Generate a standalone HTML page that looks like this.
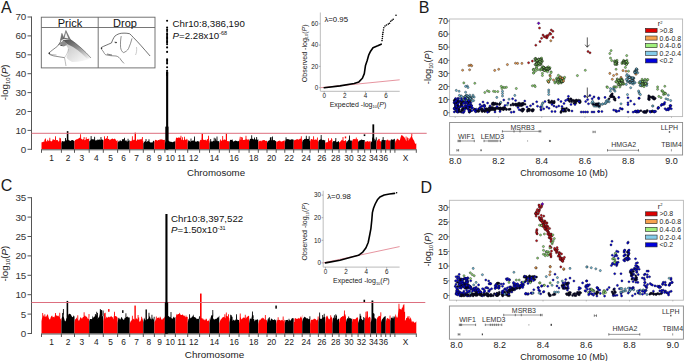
<!DOCTYPE html>
<html><head><meta charset="utf-8"><style>
html,body{margin:0;padding:0;background:#fff;}
svg{display:block;font-family:"Liberation Sans", sans-serif;}
</style></head><body>
<svg width="685" height="361" viewBox="0 0 685 361">
<rect width="685" height="361" fill="#fff"/>
<text x="1.00" y="12.60" font-size="16" text-anchor="start" fill="#1a1a1a" >A</text>
<text transform="translate(8.00,82.30) rotate(-90)" font-size="9.7" text-anchor="middle" fill="#222">-log<tspan font-size="6.01" dy="2.42">10</tspan><tspan dy="-2.42">(</tspan><tspan font-style="italic">P</tspan>)</text>
<line x1="31.50" y1="16.50" x2="31.50" y2="149.80" stroke="#555" stroke-width="1" />
<line x1="27.50" y1="149.30" x2="31.50" y2="149.30" stroke="#555" stroke-width="1" />
<text x="26.30" y="152.70" font-size="9.8" text-anchor="end" fill="#333" >0</text>
<line x1="27.50" y1="130.40" x2="31.50" y2="130.40" stroke="#555" stroke-width="1" />
<text x="26.30" y="133.80" font-size="9.8" text-anchor="end" fill="#333" >10</text>
<line x1="27.50" y1="111.50" x2="31.50" y2="111.50" stroke="#555" stroke-width="1" />
<text x="26.30" y="114.90" font-size="9.8" text-anchor="end" fill="#333" >20</text>
<line x1="27.50" y1="92.60" x2="31.50" y2="92.60" stroke="#555" stroke-width="1" />
<text x="26.30" y="96.00" font-size="9.8" text-anchor="end" fill="#333" >30</text>
<line x1="27.50" y1="73.70" x2="31.50" y2="73.70" stroke="#555" stroke-width="1" />
<text x="26.30" y="77.10" font-size="9.8" text-anchor="end" fill="#333" >40</text>
<line x1="27.50" y1="54.80" x2="31.50" y2="54.80" stroke="#555" stroke-width="1" />
<text x="26.30" y="58.20" font-size="9.8" text-anchor="end" fill="#333" >50</text>
<line x1="27.50" y1="35.90" x2="31.50" y2="35.90" stroke="#555" stroke-width="1" />
<text x="26.30" y="39.30" font-size="9.8" text-anchor="end" fill="#333" >60</text>
<line x1="27.50" y1="17.00" x2="31.50" y2="17.00" stroke="#555" stroke-width="1" />
<text x="26.30" y="20.40" font-size="9.8" text-anchor="end" fill="#333" >70</text>
<polygon points="41.50,149.30 41.50,142.60 42.21,142.07 42.92,142.21 43.63,141.59 44.34,141.84 44.44,139.53 45.24,139.53 45.34,141.84 45.05,142.05 45.15,138.39 45.95,138.39 46.05,142.05 45.76,141.51 46.48,141.25 47.19,141.38 47.29,139.83 48.09,139.83 48.19,141.38 47.90,141.66 48.61,140.85 49.32,140.54 49.42,137.80 50.22,137.80 50.32,140.54 50.03,141.48 50.74,140.68 51.45,141.40 52.16,141.02 52.87,138.91 53.58,139.44 54.29,139.92 55.00,139.69 55.10,136.15 55.90,136.15 56.00,139.69 55.71,140.80 56.42,140.00 57.14,140.11 57.85,140.20 58.56,141.81 59.27,141.00 59.37,137.82 60.17,137.82 60.27,141.00 59.98,140.68 60.08,138.29 60.88,138.29 60.98,140.68 60.69,141.01 61.40,140.76 61.40,149.30" fill="#ff0000"/>
<polygon points="61.40,149.30 61.40,143.07 62.13,141.31 62.86,141.01 63.58,141.51 64.31,141.49 65.04,140.70 65.14,138.07 65.94,138.07 66.04,140.70 65.77,140.14 66.49,140.56 67.22,139.15 67.95,139.43 68.68,140.17 69.41,140.56 70.13,140.85 70.86,140.88 71.59,139.88 72.32,139.98 73.04,140.16 73.77,140.82 74.50,141.14 74.50,149.30" fill="#000000"/>
<polygon points="74.50,149.30 74.50,141.45 75.20,140.07 75.90,139.63 76.60,139.17 77.30,139.18 78.00,138.81 78.70,138.49 79.40,137.42 80.10,138.27 80.20,134.21 81.00,134.21 81.10,138.27 80.80,138.47 81.50,138.84 82.20,139.38 82.90,139.41 83.60,138.99 83.70,136.88 84.50,136.88 84.60,138.99 84.30,140.09 85.00,140.18 85.70,139.50 85.80,137.28 86.60,137.28 86.70,139.50 86.40,139.58 87.10,139.11 87.80,139.01 88.50,138.71 89.20,138.48 89.20,149.30" fill="#ff0000"/>
<polygon points="89.20,149.30 89.20,141.41 89.91,140.65 90.61,140.03 90.71,136.11 91.51,136.11 91.61,140.03 91.31,139.60 92.02,139.32 92.72,139.29 93.43,139.29 94.14,139.73 94.23,136.78 95.04,136.78 95.14,139.73 94.84,139.62 95.55,140.67 96.25,139.79 96.95,140.78 97.66,139.27 98.36,139.89 99.07,139.15 99.78,139.70 100.48,140.18 100.58,136.98 101.38,136.98 101.48,140.18 101.19,140.20 101.89,139.16 102.59,139.78 103.30,140.09 103.30,149.30" fill="#000000"/>
<polygon points="103.30,149.30 103.30,141.73 104.02,139.32 104.11,136.21 104.92,136.21 105.02,139.32 104.73,138.89 105.44,138.98 106.16,138.28 106.88,138.31 106.97,136.00 107.78,136.00 107.88,138.31 107.59,138.92 108.30,139.01 109.02,138.84 109.73,140.17 110.45,139.50 111.16,139.29 111.88,138.78 112.59,138.61 113.31,139.29 114.02,138.91 114.74,138.60 115.45,139.24 116.17,140.66 116.88,140.68 117.60,140.11 117.60,149.30" fill="#ff0000"/>
<polygon points="117.60,149.30 117.60,142.69 118.31,141.67 119.02,140.38 119.74,141.76 119.84,140.16 120.64,140.16 120.74,141.76 120.45,141.18 121.16,141.03 121.87,141.18 121.97,139.31 122.77,139.31 122.87,141.18 122.58,139.98 123.29,139.08 124.01,139.39 124.11,137.75 124.91,137.75 125.01,139.39 124.72,140.17 125.43,140.71 126.14,140.10 126.85,141.55 127.56,141.51 127.66,138.75 128.46,138.75 128.56,141.51 128.28,141.07 128.99,140.65 129.70,140.16 129.70,149.30" fill="#000000"/>
<polygon points="129.70,149.30 129.70,142.05 130.42,140.86 131.13,141.27 131.85,140.13 131.95,136.15 132.75,136.15 132.85,140.13 132.56,140.06 133.28,140.26 133.99,139.62 134.71,139.97 135.43,139.51 136.14,140.91 136.86,140.26 137.57,139.22 138.29,139.50 139.01,139.98 139.72,139.21 140.44,139.51 141.15,138.66 141.87,139.65 141.97,136.97 142.77,136.97 142.87,139.65 142.58,140.62 143.30,140.63 143.30,149.30" fill="#ff0000"/>
<polygon points="143.30,149.30 143.30,143.57 144.04,141.92 144.78,141.46 145.52,140.95 145.62,139.05 146.42,139.05 146.52,140.95 146.26,141.98 147.00,141.83 147.74,141.02 148.48,141.34 148.58,139.24 149.38,139.24 149.48,141.34 149.22,141.79 149.96,141.69 150.70,142.64 151.44,142.32 152.18,142.77 152.92,141.51 153.66,140.55 154.40,142.02 154.40,149.30" fill="#000000"/>
<polygon points="154.40,149.30 154.40,142.33 155.10,139.73 155.80,139.95 156.50,140.08 157.20,140.90 157.90,140.01 158.60,140.10 159.30,140.28 160.00,138.97 160.70,139.70 161.40,139.40 162.10,139.20 162.80,139.99 163.50,139.94 164.20,139.72 164.90,139.97 164.90,149.30" fill="#ff0000"/>
<polygon points="164.90,149.30 164.90,143.58 165.60,141.32 166.30,141.55 167.00,140.99 167.10,137.54 167.90,137.54 168.00,140.99 167.70,140.61 168.40,140.39 169.10,141.31 169.80,141.42 170.50,141.71 171.20,141.63 171.90,141.97 172.60,142.27 173.30,141.68 174.00,141.87 174.70,141.27 175.40,141.57 175.40,149.30" fill="#000000"/>
<polygon points="175.40,149.30 175.40,141.54 176.12,137.50 176.85,137.84 177.57,138.03 178.29,137.58 179.02,137.56 179.74,137.75 180.46,137.87 180.56,135.83 181.36,135.83 181.46,137.87 181.19,138.88 181.91,140.15 182.01,137.30 182.81,137.30 182.91,140.15 182.64,139.81 183.36,140.29 184.08,139.69 184.18,136.72 184.98,136.72 185.08,139.69 184.81,139.43 185.53,139.66 186.25,139.66 186.98,138.59 187.70,140.29 187.70,149.30" fill="#ff0000"/>
<polygon points="187.70,149.30 187.70,143.41 188.40,140.26 189.10,140.52 189.80,141.24 190.50,141.90 190.60,138.54 191.40,138.54 191.50,141.90 191.20,141.31 191.90,140.99 192.60,140.48 193.30,140.60 194.00,140.47 194.10,136.59 194.90,136.59 195.00,140.47 194.70,140.42 195.40,141.52 196.10,142.02 196.80,141.28 197.50,141.09 198.20,141.52 198.90,141.21 199.60,142.21 199.60,149.30" fill="#000000"/>
<polygon points="199.60,149.30 199.60,141.60 200.31,139.99 201.01,139.71 201.72,140.15 201.82,137.73 202.62,137.73 202.72,140.15 202.43,139.94 203.14,139.71 203.84,139.87 204.55,139.97 205.26,140.18 205.96,139.17 206.67,141.09 207.38,138.93 208.09,138.95 208.19,135.81 208.99,135.81 209.09,138.95 208.79,140.67 209.50,140.22 209.50,149.30" fill="#ff0000"/>
<polygon points="209.50,149.30 209.50,143.52 210.20,141.17 210.30,138.99 211.10,138.99 211.20,141.17 210.90,140.68 211.60,141.52 212.30,141.63 213.00,140.69 213.70,140.91 213.80,137.82 214.60,137.82 214.70,140.91 214.40,141.02 215.10,141.27 215.20,138.51 216.00,138.51 216.10,141.27 215.80,140.94 216.50,140.47 216.60,136.45 217.40,136.45 217.50,140.47 217.20,141.35 217.90,140.98 218.60,141.26 219.30,140.45 219.30,149.30" fill="#000000"/>
<polygon points="219.30,149.30 219.30,142.99 220.02,141.73 220.12,139.57 220.92,139.57 221.02,141.73 220.74,141.06 221.46,140.85 222.19,140.05 222.29,135.92 223.09,135.92 223.19,140.05 222.91,140.85 223.63,139.70 224.35,139.51 225.07,139.51 225.79,140.01 226.51,140.36 227.24,141.12 227.96,141.20 228.68,141.20 229.40,140.98 229.40,149.30" fill="#ff0000"/>
<polygon points="229.40,149.30 229.40,142.43 230.14,140.09 230.88,139.69 231.62,139.91 232.35,139.25 233.09,141.51 233.83,141.42 234.57,140.96 235.31,140.40 236.05,140.70 236.78,140.89 237.52,141.33 238.26,141.22 239.00,140.69 239.00,149.30" fill="#000000"/>
<polygon points="239.00,149.30 239.00,141.41 239.72,138.35 239.82,136.68 240.62,136.68 240.72,138.35 240.44,139.22 241.16,139.90 241.26,136.95 242.06,136.95 242.16,139.90 241.89,139.27 241.99,137.53 242.79,137.53 242.89,139.27 242.61,139.55 243.33,140.05 244.05,140.12 244.77,139.72 245.49,139.40 245.59,135.75 246.39,135.75 246.49,139.40 246.21,139.50 246.94,139.33 247.66,139.65 248.38,139.27 249.10,139.73 249.10,149.30" fill="#ff0000"/>
<polygon points="249.10,149.30 249.10,141.39 249.81,139.17 250.52,138.63 251.22,139.09 251.32,135.26 252.12,135.26 252.22,139.09 251.93,138.89 252.64,138.86 253.35,139.14 254.05,139.57 254.15,137.49 254.95,137.49 255.05,139.57 254.76,139.53 255.47,139.59 256.18,139.58 256.28,137.12 257.08,137.12 257.18,139.58 256.88,139.85 257.59,139.79 258.30,139.34 258.30,149.30" fill="#000000"/>
<polygon points="258.30,149.30 258.30,142.34 259.03,140.45 259.75,141.26 260.48,140.46 261.20,141.39 261.93,140.15 262.65,140.47 263.38,139.92 264.10,140.26 264.82,139.95 265.55,141.04 266.27,140.97 267.00,140.59 267.00,149.30" fill="#ff0000"/>
<polygon points="267.00,149.30 267.00,142.99 267.71,141.29 268.42,140.99 269.12,140.09 269.83,140.49 269.93,137.53 270.73,137.53 270.83,140.49 270.54,140.51 270.64,137.05 271.44,137.05 271.54,140.51 271.25,140.82 271.95,140.09 272.05,136.61 272.85,136.61 272.95,140.09 272.66,139.91 273.37,140.18 274.08,139.97 274.78,140.18 275.49,140.94 276.20,141.17 276.20,149.30" fill="#000000"/>
<polygon points="276.20,149.30 276.20,142.41 276.92,141.16 277.63,141.68 278.35,140.76 279.07,141.29 279.78,140.29 280.50,141.27 281.22,141.76 281.93,141.32 282.65,141.19 283.37,140.67 284.08,140.73 284.80,140.28 284.80,149.30" fill="#ff0000"/>
<polygon points="284.80,149.30 284.80,142.67 285.54,139.68 285.64,137.36 286.44,137.36 286.54,139.68 286.28,139.32 287.02,139.16 287.77,139.01 288.51,139.26 289.25,139.39 289.99,139.68 290.73,139.85 291.48,139.14 292.22,139.40 292.96,139.33 293.70,139.97 293.70,149.30" fill="#000000"/>
<polygon points="293.70,149.30 293.70,141.78 294.41,139.99 295.12,139.77 295.82,140.07 296.53,139.27 297.24,139.32 297.95,139.21 298.66,139.84 299.37,139.26 300.07,138.52 300.78,138.92 300.88,136.15 301.68,136.15 301.78,138.92 301.49,139.82 302.20,138.98 302.20,149.30" fill="#ff0000"/>
<polygon points="302.20,149.30 302.20,142.26 302.92,140.07 303.64,140.11 304.35,138.93 305.07,138.85 305.79,139.27 305.89,135.72 306.69,135.72 306.79,139.27 306.51,138.47 307.23,138.99 307.95,138.95 308.66,139.09 308.76,136.31 309.56,136.31 309.66,139.09 309.38,140.79 310.10,140.23 310.10,149.30" fill="#000000"/>
<polygon points="310.10,149.30 310.10,141.69 310.85,139.17 311.61,139.04 312.36,139.30 313.12,140.01 313.22,136.29 314.02,136.29 314.12,140.01 313.87,139.99 314.63,139.87 315.38,139.50 316.14,139.59 316.89,140.05 316.99,137.50 317.79,137.50 317.89,140.05 317.65,141.27 318.40,140.27 318.40,149.30" fill="#ff0000"/>
<polygon points="318.40,149.30 318.40,142.15 319.16,139.96 319.91,139.87 320.67,139.15 320.77,135.01 321.57,135.01 321.67,139.15 321.42,139.28 322.18,139.86 322.93,140.37 323.69,139.70 324.44,140.42 325.20,139.70 325.20,149.30" fill="#000000"/>
<polygon points="325.20,149.30 325.20,143.18 325.92,141.93 326.64,142.41 327.36,142.24 328.08,141.51 328.18,138.20 328.98,138.20 329.08,141.51 328.80,141.13 329.52,140.81 330.24,140.32 330.96,140.18 331.06,138.34 331.86,138.34 331.96,140.18 331.68,140.22 332.40,139.32 332.40,149.30" fill="#ff0000"/>
<polygon points="332.40,149.30 332.40,142.66 333.13,141.32 333.87,141.06 334.60,141.21 335.33,140.59 335.43,138.02 336.23,138.02 336.33,140.59 336.07,141.02 336.80,142.33 337.53,141.74 338.27,141.34 339.00,141.16 339.00,149.30" fill="#000000"/>
<polygon points="339.00,149.30 339.00,142.77 339.70,142.12 340.40,141.62 341.10,140.70 341.80,139.82 342.50,140.46 342.60,137.06 343.40,137.06 343.50,140.46 343.20,139.94 343.90,141.03 344.60,140.94 345.30,140.04 346.00,140.47 346.00,149.30" fill="#ff0000"/>
<polygon points="346.00,149.30 346.00,143.44 346.74,140.89 347.48,141.61 348.21,140.31 348.95,139.53 349.05,135.62 349.85,135.62 349.95,139.53 349.69,139.03 350.42,140.45 351.16,140.98 351.90,140.00 351.90,149.30" fill="#000000"/>
<polygon points="351.90,149.30 351.90,142.27 352.67,139.75 353.45,139.10 354.23,139.37 355.00,138.85 355.77,139.47 355.88,137.48 356.67,137.48 356.77,139.47 356.55,139.72 357.33,139.05 358.10,139.69 358.10,149.30" fill="#ff0000"/>
<polygon points="358.10,149.30 358.10,142.11 358.83,140.90 359.57,140.50 360.30,140.36 361.03,139.83 361.77,139.40 362.50,139.99 363.23,139.99 363.97,140.04 364.70,140.09 364.70,149.30" fill="#000000"/>
<polygon points="364.70,149.30 364.70,143.30 365.44,141.22 366.18,141.83 366.91,141.13 367.65,141.09 368.39,141.72 369.12,141.13 369.86,141.55 370.60,140.80 370.60,149.30" fill="#ff0000"/>
<polygon points="370.60,149.30 370.60,142.44 371.34,142.02 372.08,140.87 372.18,137.43 372.98,137.43 373.08,140.87 372.81,139.88 373.55,140.52 374.29,140.66 374.39,138.81 375.19,138.81 375.29,140.66 375.02,139.77 375.76,140.48 375.86,137.13 376.66,137.13 376.76,140.48 376.50,140.38 376.50,149.30" fill="#000000"/>
<polygon points="376.50,149.30 376.50,142.44 377.27,140.14 378.03,140.13 378.80,139.93 379.57,140.59 380.33,141.42 381.10,140.82 381.10,149.30" fill="#ff0000"/>
<polygon points="381.10,149.30 381.10,142.34 381.87,139.74 382.63,140.01 382.73,137.07 383.53,137.07 383.63,140.01 383.40,140.01 384.17,140.04 384.93,140.15 385.70,139.94 385.70,149.30" fill="#000000"/>
<polygon points="385.70,149.30 385.70,141.78 386.47,139.95 387.23,139.66 388.00,139.57 388.77,140.87 389.53,140.38 390.30,139.95 390.30,149.30" fill="#ff0000"/>
<polygon points="390.30,149.30 390.30,141.54 391.07,139.15 391.83,139.42 392.60,139.71 393.37,139.50 394.13,139.18 394.90,138.44 394.90,149.30" fill="#000000"/>
<polygon points="394.90,149.30 394.90,143.44 395.61,140.52 396.33,140.39 397.04,138.48 397.75,139.12 398.47,139.47 399.18,140.14 399.89,140.22 400.61,137.14 401.32,135.13 402.03,135.11 402.75,135.91 403.46,136.46 404.17,137.06 404.89,138.16 405.60,140.51 405.70,136.39 406.50,136.39 406.60,140.51 406.31,141.33 407.03,140.58 407.13,137.48 407.93,137.48 408.03,140.58 407.74,140.87 408.45,140.37 408.55,138.10 409.35,138.10 409.45,140.37 409.17,139.65 409.88,138.96 410.59,137.16 411.31,135.97 411.41,133.24 412.21,133.24 412.31,135.97 412.02,136.32 412.73,138.52 413.45,139.68 414.16,140.74 414.87,143.08 415.59,143.99 416.30,143.23 416.30,149.30" fill="#ff0000"/>
<rect x="66.80" y="131.16" width="1.6" height="10.58" fill="#000"/>
<rect x="134.60" y="132.67" width="1.4" height="9.07" fill="#f00"/>
<rect x="201.60" y="133.61" width="1.4" height="8.13" fill="#f00"/>
<rect x="225.80" y="133.61" width="1.2" height="8.13" fill="#f00"/>
<rect x="363.70" y="134.37" width="1.6" height="1.70" fill="#000"/>
<rect x="372.40" y="124.35" width="1.8" height="17.39" fill="#000"/>
<rect x="344.80" y="136.45" width="1.4" height="1.89" fill="#f00"/>
<rect x="378.30" y="138.91" width="1.4" height="1.89" fill="#f00"/>
<line x1="41.50" y1="149.80" x2="416.30" y2="149.80" stroke="#555" stroke-width="1" />
<line x1="41.50" y1="149.30" x2="41.50" y2="152.80" stroke="#444" stroke-width="0.9" />
<line x1="61.40" y1="149.30" x2="61.40" y2="152.80" stroke="#444" stroke-width="0.9" />
<line x1="74.50" y1="149.30" x2="74.50" y2="152.80" stroke="#444" stroke-width="0.9" />
<line x1="89.20" y1="149.30" x2="89.20" y2="152.80" stroke="#444" stroke-width="0.9" />
<line x1="103.30" y1="149.30" x2="103.30" y2="152.80" stroke="#444" stroke-width="0.9" />
<line x1="117.60" y1="149.30" x2="117.60" y2="152.80" stroke="#444" stroke-width="0.9" />
<line x1="129.70" y1="149.30" x2="129.70" y2="152.80" stroke="#444" stroke-width="0.9" />
<line x1="143.30" y1="149.30" x2="143.30" y2="152.80" stroke="#444" stroke-width="0.9" />
<line x1="154.40" y1="149.30" x2="154.40" y2="152.80" stroke="#444" stroke-width="0.9" />
<line x1="164.90" y1="149.30" x2="164.90" y2="152.80" stroke="#444" stroke-width="0.9" />
<line x1="175.40" y1="149.30" x2="175.40" y2="152.80" stroke="#444" stroke-width="0.9" />
<line x1="187.70" y1="149.30" x2="187.70" y2="152.80" stroke="#444" stroke-width="0.9" />
<line x1="199.60" y1="149.30" x2="199.60" y2="152.80" stroke="#444" stroke-width="0.9" />
<line x1="209.50" y1="149.30" x2="209.50" y2="152.80" stroke="#444" stroke-width="0.9" />
<line x1="219.30" y1="149.30" x2="219.30" y2="152.80" stroke="#444" stroke-width="0.9" />
<line x1="229.40" y1="149.30" x2="229.40" y2="152.80" stroke="#444" stroke-width="0.9" />
<line x1="239.00" y1="149.30" x2="239.00" y2="152.80" stroke="#444" stroke-width="0.9" />
<line x1="249.10" y1="149.30" x2="249.10" y2="152.80" stroke="#444" stroke-width="0.9" />
<line x1="258.30" y1="149.30" x2="258.30" y2="152.80" stroke="#444" stroke-width="0.9" />
<line x1="267.00" y1="149.30" x2="267.00" y2="152.80" stroke="#444" stroke-width="0.9" />
<line x1="276.20" y1="149.30" x2="276.20" y2="152.80" stroke="#444" stroke-width="0.9" />
<line x1="284.80" y1="149.30" x2="284.80" y2="152.80" stroke="#444" stroke-width="0.9" />
<line x1="293.70" y1="149.30" x2="293.70" y2="152.80" stroke="#444" stroke-width="0.9" />
<line x1="302.20" y1="149.30" x2="302.20" y2="152.80" stroke="#444" stroke-width="0.9" />
<line x1="310.10" y1="149.30" x2="310.10" y2="152.80" stroke="#444" stroke-width="0.9" />
<line x1="318.40" y1="149.30" x2="318.40" y2="152.80" stroke="#444" stroke-width="0.9" />
<line x1="325.20" y1="149.30" x2="325.20" y2="152.80" stroke="#444" stroke-width="0.9" />
<line x1="332.40" y1="149.30" x2="332.40" y2="152.80" stroke="#444" stroke-width="0.9" />
<line x1="339.00" y1="149.30" x2="339.00" y2="152.80" stroke="#444" stroke-width="0.9" />
<line x1="346.00" y1="149.30" x2="346.00" y2="152.80" stroke="#444" stroke-width="0.9" />
<line x1="351.90" y1="149.30" x2="351.90" y2="152.80" stroke="#444" stroke-width="0.9" />
<line x1="358.10" y1="149.30" x2="358.10" y2="152.80" stroke="#444" stroke-width="0.9" />
<line x1="364.70" y1="149.30" x2="364.70" y2="152.80" stroke="#444" stroke-width="0.9" />
<line x1="370.60" y1="149.30" x2="370.60" y2="152.80" stroke="#444" stroke-width="0.9" />
<line x1="376.50" y1="149.30" x2="376.50" y2="152.80" stroke="#444" stroke-width="0.9" />
<line x1="381.10" y1="149.30" x2="381.10" y2="152.80" stroke="#444" stroke-width="0.9" />
<line x1="385.70" y1="149.30" x2="385.70" y2="152.80" stroke="#444" stroke-width="0.9" />
<line x1="390.30" y1="149.30" x2="390.30" y2="152.80" stroke="#444" stroke-width="0.9" />
<line x1="394.90" y1="149.30" x2="394.90" y2="152.80" stroke="#444" stroke-width="0.9" />
<line x1="416.30" y1="149.30" x2="416.30" y2="152.80" stroke="#444" stroke-width="0.9" />
<text transform="translate(51.45,161.00) scale(0.87,1)" font-size="9.6" text-anchor="middle" fill="#222">1</text>
<text transform="translate(67.95,161.00) scale(0.87,1)" font-size="9.6" text-anchor="middle" fill="#222">2</text>
<text transform="translate(81.85,161.00) scale(0.87,1)" font-size="9.6" text-anchor="middle" fill="#222">3</text>
<text transform="translate(96.25,161.00) scale(0.87,1)" font-size="9.6" text-anchor="middle" fill="#222">4</text>
<text transform="translate(110.45,161.00) scale(0.87,1)" font-size="9.6" text-anchor="middle" fill="#222">5</text>
<text transform="translate(123.65,161.00) scale(0.87,1)" font-size="9.6" text-anchor="middle" fill="#222">6</text>
<text transform="translate(136.50,161.00) scale(0.87,1)" font-size="9.6" text-anchor="middle" fill="#222">7</text>
<text transform="translate(148.85,161.00) scale(0.87,1)" font-size="9.6" text-anchor="middle" fill="#222">8</text>
<text transform="translate(159.65,161.00) scale(0.87,1)" font-size="9.6" text-anchor="middle" fill="#222">9</text>
<text transform="translate(170.15,161.00) scale(0.87,1)" font-size="9.6" text-anchor="middle" fill="#222">10</text>
<text transform="translate(181.55,161.00) scale(0.87,1)" font-size="9.6" text-anchor="middle" fill="#222">11</text>
<text transform="translate(193.65,161.00) scale(0.87,1)" font-size="9.6" text-anchor="middle" fill="#222">12</text>
<text transform="translate(214.40,161.00) scale(0.87,1)" font-size="9.6" text-anchor="middle" fill="#222">14</text>
<text transform="translate(234.20,161.00) scale(0.87,1)" font-size="9.6" text-anchor="middle" fill="#222">16</text>
<text transform="translate(253.70,161.00) scale(0.87,1)" font-size="9.6" text-anchor="middle" fill="#222">18</text>
<text transform="translate(271.60,161.00) scale(0.87,1)" font-size="9.6" text-anchor="middle" fill="#222">20</text>
<text transform="translate(289.25,161.00) scale(0.87,1)" font-size="9.6" text-anchor="middle" fill="#222">22</text>
<text transform="translate(306.15,161.00) scale(0.87,1)" font-size="9.6" text-anchor="middle" fill="#222">24</text>
<text transform="translate(321.80,161.00) scale(0.87,1)" font-size="9.6" text-anchor="middle" fill="#222">26</text>
<text transform="translate(335.70,161.00) scale(0.87,1)" font-size="9.6" text-anchor="middle" fill="#222">28</text>
<text transform="translate(348.95,161.00) scale(0.87,1)" font-size="9.6" text-anchor="middle" fill="#222">30</text>
<text transform="translate(361.40,161.00) scale(0.87,1)" font-size="9.6" text-anchor="middle" fill="#222">32</text>
<text transform="translate(373.55,161.00) scale(0.87,1)" font-size="9.6" text-anchor="middle" fill="#222">34</text>
<text transform="translate(383.40,161.00) scale(0.87,1)" font-size="9.6" text-anchor="middle" fill="#222">36</text>
<text transform="translate(405.60,161.00) scale(0.87,1)" font-size="9.6" text-anchor="middle" fill="#222">X</text>
<text x="216.00" y="175.70" font-size="9.7" text-anchor="middle" fill="#222" >Chromosome</text>
<line x1="31.50" y1="133.30" x2="426.70" y2="133.30" stroke="#dd6f7f" stroke-width="1" />
<rect x="166.1" y="71.81" width="2.1" height="77.49" fill="#000"/>
<rect x="165.3" y="126.62" width="3.2" height="22.68" fill="#000"/>
<circle cx="167.1" cy="20.8" r="1.05" fill="#000"/>
<circle cx="167.1" cy="27.6" r="1.05" fill="#000"/>
<circle cx="167.1" cy="29.6" r="1.05" fill="#000"/>
<circle cx="167.1" cy="31.0" r="1.05" fill="#000"/>
<circle cx="167.1" cy="33.2" r="1.05" fill="#000"/>
<circle cx="167.1" cy="34.6" r="1.05" fill="#000"/>
<circle cx="167.1" cy="36.0" r="1.05" fill="#000"/>
<circle cx="167.1" cy="37.4" r="1.05" fill="#000"/>
<circle cx="167.1" cy="38.6" r="1.05" fill="#000"/>
<circle cx="167.1" cy="40.0" r="1.05" fill="#000"/>
<circle cx="167.1" cy="41.4" r="1.05" fill="#000"/>
<circle cx="167.1" cy="42.8" r="1.05" fill="#000"/>
<circle cx="167.1" cy="44.2" r="1.05" fill="#000"/>
<circle cx="167.1" cy="47.4" r="1.05" fill="#000"/>
<circle cx="167.1" cy="51.9" r="1.05" fill="#000"/>
<circle cx="167.1" cy="59.2" r="1.05" fill="#000"/>
<circle cx="167.1" cy="60.6" r="1.05" fill="#000"/>
<circle cx="167.1" cy="62.0" r="1.05" fill="#000"/>
<circle cx="167.1" cy="63.4" r="1.05" fill="#000"/>
<circle cx="167.1" cy="67.2" r="1.05" fill="#000"/>
<circle cx="167.1" cy="70.8" r="1.05" fill="#000"/>
<circle cx="167.1" cy="72.2" r="1.05" fill="#000"/>
<circle cx="167.1" cy="73.6" r="1.05" fill="#000"/>
<circle cx="167.1" cy="75.0" r="1.05" fill="#000"/>
<text x="172.60" y="27.00" font-size="9.7" text-anchor="start" fill="#111" >Chr10:8,386,190</text>
<text x="172.6" y="38.5" font-size="9.7" fill="#111"><tspan font-style="italic">P</tspan>=2.28x10<tspan font-size="5.5" dy="-3.8">-68</tspan></text>
<text x="0.80" y="190.90" font-size="16" text-anchor="start" fill="#1a1a1a" >C</text>
<text transform="translate(8.00,263.70) rotate(-90)" font-size="9.7" text-anchor="middle" fill="#222">-log<tspan font-size="6.01" dy="2.42">10</tspan><tspan dy="-2.42">(</tspan><tspan font-style="italic">P</tspan>)</text>
<line x1="31.50" y1="197.20" x2="31.50" y2="334.00" stroke="#555" stroke-width="1" />
<line x1="27.50" y1="333.50" x2="31.50" y2="333.50" stroke="#555" stroke-width="1" />
<text x="26.30" y="336.90" font-size="9.8" text-anchor="end" fill="#333" >0</text>
<line x1="27.50" y1="314.10" x2="31.50" y2="314.10" stroke="#555" stroke-width="1" />
<text x="26.30" y="317.50" font-size="9.8" text-anchor="end" fill="#333" >5</text>
<line x1="27.50" y1="294.70" x2="31.50" y2="294.70" stroke="#555" stroke-width="1" />
<text x="26.30" y="298.10" font-size="9.8" text-anchor="end" fill="#333" >10</text>
<line x1="27.50" y1="275.30" x2="31.50" y2="275.30" stroke="#555" stroke-width="1" />
<text x="26.30" y="278.70" font-size="9.8" text-anchor="end" fill="#333" >15</text>
<line x1="27.50" y1="255.90" x2="31.50" y2="255.90" stroke="#555" stroke-width="1" />
<text x="26.30" y="259.30" font-size="9.8" text-anchor="end" fill="#333" >20</text>
<line x1="27.50" y1="236.50" x2="31.50" y2="236.50" stroke="#555" stroke-width="1" />
<text x="26.30" y="239.90" font-size="9.8" text-anchor="end" fill="#333" >25</text>
<line x1="27.50" y1="217.10" x2="31.50" y2="217.10" stroke="#555" stroke-width="1" />
<text x="26.30" y="220.50" font-size="9.8" text-anchor="end" fill="#333" >30</text>
<line x1="27.50" y1="197.70" x2="31.50" y2="197.70" stroke="#555" stroke-width="1" />
<text x="26.30" y="201.10" font-size="9.8" text-anchor="end" fill="#333" >35</text>
<polygon points="41.50,333.50 41.50,321.32 42.21,316.91 42.31,312.90 43.11,312.90 43.21,316.91 42.92,318.09 43.02,315.48 43.82,315.48 43.92,318.09 43.63,316.93 44.34,316.61 44.44,314.37 45.24,314.37 45.34,316.61 45.05,315.36 45.76,317.05 46.48,316.25 47.19,314.49 47.90,314.53 48.61,317.52 49.32,319.35 50.03,319.44 50.74,317.35 51.45,315.98 52.16,315.54 52.87,317.51 53.58,316.67 54.29,317.62 55.00,315.37 55.10,313.08 55.90,313.08 56.00,315.37 55.71,314.91 56.42,315.30 57.14,316.32 57.85,315.46 58.56,315.63 59.27,317.44 59.37,312.76 60.17,312.76 60.27,317.44 59.98,317.75 60.69,319.47 61.40,317.13 61.40,333.50" fill="#ff0000"/>
<polygon points="61.40,333.50 61.40,321.25 62.13,316.51 62.23,313.11 63.03,313.11 63.13,316.51 62.86,313.79 62.96,309.03 63.76,309.03 63.86,313.79 63.58,315.98 64.31,319.10 65.04,321.59 65.77,320.68 66.49,318.13 67.22,317.78 67.32,314.21 68.12,314.21 68.22,317.78 67.95,316.47 68.68,313.96 69.41,313.74 70.13,313.88 70.86,314.49 71.59,316.05 72.32,317.24 73.04,316.65 73.77,315.23 74.50,316.79 74.50,333.50" fill="#000000"/>
<polygon points="74.50,333.50 74.50,322.04 75.20,319.30 75.90,318.97 76.60,317.26 77.30,319.38 77.40,315.23 78.20,315.23 78.30,319.38 78.00,319.35 78.70,320.72 79.40,320.36 80.10,318.00 80.80,317.07 81.50,318.40 82.20,318.53 82.90,317.00 83.60,317.10 83.70,312.13 84.50,312.13 84.60,317.10 84.30,316.69 85.00,315.25 85.70,316.42 86.40,316.53 87.10,317.37 87.80,318.72 88.50,318.99 88.60,313.99 89.40,313.99 89.50,318.99 89.20,316.05 89.20,333.50" fill="#ff0000"/>
<polygon points="89.20,333.50 89.20,321.51 89.91,319.12 90.61,319.09 91.31,318.90 92.02,319.13 92.72,315.54 93.43,317.88 94.14,316.48 94.84,316.64 94.94,313.94 95.74,313.94 95.84,316.64 95.55,315.78 96.25,315.33 96.35,311.77 97.15,311.77 97.25,315.33 96.95,316.96 97.05,313.05 97.86,313.05 97.95,316.96 97.66,319.07 98.36,317.48 99.07,317.21 99.78,313.77 99.88,309.01 100.68,309.01 100.78,313.77 100.48,315.03 100.58,310.16 101.38,310.16 101.48,315.03 101.19,314.58 101.28,310.06 102.09,310.06 102.19,314.58 101.89,316.76 102.59,315.73 102.69,310.59 103.50,310.59 103.59,315.73 103.30,316.52 103.30,333.50" fill="#000000"/>
<polygon points="103.30,333.50 103.30,321.16 104.02,317.24 104.11,313.16 104.92,313.16 105.02,317.24 104.73,317.37 104.83,312.87 105.63,312.87 105.73,317.37 105.44,318.86 106.16,317.68 106.88,316.58 107.59,317.98 108.30,317.12 109.02,316.52 109.73,317.42 110.45,316.65 111.16,315.81 111.88,317.02 112.59,316.92 113.31,319.43 114.02,315.12 114.12,311.85 114.92,311.85 115.02,315.12 114.74,315.99 115.45,316.01 116.17,316.47 116.88,316.41 117.60,317.88 117.60,333.50" fill="#ff0000"/>
<polygon points="117.60,333.50 117.60,322.93 118.31,318.27 119.02,317.58 119.74,319.22 120.45,319.58 121.16,317.53 121.87,317.12 122.58,318.90 123.29,319.56 124.01,319.97 124.72,317.67 125.43,318.08 125.53,313.21 126.33,313.21 126.43,318.08 126.14,319.03 126.24,316.98 127.04,316.98 127.14,319.03 126.85,318.05 127.56,316.24 128.28,317.25 128.99,317.71 129.70,317.20 129.70,333.50" fill="#000000"/>
<polygon points="129.70,333.50 129.70,323.99 130.42,321.83 131.13,320.64 131.85,319.88 131.95,315.70 132.75,315.70 132.85,319.88 132.56,320.28 133.28,318.44 133.99,319.51 134.71,319.60 135.43,319.62 136.14,318.57 136.86,318.59 137.57,319.80 137.67,315.10 138.47,315.10 138.57,319.80 138.29,321.90 138.39,317.55 139.19,317.55 139.29,321.90 139.01,322.07 139.72,321.39 140.44,321.17 141.15,318.85 141.25,316.63 142.05,316.63 142.15,318.85 141.87,317.62 142.58,318.77 143.30,321.84 143.30,333.50" fill="#ff0000"/>
<polygon points="143.30,333.50 143.30,322.60 144.04,317.56 144.78,319.13 145.52,320.61 146.26,319.73 147.00,319.55 147.74,318.90 148.48,318.16 148.58,312.81 149.38,312.81 149.48,318.16 149.22,315.97 149.96,316.66 150.70,318.98 151.44,319.53 151.54,314.80 152.34,314.80 152.44,319.53 152.18,319.91 152.92,318.00 153.66,319.94 153.76,316.86 154.56,316.86 154.66,319.94 154.40,318.07 154.40,333.50" fill="#000000"/>
<polygon points="154.40,333.50 154.40,322.11 155.10,320.95 155.80,319.03 155.90,316.60 156.70,316.60 156.80,319.03 156.50,320.43 157.20,317.80 157.90,317.92 158.60,317.24 159.30,318.63 160.00,316.32 160.70,317.58 161.40,319.28 162.10,319.92 162.80,318.53 163.50,318.46 164.20,317.73 164.90,316.31 164.90,333.50" fill="#ff0000"/>
<polygon points="164.90,333.50 164.90,321.80 165.60,317.15 166.30,316.18 166.40,312.32 167.20,312.32 167.30,316.18 167.00,317.37 167.70,315.78 168.40,315.89 169.10,316.39 169.80,317.32 170.50,317.19 170.60,312.01 171.40,312.01 171.50,317.19 171.20,318.44 171.90,318.08 172.60,319.05 173.30,317.36 174.00,316.61 174.70,318.22 175.40,316.86 175.40,333.50" fill="#000000"/>
<polygon points="175.40,333.50 175.40,321.91 176.12,315.40 176.85,313.77 177.57,314.65 178.29,314.08 179.02,314.02 179.74,312.41 180.46,314.74 181.19,315.02 181.91,315.03 182.64,314.23 183.36,315.77 184.08,315.18 184.81,316.30 185.53,317.50 185.63,315.53 186.43,315.53 186.53,317.50 186.25,316.81 186.98,317.11 187.70,316.71 187.70,333.50" fill="#ff0000"/>
<polygon points="187.70,333.50 187.70,323.10 188.40,319.16 189.10,318.37 189.20,314.30 190.00,314.30 190.10,318.37 189.80,319.16 190.50,317.69 191.20,318.07 191.90,316.84 192.60,316.49 193.30,314.37 194.00,317.19 194.70,316.97 195.40,317.56 196.10,317.99 196.80,319.20 197.50,318.71 198.20,318.92 198.90,318.61 199.00,316.26 199.80,316.26 199.90,318.61 199.60,319.11 199.60,333.50" fill="#000000"/>
<polygon points="199.60,333.50 199.60,323.83 200.31,320.62 201.01,318.72 201.72,317.85 202.43,318.33 203.14,319.91 203.84,318.47 204.55,320.30 205.26,320.18 205.96,318.48 206.67,319.00 207.38,321.28 208.09,320.76 208.79,320.48 209.50,318.08 209.50,333.50" fill="#ff0000"/>
<polygon points="209.50,333.50 209.50,322.82 210.20,319.60 210.90,316.70 211.60,314.89 212.30,315.48 212.40,310.08 213.20,310.08 213.30,315.48 213.00,318.09 213.70,319.14 214.40,319.51 215.10,319.14 215.80,318.66 216.50,319.05 217.20,317.55 217.90,317.75 218.60,316.96 219.30,315.40 219.30,333.50" fill="#000000"/>
<polygon points="219.30,333.50 219.30,323.44 220.02,320.92 220.74,319.55 221.46,318.91 222.19,317.47 222.91,317.55 223.63,316.86 224.35,317.52 224.45,314.14 225.25,314.14 225.35,317.52 225.07,318.58 225.79,317.46 225.89,312.50 226.69,312.50 226.79,317.46 226.51,318.18 226.61,315.91 227.41,315.91 227.51,318.18 227.24,316.40 227.96,316.48 228.06,314.24 228.86,314.24 228.96,316.48 228.68,316.85 229.40,318.87 229.40,333.50" fill="#ff0000"/>
<polygon points="229.40,333.50 229.40,322.61 230.14,318.96 230.24,314.70 231.04,314.70 231.14,318.96 230.88,318.94 230.98,315.24 231.78,315.24 231.88,318.94 231.62,320.20 231.72,316.86 232.52,316.86 232.62,320.20 232.35,321.01 233.09,320.21 233.83,319.56 234.57,320.65 235.31,320.22 236.05,318.86 236.15,314.15 236.95,314.15 237.05,318.86 236.78,319.76 237.52,319.44 238.26,319.88 239.00,319.99 239.00,333.50" fill="#000000"/>
<polygon points="239.00,333.50 239.00,323.49 239.72,318.44 239.82,313.47 240.62,313.47 240.72,318.44 240.44,316.06 241.16,318.64 241.89,319.49 242.61,318.09 243.33,317.59 244.05,317.63 244.77,317.73 244.87,314.86 245.67,314.86 245.77,317.73 245.49,318.52 246.21,318.29 246.94,316.41 247.66,316.84 248.38,315.75 249.10,316.11 249.10,333.50" fill="#ff0000"/>
<polygon points="249.10,333.50 249.10,323.38 249.81,318.45 250.52,318.42 251.22,319.19 251.93,316.02 252.03,311.54 252.83,311.54 252.93,316.02 252.64,317.80 252.74,315.19 253.54,315.19 253.64,317.80 253.35,318.95 254.05,319.06 254.76,321.47 255.47,319.85 256.18,319.60 256.88,320.03 257.59,319.08 258.30,320.13 258.30,333.50" fill="#000000"/>
<polygon points="258.30,333.50 258.30,323.96 259.03,320.90 259.75,319.50 260.48,320.07 261.20,318.10 261.93,318.94 262.65,317.57 263.38,318.02 264.10,319.03 264.82,319.66 264.93,315.10 265.72,315.10 265.82,319.66 265.55,319.30 266.27,320.40 267.00,319.54 267.00,333.50" fill="#ff0000"/>
<polygon points="267.00,333.50 267.00,323.12 267.71,319.33 268.42,317.41 269.12,320.33 269.22,317.32 270.02,317.32 270.12,320.33 269.83,320.76 270.54,320.49 271.25,318.55 271.95,318.76 272.66,319.87 273.37,319.96 274.08,319.88 274.78,319.05 275.49,320.38 276.20,319.62 276.20,333.50" fill="#000000"/>
<polygon points="276.20,333.50 276.20,323.81 276.92,320.21 277.63,320.31 277.73,317.33 278.53,317.33 278.63,320.31 278.35,320.08 279.07,319.92 279.78,319.81 280.50,320.72 281.22,319.77 281.93,320.55 282.65,319.94 282.75,316.52 283.55,316.52 283.65,319.94 283.37,321.44 284.08,320.57 284.80,319.50 284.80,333.50" fill="#ff0000"/>
<polygon points="284.80,333.50 284.80,323.75 285.54,319.99 286.28,320.00 287.02,320.02 287.77,319.69 288.51,321.59 288.61,318.70 289.41,318.70 289.51,321.59 289.25,320.70 289.99,319.89 290.73,320.86 291.48,318.77 292.22,318.24 292.96,317.98 293.70,318.56 293.70,333.50" fill="#000000"/>
<polygon points="293.70,333.50 293.70,322.12 294.41,321.92 294.51,318.54 295.31,318.54 295.41,321.92 295.12,318.03 295.82,318.28 296.53,318.99 297.24,318.61 297.95,319.11 298.66,317.78 299.37,318.85 300.07,317.98 300.78,316.32 301.49,318.59 302.20,314.56 302.20,333.50" fill="#ff0000"/>
<polygon points="302.20,333.50 302.20,321.74 302.92,318.65 303.64,317.98 304.35,316.54 305.07,317.42 305.79,317.34 306.51,318.50 307.23,318.20 307.95,318.53 308.66,319.19 309.38,318.99 309.48,316.28 310.28,316.28 310.38,318.99 310.10,319.45 310.10,333.50" fill="#000000"/>
<polygon points="310.10,333.50 310.10,324.02 310.85,319.34 311.61,320.10 312.36,319.63 313.12,319.77 313.87,318.75 314.63,318.79 315.38,318.92 316.14,319.82 316.89,320.48 317.65,319.07 317.75,316.45 318.55,316.45 318.65,319.07 318.40,321.16 318.40,333.50" fill="#ff0000"/>
<polygon points="318.40,333.50 318.40,321.73 319.16,317.74 319.26,312.53 320.06,312.53 320.16,317.74 319.91,318.38 320.67,318.75 321.42,318.88 322.18,318.06 322.28,315.08 323.08,315.08 323.18,318.06 322.93,317.54 323.69,317.27 323.79,313.69 324.59,313.69 324.69,317.27 324.44,317.33 325.20,317.06 325.20,333.50" fill="#000000"/>
<polygon points="325.20,333.50 325.20,323.30 325.92,318.07 326.64,315.74 327.36,315.85 328.08,317.66 328.80,319.30 329.52,319.16 330.24,318.05 330.34,315.31 331.14,315.31 331.24,318.05 330.96,316.27 331.68,317.31 332.40,318.85 332.40,333.50" fill="#ff0000"/>
<polygon points="332.40,333.50 332.40,323.19 333.13,317.21 333.87,318.46 333.97,315.14 334.77,315.14 334.87,318.46 334.60,319.62 335.33,317.56 335.43,314.19 336.23,314.19 336.33,317.56 336.07,317.70 336.17,315.50 336.97,315.50 337.07,317.70 336.80,317.61 337.53,320.22 338.27,318.57 339.00,319.05 339.00,333.50" fill="#000000"/>
<polygon points="339.00,333.50 339.00,322.91 339.70,318.63 340.40,318.26 341.10,316.95 341.80,316.97 342.50,316.07 343.20,316.50 343.90,315.60 344.00,310.43 344.80,310.43 344.90,315.60 344.60,314.62 345.30,314.15 346.00,317.14 346.00,333.50" fill="#ff0000"/>
<polygon points="346.00,333.50 346.00,322.24 346.74,319.27 347.48,318.07 348.21,318.69 348.31,316.55 349.11,316.55 349.21,318.69 348.95,317.49 349.69,318.24 350.42,318.13 351.16,318.61 351.90,318.99 351.90,333.50" fill="#000000"/>
<polygon points="351.90,333.50 351.90,323.33 352.67,318.55 353.45,319.13 354.23,318.96 355.00,319.59 355.77,318.68 356.55,317.85 357.33,317.02 358.10,318.38 358.10,333.50" fill="#ff0000"/>
<polygon points="358.10,333.50 358.10,322.96 358.83,320.81 359.57,318.57 359.67,313.79 360.47,313.79 360.57,318.57 360.30,318.67 360.40,315.76 361.20,315.76 361.30,318.67 361.03,319.31 361.77,318.72 362.50,320.24 363.23,319.88 363.33,317.11 364.13,317.11 364.23,319.88 363.97,318.55 364.70,317.76 364.70,333.50" fill="#000000"/>
<polygon points="364.70,333.50 364.70,321.54 365.44,316.31 365.54,311.78 366.34,311.78 366.44,316.31 366.18,314.54 366.91,318.13 367.01,315.19 367.81,315.19 367.91,318.13 367.65,319.30 368.39,317.77 369.12,316.90 369.86,316.66 370.60,317.94 370.60,333.50" fill="#ff0000"/>
<polygon points="370.60,333.50 370.60,322.50 371.34,320.77 372.08,317.67 372.81,317.22 372.91,313.05 373.71,313.05 373.81,317.22 373.55,316.62 373.65,313.83 374.45,313.83 374.55,316.62 374.29,316.24 375.02,318.92 375.76,317.92 376.50,319.46 376.50,333.50" fill="#000000"/>
<polygon points="376.50,333.50 376.50,321.85 377.27,317.52 378.03,317.24 378.80,315.83 379.57,316.09 380.33,316.34 380.43,312.23 381.23,312.23 381.33,316.34 381.10,316.09 381.10,333.50" fill="#ff0000"/>
<polygon points="381.10,333.50 381.10,322.19 381.87,319.79 382.63,318.78 383.40,317.74 384.17,316.87 384.93,316.51 385.70,315.88 385.70,333.50" fill="#000000"/>
<polygon points="385.70,333.50 385.70,322.49 386.47,319.23 387.23,318.10 388.00,318.35 388.77,319.11 389.53,319.60 389.63,315.42 390.43,315.42 390.53,319.60 390.30,319.09 390.30,333.50" fill="#ff0000"/>
<polygon points="390.30,333.50 390.30,321.30 391.07,317.99 391.83,317.49 392.60,318.56 392.70,316.60 393.50,316.60 393.60,318.56 393.37,319.14 394.13,317.47 394.90,315.83 394.90,333.50" fill="#000000"/>
<polygon points="394.90,333.50 394.90,318.37 395.61,313.73 396.33,316.52 397.04,317.88 397.75,316.64 398.47,308.74 398.57,303.84 399.37,303.84 399.47,308.74 399.18,308.59 399.89,308.69 400.61,309.34 401.32,309.72 402.03,307.59 402.75,307.38 402.85,305.32 403.65,305.32 403.75,307.38 403.46,309.50 403.56,304.24 404.36,304.24 404.46,309.50 404.17,316.40 404.27,311.87 405.07,311.87 405.17,316.40 404.89,320.55 405.60,320.33 406.31,317.79 407.03,318.14 407.74,315.75 408.45,318.58 408.55,316.04 409.35,316.04 409.45,318.58 409.17,317.55 409.88,319.55 410.59,316.92 411.31,319.39 412.02,322.38 412.73,320.93 413.45,321.47 414.16,322.59 414.87,322.66 415.59,322.23 416.30,321.21 416.30,333.50" fill="#ff0000"/>
<rect x="66.60" y="300.91" width="1.6" height="20.95" fill="#000"/>
<rect x="134.40" y="305.56" width="1.4" height="16.30" fill="#f00"/>
<rect x="200.00" y="293.54" width="1.6" height="28.32" fill="#f00"/>
<rect x="108.10" y="309.06" width="1.4" height="2.72" fill="#f00"/>
<rect x="122.10" y="310.22" width="1.4" height="2.72" fill="#000"/>
<rect x="145.50" y="309.44" width="1.4" height="12.42" fill="#000"/>
<rect x="275.35" y="305.56" width="1.5" height="3.10" fill="#000"/>
<rect x="363.50" y="299.74" width="1.6" height="3.10" fill="#000"/>
<rect x="371.50" y="300.52" width="1.8" height="21.34" fill="#000"/>
<rect x="366.50" y="311.38" width="1.4" height="10.48" fill="#f00"/>
<line x1="41.50" y1="334.00" x2="416.30" y2="334.00" stroke="#555" stroke-width="1" />
<line x1="41.50" y1="333.50" x2="41.50" y2="337.00" stroke="#444" stroke-width="0.9" />
<line x1="61.40" y1="333.50" x2="61.40" y2="337.00" stroke="#444" stroke-width="0.9" />
<line x1="74.50" y1="333.50" x2="74.50" y2="337.00" stroke="#444" stroke-width="0.9" />
<line x1="89.20" y1="333.50" x2="89.20" y2="337.00" stroke="#444" stroke-width="0.9" />
<line x1="103.30" y1="333.50" x2="103.30" y2="337.00" stroke="#444" stroke-width="0.9" />
<line x1="117.60" y1="333.50" x2="117.60" y2="337.00" stroke="#444" stroke-width="0.9" />
<line x1="129.70" y1="333.50" x2="129.70" y2="337.00" stroke="#444" stroke-width="0.9" />
<line x1="143.30" y1="333.50" x2="143.30" y2="337.00" stroke="#444" stroke-width="0.9" />
<line x1="154.40" y1="333.50" x2="154.40" y2="337.00" stroke="#444" stroke-width="0.9" />
<line x1="164.90" y1="333.50" x2="164.90" y2="337.00" stroke="#444" stroke-width="0.9" />
<line x1="175.40" y1="333.50" x2="175.40" y2="337.00" stroke="#444" stroke-width="0.9" />
<line x1="187.70" y1="333.50" x2="187.70" y2="337.00" stroke="#444" stroke-width="0.9" />
<line x1="199.60" y1="333.50" x2="199.60" y2="337.00" stroke="#444" stroke-width="0.9" />
<line x1="209.50" y1="333.50" x2="209.50" y2="337.00" stroke="#444" stroke-width="0.9" />
<line x1="219.30" y1="333.50" x2="219.30" y2="337.00" stroke="#444" stroke-width="0.9" />
<line x1="229.40" y1="333.50" x2="229.40" y2="337.00" stroke="#444" stroke-width="0.9" />
<line x1="239.00" y1="333.50" x2="239.00" y2="337.00" stroke="#444" stroke-width="0.9" />
<line x1="249.10" y1="333.50" x2="249.10" y2="337.00" stroke="#444" stroke-width="0.9" />
<line x1="258.30" y1="333.50" x2="258.30" y2="337.00" stroke="#444" stroke-width="0.9" />
<line x1="267.00" y1="333.50" x2="267.00" y2="337.00" stroke="#444" stroke-width="0.9" />
<line x1="276.20" y1="333.50" x2="276.20" y2="337.00" stroke="#444" stroke-width="0.9" />
<line x1="284.80" y1="333.50" x2="284.80" y2="337.00" stroke="#444" stroke-width="0.9" />
<line x1="293.70" y1="333.50" x2="293.70" y2="337.00" stroke="#444" stroke-width="0.9" />
<line x1="302.20" y1="333.50" x2="302.20" y2="337.00" stroke="#444" stroke-width="0.9" />
<line x1="310.10" y1="333.50" x2="310.10" y2="337.00" stroke="#444" stroke-width="0.9" />
<line x1="318.40" y1="333.50" x2="318.40" y2="337.00" stroke="#444" stroke-width="0.9" />
<line x1="325.20" y1="333.50" x2="325.20" y2="337.00" stroke="#444" stroke-width="0.9" />
<line x1="332.40" y1="333.50" x2="332.40" y2="337.00" stroke="#444" stroke-width="0.9" />
<line x1="339.00" y1="333.50" x2="339.00" y2="337.00" stroke="#444" stroke-width="0.9" />
<line x1="346.00" y1="333.50" x2="346.00" y2="337.00" stroke="#444" stroke-width="0.9" />
<line x1="351.90" y1="333.50" x2="351.90" y2="337.00" stroke="#444" stroke-width="0.9" />
<line x1="358.10" y1="333.50" x2="358.10" y2="337.00" stroke="#444" stroke-width="0.9" />
<line x1="364.70" y1="333.50" x2="364.70" y2="337.00" stroke="#444" stroke-width="0.9" />
<line x1="370.60" y1="333.50" x2="370.60" y2="337.00" stroke="#444" stroke-width="0.9" />
<line x1="376.50" y1="333.50" x2="376.50" y2="337.00" stroke="#444" stroke-width="0.9" />
<line x1="381.10" y1="333.50" x2="381.10" y2="337.00" stroke="#444" stroke-width="0.9" />
<line x1="385.70" y1="333.50" x2="385.70" y2="337.00" stroke="#444" stroke-width="0.9" />
<line x1="390.30" y1="333.50" x2="390.30" y2="337.00" stroke="#444" stroke-width="0.9" />
<line x1="394.90" y1="333.50" x2="394.90" y2="337.00" stroke="#444" stroke-width="0.9" />
<line x1="416.30" y1="333.50" x2="416.30" y2="337.00" stroke="#444" stroke-width="0.9" />
<text transform="translate(51.45,345.20) scale(0.87,1)" font-size="9.6" text-anchor="middle" fill="#222">1</text>
<text transform="translate(67.95,345.20) scale(0.87,1)" font-size="9.6" text-anchor="middle" fill="#222">2</text>
<text transform="translate(81.85,345.20) scale(0.87,1)" font-size="9.6" text-anchor="middle" fill="#222">3</text>
<text transform="translate(96.25,345.20) scale(0.87,1)" font-size="9.6" text-anchor="middle" fill="#222">4</text>
<text transform="translate(110.45,345.20) scale(0.87,1)" font-size="9.6" text-anchor="middle" fill="#222">5</text>
<text transform="translate(123.65,345.20) scale(0.87,1)" font-size="9.6" text-anchor="middle" fill="#222">6</text>
<text transform="translate(136.50,345.20) scale(0.87,1)" font-size="9.6" text-anchor="middle" fill="#222">7</text>
<text transform="translate(148.85,345.20) scale(0.87,1)" font-size="9.6" text-anchor="middle" fill="#222">8</text>
<text transform="translate(159.65,345.20) scale(0.87,1)" font-size="9.6" text-anchor="middle" fill="#222">9</text>
<text transform="translate(170.15,345.20) scale(0.87,1)" font-size="9.6" text-anchor="middle" fill="#222">10</text>
<text transform="translate(181.55,345.20) scale(0.87,1)" font-size="9.6" text-anchor="middle" fill="#222">11</text>
<text transform="translate(193.65,345.20) scale(0.87,1)" font-size="9.6" text-anchor="middle" fill="#222">12</text>
<text transform="translate(214.40,345.20) scale(0.87,1)" font-size="9.6" text-anchor="middle" fill="#222">14</text>
<text transform="translate(234.20,345.20) scale(0.87,1)" font-size="9.6" text-anchor="middle" fill="#222">16</text>
<text transform="translate(253.70,345.20) scale(0.87,1)" font-size="9.6" text-anchor="middle" fill="#222">18</text>
<text transform="translate(271.60,345.20) scale(0.87,1)" font-size="9.6" text-anchor="middle" fill="#222">20</text>
<text transform="translate(289.25,345.20) scale(0.87,1)" font-size="9.6" text-anchor="middle" fill="#222">22</text>
<text transform="translate(306.15,345.20) scale(0.87,1)" font-size="9.6" text-anchor="middle" fill="#222">24</text>
<text transform="translate(321.80,345.20) scale(0.87,1)" font-size="9.6" text-anchor="middle" fill="#222">26</text>
<text transform="translate(335.70,345.20) scale(0.87,1)" font-size="9.6" text-anchor="middle" fill="#222">28</text>
<text transform="translate(348.95,345.20) scale(0.87,1)" font-size="9.6" text-anchor="middle" fill="#222">30</text>
<text transform="translate(361.40,345.20) scale(0.87,1)" font-size="9.6" text-anchor="middle" fill="#222">32</text>
<text transform="translate(373.55,345.20) scale(0.87,1)" font-size="9.6" text-anchor="middle" fill="#222">34</text>
<text transform="translate(383.40,345.20) scale(0.87,1)" font-size="9.6" text-anchor="middle" fill="#222">36</text>
<text transform="translate(405.60,345.20) scale(0.87,1)" font-size="9.6" text-anchor="middle" fill="#222">X</text>
<text x="214.50" y="358.40" font-size="9.9" text-anchor="middle" fill="#222" >Chromosome</text>
<line x1="31.50" y1="302.50" x2="425.30" y2="302.50" stroke="#dd6f7f" stroke-width="1" />
<rect x="165.4" y="214" width="2.1" height="119.50" fill="#000"/>
<rect x="164.8" y="302.46" width="3.4" height="31.04" fill="#000"/>
<text x="171.00" y="221.90" font-size="9.7" text-anchor="start" fill="#111" >Chr10:8,397,522</text>
<text x="171.0" y="233.3" font-size="9.7" fill="#111"><tspan font-style="italic">P</tspan>=1.50x10<tspan font-size="5.5" dy="-3.8">-31</tspan></text>
<line x1="320.40" y1="12.50" x2="320.40" y2="91.30" stroke="#c8c8c8" stroke-width="1.2" />
<line x1="320.40" y1="91.30" x2="399.70" y2="91.30" stroke="#c8c8c8" stroke-width="1.2" />
<line x1="318.90" y1="87.70" x2="320.40" y2="87.70" stroke="#999" stroke-width="0.8" />
<text x="318.20" y="89.90" font-size="6.3" text-anchor="end" fill="#222" >0</text>
<line x1="318.90" y1="66.40" x2="320.40" y2="66.40" stroke="#999" stroke-width="0.8" />
<text x="318.20" y="68.60" font-size="6.3" text-anchor="end" fill="#222" >20</text>
<line x1="318.90" y1="45.10" x2="320.40" y2="45.10" stroke="#999" stroke-width="0.8" />
<text x="318.20" y="47.30" font-size="6.3" text-anchor="end" fill="#222" >40</text>
<line x1="318.90" y1="23.80" x2="320.40" y2="23.80" stroke="#999" stroke-width="0.8" />
<text x="318.20" y="26.00" font-size="6.3" text-anchor="end" fill="#222" >60</text>
<line x1="324.20" y1="91.30" x2="324.20" y2="92.80" stroke="#999" stroke-width="0.8" />
<text x="324.20" y="97.90" font-size="6.3" text-anchor="middle" fill="#222" >0</text>
<line x1="344.80" y1="91.30" x2="344.80" y2="92.80" stroke="#999" stroke-width="0.8" />
<text x="344.80" y="97.90" font-size="6.3" text-anchor="middle" fill="#222" >2</text>
<line x1="365.40" y1="91.30" x2="365.40" y2="92.80" stroke="#999" stroke-width="0.8" />
<text x="365.40" y="97.90" font-size="6.3" text-anchor="middle" fill="#222" >4</text>
<line x1="386.00" y1="91.30" x2="386.00" y2="92.80" stroke="#999" stroke-width="0.8" />
<text x="386.00" y="97.90" font-size="6.3" text-anchor="middle" fill="#222" >6</text>
<line x1="320.40" y1="87.70" x2="399.70" y2="79.80" stroke="#e07a88" stroke-width="0.8" />
<path d="M324.20,87.70 L340.00,85.90 L354.10,83.50 L358.90,81.90 L362.40,78.30 L364.30,73.60 L365.50,65.40 L367.10,60.70 L368.80,54.80 L370.60,51.20 L373.00,47.70 L377.70,45.80 L381.20,44.20" fill="none" stroke="#000" stroke-width="1.6" stroke-linejoin="round" stroke-linecap="round"/>
<text x="324.40" y="22.30" font-size="7.8" text-anchor="start" fill="#111" >&#955;=0.95</text>
<text transform="translate(306.70,53.30) rotate(-90)" font-size="7.0" text-anchor="middle" fill="#222">Observed -log<tspan font-size="4" dy="1.5">10</tspan><tspan dy="-1.5">(</tspan><tspan font-style="italic">P</tspan>)</text>
<text x="358.00" y="106.70" font-size="7.0" text-anchor="middle" fill="#222">Expected -log<tspan font-size="4" dy="1.5">10</tspan><tspan dy="-1.5">(</tspan><tspan font-style="italic">P</tspan>)</text>
<circle cx="382" cy="40.6" r="0.8" fill="#000"/>
<circle cx="382.3" cy="38.5" r="0.8" fill="#000"/>
<circle cx="382.5" cy="36.5" r="0.8" fill="#000"/>
<circle cx="382.7" cy="34.4" r="0.8" fill="#000"/>
<circle cx="383.0" cy="32.4" r="0.8" fill="#000"/>
<circle cx="383.4" cy="30.0" r="0.8" fill="#000"/>
<circle cx="383.8" cy="27.8" r="0.8" fill="#000"/>
<circle cx="385" cy="26.0" r="0.8" fill="#000"/>
<circle cx="386.5" cy="25.0" r="0.8" fill="#000"/>
<circle cx="388.3" cy="24.1" r="0.8" fill="#000"/>
<circle cx="389.5" cy="23.2" r="0.8" fill="#000"/>
<circle cx="390.7" cy="21.3" r="0.8" fill="#000"/>
<circle cx="392" cy="20.2" r="0.8" fill="#000"/>
<circle cx="393.2" cy="19.2" r="0.8" fill="#000"/>
<circle cx="396" cy="15.2" r="0.8" fill="#000"/>
<line x1="323.20" y1="190.80" x2="323.20" y2="267.20" stroke="#c8c8c8" stroke-width="1.2" />
<line x1="323.20" y1="267.20" x2="399.60" y2="267.20" stroke="#c8c8c8" stroke-width="1.2" />
<line x1="321.70" y1="262.90" x2="323.20" y2="262.90" stroke="#999" stroke-width="0.8" />
<text x="321.00" y="265.10" font-size="6.3" text-anchor="end" fill="#222" >0</text>
<line x1="321.70" y1="240.30" x2="323.20" y2="240.30" stroke="#999" stroke-width="0.8" />
<text x="321.00" y="242.50" font-size="6.3" text-anchor="end" fill="#222" >10</text>
<line x1="321.70" y1="217.70" x2="323.20" y2="217.70" stroke="#999" stroke-width="0.8" />
<text x="321.00" y="219.90" font-size="6.3" text-anchor="end" fill="#222" >20</text>
<line x1="321.70" y1="195.10" x2="323.20" y2="195.10" stroke="#999" stroke-width="0.8" />
<text x="321.00" y="197.30" font-size="6.3" text-anchor="end" fill="#222" >30</text>
<line x1="325.50" y1="267.20" x2="325.50" y2="268.70" stroke="#999" stroke-width="0.8" />
<text x="325.50" y="273.80" font-size="6.3" text-anchor="middle" fill="#222" >0</text>
<line x1="345.90" y1="267.20" x2="345.90" y2="268.70" stroke="#999" stroke-width="0.8" />
<text x="345.90" y="273.80" font-size="6.3" text-anchor="middle" fill="#222" >2</text>
<line x1="366.30" y1="267.20" x2="366.30" y2="268.70" stroke="#999" stroke-width="0.8" />
<text x="366.30" y="273.80" font-size="6.3" text-anchor="middle" fill="#222" >4</text>
<line x1="386.70" y1="267.20" x2="386.70" y2="268.70" stroke="#999" stroke-width="0.8" />
<text x="386.70" y="273.80" font-size="6.3" text-anchor="middle" fill="#222" >6</text>
<line x1="323.20" y1="262.90" x2="399.60" y2="246.60" stroke="#e07a88" stroke-width="0.8" />
<path d="M325.50,262.90 L340.00,260.30 L350.00,257.60 L358.50,255.30 L362.80,252.10 L366.00,247.80 L368.20,242.50 L369.70,235.00 L370.90,228.60 L371.80,220.00 L372.40,212.60 L373.50,208.30 L375.20,204.00 L377.40,199.80 L379.90,197.00 L384.20,195.00 L389.50,194.00 L394.50,193.40" fill="none" stroke="#000" stroke-width="1.6" stroke-linejoin="round" stroke-linecap="round"/>
<text x="327.20" y="199.40" font-size="7.8" text-anchor="start" fill="#111" >&#955;=0.98</text>
<text transform="translate(307.20,231.50) rotate(-90)" font-size="7.0" text-anchor="middle" fill="#222">Observed -log<tspan font-size="4" dy="1.5">10</tspan><tspan dy="-1.5">(</tspan><tspan font-style="italic">P</tspan>)</text>
<text x="361.40" y="283.00" font-size="7.0" text-anchor="middle" fill="#222">Expected -log<tspan font-size="4" dy="1.5">10</tspan><tspan dy="-1.5">(</tspan><tspan font-style="italic">P</tspan>)</text>
<circle cx="396.6" cy="192.7" r="0.8" fill="#000"/>
<rect x="41.30" y="17.20" width="113.70" height="50.70" fill="none" stroke="#666" stroke-width="0.9" />
<line x1="41.30" y1="27.50" x2="155.00" y2="27.50" stroke="#666" stroke-width="0.9" />
<line x1="98.20" y1="17.20" x2="98.20" y2="67.90" stroke="#666" stroke-width="0.9" />
<text x="70.00" y="26.60" font-size="11" text-anchor="middle" fill="#111" >Prick</text>
<text x="125.00" y="26.60" font-size="11" text-anchor="middle" fill="#111" >Drop</text>

<defs><linearGradient id="hg" x1="0" y1="0" x2="1" y2="1"><stop offset="0" stop-color="#4a4a4a"/><stop offset="0.45" stop-color="#8a8a8a"/><stop offset="1" stop-color="#f6f6f6"/></linearGradient>
<linearGradient id="hg2" x1="0" y1="0" x2="1" y2="1"><stop offset="0" stop-color="#bbb"/><stop offset="1" stop-color="#fff"/></linearGradient></defs>
<path d="M62,41 L70.4,39.5 C77,44 85,51 91,58 C86,60.5 79,62 72,62 C68.5,60 66.5,58 66.5,57 C67.8,54 68.3,51 67.8,48 C66.8,45.5 65,44 62,42.5 Z" fill="url(#hg2)"/>
<path d="M62.5,40.2 L70.4,39.5 C77,44 85,51 91,58 C89,58.6 87.5,58.6 86.5,58.2 C81,52.5 75,47.5 68,44.5 C66,43.2 64,42 62.5,40.2 Z" fill="url(#hg)"/>
<path d="M58.5,44.3 C60,42.3 62,41 64.5,41 L67,44.6 C65.5,46 64,46.6 62.8,46.4 C61.5,44.8 60,44.5 58.5,44.9 Z" fill="#8c8c8c"/>
<path d="M60.3,40.5 L61.9,33.3 L64,38.5 Z" fill="#777" stroke="#444" stroke-width="0.4"/>
<path d="M63.3,38.8 L65.9,30.4 L70.4,39.5 Z" fill="#777" stroke="#444" stroke-width="0.4"/>
<path d="M64.6,37.8 L65.9,32.3 L68.4,38.6 Z" fill="#f4f4f4"/>
<path d="M48.8,53.1 C51,51 54.5,48.5 57.5,46.2 C59,44.5 60,42.5 61,40.5" fill="none" stroke="#333" stroke-width="0.6"/>
<path d="M70.4,39.5 C77,44 85,51 91,58" fill="none" stroke="#444" stroke-width="0.5"/>
<path d="M49,54 C51,55.5 55,56.3 58,56.6 C60,57 62,57.3 64.5,57.6" fill="none" stroke="#333" stroke-width="0.55"/>
<path d="M50,54.4 L56.5,55" fill="none" stroke="#555" stroke-width="0.4"/>
<path d="M64.5,57.6 C65,60 65.5,63 66,66" fill="none" stroke="#666" stroke-width="0.45"/>
<path d="M64.5,57.6 C66.5,55 68,52 68.5,49" fill="none" stroke="#888" stroke-width="0.4"/>
<path d="M59.8,45.6 C60.6,45.1 61.8,45.1 62.6,45.7 C61.8,46.3 60.6,46.2 59.8,45.6 Z" fill="#222"/>
<ellipse cx="49.3" cy="53.3" rx="0.9" ry="0.8" fill="#222"/>
<path d="M101.3,47.5 C104,46 108,44.5 111.5,42.9 C112.5,40 113.5,38 114.9,36.1 C117,34.5 119,33.5 121.7,33.25 C125,33 127.5,33.2 129.7,33.8 C131,34.8 132,36 133.1,37.2 C138,42 144,49 150.1,56" fill="none" stroke="#333" stroke-width="0.7"/>
<path d="M121.2,36.1 C120.5,40 120.3,44 120.6,47.5 C121,50 122,51.8 123.4,52.6 C125.5,52 127.5,50.5 128.5,48.6 C130,45 131.3,41.5 132,38.4" fill="none" stroke="#444" stroke-width="0.6"/>
<path d="M101.3,47.5 C101,49 102,50 103,51 C104,53 105,54.5 105.8,54.8 C109,55.6 113,56 116,56 C118,56.3 120,58 121,60 C122,61.5 123.3,62.5 124,63.4" fill="none" stroke="#444" stroke-width="0.6"/>
<path d="M114.5,42 L117,42.5 L115.5,43" fill="#222" stroke="#222" stroke-width="0.5"/>
<circle cx="101.6" cy="48.2" r="0.7" fill="#222"/>
<path d="M107,54 L112,55" stroke="#333" stroke-width="0.6"/>
<path d="M136.5,47 C137,50 136.5,53 135.5,55" fill="none" stroke="#999" stroke-width="0.5"/>

<text x="418.80" y="12.60" font-size="16" text-anchor="start" fill="#1a1a1a" >B</text>
<rect x="449.60" y="19.00" width="233.00" height="97.60" fill="#fff" stroke="#b8b8b8" stroke-width="0.9" />
<line x1="447.60" y1="112.70" x2="449.60" y2="112.70" stroke="#666" stroke-width="0.8" />
<text x="448.10" y="115.90" font-size="9.0" text-anchor="end" fill="#222" >0</text>
<line x1="447.60" y1="99.60" x2="449.60" y2="99.60" stroke="#666" stroke-width="0.8" />
<text x="448.10" y="102.80" font-size="9.0" text-anchor="end" fill="#222" >10</text>
<line x1="447.60" y1="86.50" x2="449.60" y2="86.50" stroke="#666" stroke-width="0.8" />
<text x="448.10" y="89.70" font-size="9.0" text-anchor="end" fill="#222" >20</text>
<line x1="447.60" y1="73.40" x2="449.60" y2="73.40" stroke="#666" stroke-width="0.8" />
<text x="448.10" y="76.60" font-size="9.0" text-anchor="end" fill="#222" >30</text>
<line x1="447.60" y1="60.30" x2="449.60" y2="60.30" stroke="#666" stroke-width="0.8" />
<text x="448.10" y="63.50" font-size="9.0" text-anchor="end" fill="#222" >40</text>
<line x1="447.60" y1="47.20" x2="449.60" y2="47.20" stroke="#666" stroke-width="0.8" />
<text x="448.10" y="50.40" font-size="9.0" text-anchor="end" fill="#222" >50</text>
<line x1="447.60" y1="34.10" x2="449.60" y2="34.10" stroke="#666" stroke-width="0.8" />
<text x="448.10" y="37.30" font-size="9.0" text-anchor="end" fill="#222" >60</text>
<line x1="447.60" y1="21.00" x2="449.60" y2="21.00" stroke="#666" stroke-width="0.8" />
<text x="448.10" y="24.20" font-size="9.0" text-anchor="end" fill="#222" >70</text>
<line x1="455.20" y1="116.60" x2="455.20" y2="117.80" stroke="#999" stroke-width="0.7" />
<line x1="498.46" y1="116.60" x2="498.46" y2="117.80" stroke="#999" stroke-width="0.7" />
<line x1="541.72" y1="116.60" x2="541.72" y2="117.80" stroke="#999" stroke-width="0.7" />
<line x1="584.98" y1="116.60" x2="584.98" y2="117.80" stroke="#999" stroke-width="0.7" />
<line x1="628.24" y1="116.60" x2="628.24" y2="117.80" stroke="#999" stroke-width="0.7" />
<line x1="671.50" y1="116.60" x2="671.50" y2="117.80" stroke="#999" stroke-width="0.7" />
<circle cx="465.2" cy="98.2" r="1.05" fill="#0000e6" stroke="#111" stroke-width="0.4"/>
<circle cx="458.8" cy="101.2" r="1.05" fill="#0000e6" stroke="#111" stroke-width="0.4"/>
<circle cx="466.9" cy="108.1" r="1.05" fill="#0000e6" stroke="#111" stroke-width="0.4"/>
<circle cx="469.6" cy="99.1" r="1.05" fill="#0000e6" stroke="#111" stroke-width="0.4"/>
<circle cx="461.4" cy="98.3" r="1.05" fill="#0000e6" stroke="#111" stroke-width="0.4"/>
<circle cx="457.8" cy="105.5" r="1.05" fill="#0000e6" stroke="#111" stroke-width="0.4"/>
<circle cx="454.5" cy="100.8" r="1.05" fill="#0000e6" stroke="#111" stroke-width="0.4"/>
<circle cx="465.4" cy="106.1" r="1.05" fill="#0000e6" stroke="#111" stroke-width="0.4"/>
<circle cx="457.9" cy="106.8" r="1.05" fill="#0000e6" stroke="#111" stroke-width="0.4"/>
<circle cx="468.2" cy="97.9" r="1.05" fill="#0000e6" stroke="#111" stroke-width="0.4"/>
<circle cx="468.1" cy="108.4" r="1.05" fill="#0000e6" stroke="#111" stroke-width="0.4"/>
<circle cx="460.0" cy="100.2" r="1.05" fill="#0000e6" stroke="#111" stroke-width="0.4"/>
<circle cx="470.8" cy="102.9" r="1.05" fill="#0000e6" stroke="#111" stroke-width="0.4"/>
<circle cx="455.6" cy="99.3" r="1.05" fill="#0000e6" stroke="#111" stroke-width="0.4"/>
<circle cx="468.8" cy="107.0" r="1.05" fill="#0000e6" stroke="#111" stroke-width="0.4"/>
<circle cx="468.1" cy="108.9" r="1.05" fill="#0000e6" stroke="#111" stroke-width="0.4"/>
<circle cx="463.4" cy="112.6" r="1.05" fill="#0000e6" stroke="#111" stroke-width="0.4"/>
<circle cx="460.6" cy="106.2" r="1.05" fill="#0000e6" stroke="#111" stroke-width="0.4"/>
<circle cx="468.5" cy="107.2" r="1.05" fill="#0000e6" stroke="#111" stroke-width="0.4"/>
<circle cx="469.1" cy="106.6" r="1.05" fill="#0000e6" stroke="#111" stroke-width="0.4"/>
<circle cx="466.3" cy="98.5" r="1.05" fill="#0000e6" stroke="#111" stroke-width="0.4"/>
<circle cx="458.0" cy="102.2" r="1.05" fill="#0000e6" stroke="#111" stroke-width="0.4"/>
<circle cx="455.4" cy="101.3" r="1.05" fill="#0000e6" stroke="#111" stroke-width="0.4"/>
<circle cx="455.8" cy="102.0" r="1.05" fill="#0000e6" stroke="#111" stroke-width="0.4"/>
<circle cx="465.1" cy="103.3" r="1.05" fill="#0000e6" stroke="#111" stroke-width="0.4"/>
<circle cx="460.5" cy="101.0" r="1.05" fill="#0000e6" stroke="#111" stroke-width="0.4"/>
<circle cx="458.7" cy="112.0" r="1.05" fill="#0000e6" stroke="#111" stroke-width="0.4"/>
<circle cx="465.3" cy="107.1" r="1.05" fill="#0000e6" stroke="#111" stroke-width="0.4"/>
<circle cx="457.0" cy="108.9" r="1.05" fill="#0000e6" stroke="#111" stroke-width="0.4"/>
<circle cx="456.9" cy="103.6" r="1.05" fill="#0000e6" stroke="#111" stroke-width="0.4"/>
<circle cx="471.3" cy="107.5" r="1.05" fill="#0000e6" stroke="#111" stroke-width="0.4"/>
<circle cx="463.7" cy="108.2" r="1.05" fill="#0000e6" stroke="#111" stroke-width="0.4"/>
<circle cx="468.7" cy="109.6" r="1.05" fill="#0000e6" stroke="#111" stroke-width="0.4"/>
<circle cx="458.0" cy="98.3" r="1.05" fill="#0000e6" stroke="#111" stroke-width="0.4"/>
<circle cx="459.5" cy="101.9" r="1.05" fill="#0000e6" stroke="#111" stroke-width="0.4"/>
<circle cx="457.7" cy="112.1" r="1.05" fill="#0000e6" stroke="#111" stroke-width="0.4"/>
<circle cx="469.3" cy="102.6" r="1.05" fill="#0000e6" stroke="#111" stroke-width="0.4"/>
<circle cx="465.5" cy="103.8" r="1.05" fill="#0000e6" stroke="#111" stroke-width="0.4"/>
<circle cx="470.0" cy="104.8" r="1.05" fill="#0000e6" stroke="#111" stroke-width="0.4"/>
<circle cx="458.6" cy="101.5" r="1.05" fill="#0000e6" stroke="#111" stroke-width="0.4"/>
<circle cx="463.8" cy="101.8" r="1.05" fill="#0000e6" stroke="#111" stroke-width="0.4"/>
<circle cx="464.2" cy="111.4" r="1.05" fill="#0000e6" stroke="#111" stroke-width="0.4"/>
<circle cx="461.0" cy="101.1" r="1.05" fill="#0000e6" stroke="#111" stroke-width="0.4"/>
<circle cx="471.5" cy="105.5" r="1.05" fill="#0000e6" stroke="#111" stroke-width="0.4"/>
<circle cx="455.6" cy="98.5" r="1.05" fill="#0000e6" stroke="#111" stroke-width="0.4"/>
<circle cx="455.9" cy="107.3" r="1.05" fill="#0000e6" stroke="#111" stroke-width="0.4"/>
<circle cx="467.9" cy="104.2" r="1.05" fill="#0000e6" stroke="#111" stroke-width="0.4"/>
<circle cx="455.1" cy="103.6" r="1.05" fill="#0000e6" stroke="#111" stroke-width="0.4"/>
<circle cx="471.4" cy="105.8" r="1.05" fill="#0000e6" stroke="#111" stroke-width="0.4"/>
<circle cx="471.0" cy="110.9" r="1.05" fill="#0000e6" stroke="#111" stroke-width="0.4"/>
<circle cx="454.2" cy="108.8" r="1.05" fill="#0000e6" stroke="#111" stroke-width="0.4"/>
<circle cx="465.9" cy="106.0" r="1.05" fill="#0000e6" stroke="#111" stroke-width="0.4"/>
<circle cx="458.7" cy="107.5" r="1.05" fill="#0000e6" stroke="#111" stroke-width="0.4"/>
<circle cx="456.0" cy="104.4" r="1.05" fill="#0000e6" stroke="#111" stroke-width="0.4"/>
<circle cx="461.9" cy="112.3" r="1.05" fill="#0000e6" stroke="#111" stroke-width="0.4"/>
<circle cx="469.3" cy="101.8" r="1.05" fill="#0000e6" stroke="#111" stroke-width="0.4"/>
<circle cx="462.8" cy="100.5" r="1.05" fill="#0000e6" stroke="#111" stroke-width="0.4"/>
<circle cx="470.0" cy="111.0" r="1.05" fill="#0000e6" stroke="#111" stroke-width="0.4"/>
<circle cx="459.2" cy="107.5" r="1.05" fill="#0000e6" stroke="#111" stroke-width="0.4"/>
<circle cx="464.7" cy="100.1" r="1.05" fill="#0000e6" stroke="#111" stroke-width="0.4"/>
<circle cx="467.3" cy="106.0" r="1.05" fill="#0000e6" stroke="#111" stroke-width="0.4"/>
<circle cx="467.6" cy="105.9" r="1.05" fill="#0000e6" stroke="#111" stroke-width="0.4"/>
<circle cx="454.0" cy="102.7" r="1.05" fill="#0000e6" stroke="#111" stroke-width="0.4"/>
<circle cx="454.3" cy="111.9" r="1.05" fill="#0000e6" stroke="#111" stroke-width="0.4"/>
<circle cx="469.4" cy="110.4" r="1.05" fill="#0000e6" stroke="#111" stroke-width="0.4"/>
<circle cx="459.4" cy="98.7" r="1.05" fill="#0000e6" stroke="#111" stroke-width="0.4"/>
<circle cx="469.4" cy="112.2" r="1.05" fill="#0000e6" stroke="#111" stroke-width="0.4"/>
<circle cx="455.5" cy="105.2" r="1.05" fill="#0000e6" stroke="#111" stroke-width="0.4"/>
<circle cx="455.2" cy="109.4" r="1.05" fill="#0000e6" stroke="#111" stroke-width="0.4"/>
<circle cx="467.4" cy="99.8" r="1.05" fill="#0000e6" stroke="#111" stroke-width="0.4"/>
<circle cx="462.3" cy="106.2" r="1.05" fill="#0000e6" stroke="#111" stroke-width="0.4"/>
<circle cx="458.6" cy="111.1" r="1.05" fill="#0000e6" stroke="#111" stroke-width="0.4"/>
<circle cx="461.4" cy="101.0" r="1.05" fill="#0000e6" stroke="#111" stroke-width="0.4"/>
<circle cx="463.4" cy="108.9" r="1.05" fill="#0000e6" stroke="#111" stroke-width="0.4"/>
<circle cx="457.5" cy="102.5" r="1.05" fill="#0000e6" stroke="#111" stroke-width="0.4"/>
<circle cx="471.4" cy="107.7" r="1.05" fill="#0000e6" stroke="#111" stroke-width="0.4"/>
<circle cx="461.7" cy="105.7" r="1.05" fill="#0000e6" stroke="#111" stroke-width="0.4"/>
<circle cx="456.1" cy="101.2" r="1.05" fill="#0000e6" stroke="#111" stroke-width="0.4"/>
<circle cx="459.9" cy="106.7" r="1.05" fill="#0000e6" stroke="#111" stroke-width="0.4"/>
<circle cx="458.0" cy="101.1" r="1.05" fill="#0000e6" stroke="#111" stroke-width="0.4"/>
<circle cx="455.2" cy="107.4" r="1.05" fill="#0000e6" stroke="#111" stroke-width="0.4"/>
<circle cx="458.0" cy="111.6" r="1.05" fill="#0000e6" stroke="#111" stroke-width="0.4"/>
<circle cx="469.0" cy="98.9" r="1.05" fill="#0000e6" stroke="#111" stroke-width="0.4"/>
<circle cx="458.2" cy="108.0" r="1.05" fill="#0000e6" stroke="#111" stroke-width="0.4"/>
<circle cx="457.7" cy="99.8" r="1.05" fill="#0000e6" stroke="#111" stroke-width="0.4"/>
<circle cx="469.0" cy="106.9" r="1.05" fill="#000028" stroke="#111" stroke-width="0.4"/>
<circle cx="462.1" cy="109.4" r="1.05" fill="#000028" stroke="#111" stroke-width="0.4"/>
<circle cx="467.1" cy="102.3" r="1.05" fill="#000028" stroke="#111" stroke-width="0.4"/>
<circle cx="456.5" cy="105.2" r="1.05" fill="#000028" stroke="#111" stroke-width="0.4"/>
<circle cx="461.4" cy="105.6" r="1.05" fill="#000028" stroke="#111" stroke-width="0.4"/>
<circle cx="465.9" cy="108.1" r="1.05" fill="#000028" stroke="#111" stroke-width="0.4"/>
<circle cx="469.8" cy="101.2" r="1.05" fill="#000028" stroke="#111" stroke-width="0.4"/>
<circle cx="461.0" cy="104.1" r="1.05" fill="#000028" stroke="#111" stroke-width="0.4"/>
<circle cx="467.9" cy="103.0" r="1.05" fill="#000028" stroke="#111" stroke-width="0.4"/>
<circle cx="457.9" cy="105.4" r="1.05" fill="#000028" stroke="#111" stroke-width="0.4"/>
<circle cx="461.3" cy="103.3" r="1.05" fill="#000028" stroke="#111" stroke-width="0.4"/>
<circle cx="458.7" cy="111.1" r="1.05" fill="#000028" stroke="#111" stroke-width="0.4"/>
<circle cx="461.6" cy="110.3" r="1.05" fill="#000028" stroke="#111" stroke-width="0.4"/>
<circle cx="463.3" cy="100.6" r="1.05" fill="#000028" stroke="#111" stroke-width="0.4"/>
<circle cx="470.0" cy="110.0" r="1.05" fill="#000028" stroke="#111" stroke-width="0.4"/>
<circle cx="469.5" cy="111.1" r="1.05" fill="#000028" stroke="#111" stroke-width="0.4"/>
<circle cx="467.7" cy="102.0" r="1.05" fill="#000028" stroke="#111" stroke-width="0.4"/>
<circle cx="462.3" cy="102.6" r="1.05" fill="#000028" stroke="#111" stroke-width="0.4"/>
<circle cx="461.0" cy="100.7" r="1.05" fill="#000028" stroke="#111" stroke-width="0.4"/>
<circle cx="460.7" cy="111.8" r="1.05" fill="#000028" stroke="#111" stroke-width="0.4"/>
<circle cx="459.0" cy="109.4" r="1.05" fill="#000028" stroke="#111" stroke-width="0.4"/>
<circle cx="461.8" cy="105.1" r="1.05" fill="#000028" stroke="#111" stroke-width="0.4"/>
<circle cx="469.4" cy="111.9" r="1.05" fill="#000028" stroke="#111" stroke-width="0.4"/>
<circle cx="463.3" cy="108.6" r="1.05" fill="#000028" stroke="#111" stroke-width="0.4"/>
<circle cx="457.3" cy="103.6" r="1.05" fill="#000028" stroke="#111" stroke-width="0.4"/>
<circle cx="469.5" cy="107.0" r="1.05" fill="#000028" stroke="#111" stroke-width="0.4"/>
<circle cx="463.1" cy="109.0" r="1.05" fill="#000028" stroke="#111" stroke-width="0.4"/>
<circle cx="455.9" cy="107.0" r="1.05" fill="#000028" stroke="#111" stroke-width="0.4"/>
<circle cx="462.5" cy="110.2" r="1.05" fill="#000028" stroke="#111" stroke-width="0.4"/>
<circle cx="457.4" cy="111.5" r="1.05" fill="#000028" stroke="#111" stroke-width="0.4"/>
<circle cx="454.3" cy="100.6" r="1.05" fill="#000028" stroke="#111" stroke-width="0.4"/>
<circle cx="456.4" cy="107.5" r="1.05" fill="#000028" stroke="#111" stroke-width="0.4"/>
<circle cx="454.9" cy="99.7" r="1.05" fill="#000028" stroke="#111" stroke-width="0.4"/>
<circle cx="457.6" cy="101.4" r="1.05" fill="#000028" stroke="#111" stroke-width="0.4"/>
<circle cx="456.4" cy="106.7" r="1.05" fill="#000028" stroke="#111" stroke-width="0.4"/>
<circle cx="455.7" cy="106.2" r="1.05" fill="#000028" stroke="#111" stroke-width="0.4"/>
<circle cx="456.1" cy="111.1" r="1.05" fill="#000028" stroke="#111" stroke-width="0.4"/>
<circle cx="454.8" cy="108.0" r="1.05" fill="#000028" stroke="#111" stroke-width="0.4"/>
<circle cx="455.0" cy="103.5" r="1.05" fill="#000028" stroke="#111" stroke-width="0.4"/>
<circle cx="456.7" cy="102.2" r="1.05" fill="#000028" stroke="#111" stroke-width="0.4"/>
<circle cx="479.3" cy="109.1" r="1.05" fill="#000028" stroke="#111" stroke-width="0.4"/>
<circle cx="482.1" cy="111.5" r="1.05" fill="#000028" stroke="#111" stroke-width="0.4"/>
<circle cx="474.2" cy="109.6" r="1.05" fill="#000028" stroke="#111" stroke-width="0.4"/>
<circle cx="489.0" cy="111.2" r="1.05" fill="#000028" stroke="#111" stroke-width="0.4"/>
<circle cx="478.5" cy="111.1" r="1.05" fill="#000028" stroke="#111" stroke-width="0.4"/>
<circle cx="484.8" cy="111.5" r="1.05" fill="#000028" stroke="#111" stroke-width="0.4"/>
<circle cx="482.5" cy="111.0" r="1.05" fill="#000028" stroke="#111" stroke-width="0.4"/>
<circle cx="478.8" cy="111.3" r="1.05" fill="#000028" stroke="#111" stroke-width="0.4"/>
<circle cx="474.8" cy="109.2" r="1.05" fill="#000028" stroke="#111" stroke-width="0.4"/>
<circle cx="481.6" cy="110.5" r="1.05" fill="#000028" stroke="#111" stroke-width="0.4"/>
<circle cx="483.9" cy="110.5" r="1.05" fill="#000028" stroke="#111" stroke-width="0.4"/>
<circle cx="477.8" cy="111.3" r="1.05" fill="#000028" stroke="#111" stroke-width="0.4"/>
<circle cx="485.6" cy="110.0" r="1.05" fill="#000028" stroke="#111" stroke-width="0.4"/>
<circle cx="476.7" cy="110.9" r="1.05" fill="#000028" stroke="#111" stroke-width="0.4"/>
<circle cx="482.9" cy="110.8" r="1.05" fill="#000028" stroke="#111" stroke-width="0.4"/>
<circle cx="482.0" cy="108.9" r="1.05" fill="#000028" stroke="#111" stroke-width="0.4"/>
<circle cx="475.9" cy="111.3" r="1.05" fill="#000028" stroke="#111" stroke-width="0.4"/>
<circle cx="483.0" cy="110.4" r="1.05" fill="#000028" stroke="#111" stroke-width="0.4"/>
<circle cx="475.1" cy="109.7" r="1.05" fill="#000028" stroke="#111" stroke-width="0.4"/>
<circle cx="488.2" cy="111.1" r="1.05" fill="#000028" stroke="#111" stroke-width="0.4"/>
<circle cx="486.7" cy="109.5" r="1.05" fill="#000028" stroke="#111" stroke-width="0.4"/>
<circle cx="476.1" cy="111.2" r="1.05" fill="#000028" stroke="#111" stroke-width="0.4"/>
<circle cx="480.3" cy="109.3" r="1.05" fill="#000028" stroke="#111" stroke-width="0.4"/>
<circle cx="488.9" cy="111.4" r="1.05" fill="#000028" stroke="#111" stroke-width="0.4"/>
<circle cx="487.1" cy="109.0" r="1.05" fill="#000028" stroke="#111" stroke-width="0.4"/>
<circle cx="484.6" cy="111.3" r="1.05" fill="#000028" stroke="#111" stroke-width="0.4"/>
<circle cx="486.9" cy="111.0" r="1.05" fill="#000028" stroke="#111" stroke-width="0.4"/>
<circle cx="478.6" cy="109.2" r="1.05" fill="#000028" stroke="#111" stroke-width="0.4"/>
<circle cx="488.0" cy="109.5" r="1.05" fill="#000028" stroke="#111" stroke-width="0.4"/>
<circle cx="486.1" cy="109.7" r="1.05" fill="#000028" stroke="#111" stroke-width="0.4"/>
<circle cx="482.1" cy="106.0" r="1.05" fill="#0000e6" stroke="#111" stroke-width="0.4"/>
<circle cx="471.3" cy="105.7" r="1.05" fill="#0000e6" stroke="#111" stroke-width="0.4"/>
<circle cx="475.6" cy="111.8" r="1.05" fill="#0000e6" stroke="#111" stroke-width="0.4"/>
<circle cx="484.5" cy="106.5" r="1.05" fill="#0000e6" stroke="#111" stroke-width="0.4"/>
<circle cx="480.0" cy="107.6" r="1.05" fill="#0000e6" stroke="#111" stroke-width="0.4"/>
<circle cx="484.7" cy="108.8" r="1.05" fill="#0000e6" stroke="#111" stroke-width="0.4"/>
<circle cx="484.1" cy="105.0" r="1.05" fill="#0000e6" stroke="#111" stroke-width="0.4"/>
<circle cx="484.6" cy="105.6" r="1.05" fill="#0000e6" stroke="#111" stroke-width="0.4"/>
<circle cx="484.5" cy="106.4" r="1.05" fill="#0000e6" stroke="#111" stroke-width="0.4"/>
<circle cx="472.5" cy="107.9" r="1.05" fill="#0000e6" stroke="#111" stroke-width="0.4"/>
<circle cx="481.2" cy="106.8" r="1.05" fill="#0000e6" stroke="#111" stroke-width="0.4"/>
<circle cx="479.5" cy="108.6" r="1.05" fill="#0000e6" stroke="#111" stroke-width="0.4"/>
<circle cx="476.4" cy="109.2" r="1.05" fill="#0000e6" stroke="#111" stroke-width="0.4"/>
<circle cx="474.6" cy="110.4" r="1.05" fill="#0000e6" stroke="#111" stroke-width="0.4"/>
<circle cx="486.1" cy="108.9" r="1.05" fill="#000028" stroke="#111" stroke-width="0.4"/>
<circle cx="503.9" cy="109.2" r="1.05" fill="#000028" stroke="#111" stroke-width="0.4"/>
<circle cx="493.2" cy="109.2" r="1.05" fill="#000028" stroke="#111" stroke-width="0.4"/>
<circle cx="492.9" cy="109.6" r="1.05" fill="#000028" stroke="#111" stroke-width="0.4"/>
<circle cx="502.8" cy="108.3" r="1.05" fill="#000028" stroke="#111" stroke-width="0.4"/>
<circle cx="495.1" cy="108.3" r="1.05" fill="#000028" stroke="#111" stroke-width="0.4"/>
<circle cx="488.0" cy="109.9" r="1.05" fill="#000028" stroke="#111" stroke-width="0.4"/>
<circle cx="503.2" cy="109.1" r="1.05" fill="#000028" stroke="#111" stroke-width="0.4"/>
<circle cx="492.8" cy="107.6" r="1.05" fill="#000028" stroke="#111" stroke-width="0.4"/>
<circle cx="492.1" cy="109.0" r="1.05" fill="#000028" stroke="#111" stroke-width="0.4"/>
<circle cx="501.5" cy="108.7" r="1.05" fill="#000028" stroke="#111" stroke-width="0.4"/>
<circle cx="490.4" cy="109.8" r="1.05" fill="#000028" stroke="#111" stroke-width="0.4"/>
<circle cx="504.4" cy="107.8" r="1.05" fill="#000028" stroke="#111" stroke-width="0.4"/>
<circle cx="498.4" cy="108.4" r="1.05" fill="#000028" stroke="#111" stroke-width="0.4"/>
<circle cx="506.4" cy="109.2" r="1.05" fill="#000028" stroke="#111" stroke-width="0.4"/>
<circle cx="490.0" cy="107.7" r="1.05" fill="#000028" stroke="#111" stroke-width="0.4"/>
<circle cx="491.2" cy="109.6" r="1.05" fill="#000028" stroke="#111" stroke-width="0.4"/>
<circle cx="486.6" cy="109.1" r="1.05" fill="#000028" stroke="#111" stroke-width="0.4"/>
<circle cx="490.4" cy="108.8" r="1.05" fill="#000028" stroke="#111" stroke-width="0.4"/>
<circle cx="491.6" cy="107.6" r="1.05" fill="#000028" stroke="#111" stroke-width="0.4"/>
<circle cx="504.7" cy="107.9" r="1.05" fill="#000028" stroke="#111" stroke-width="0.4"/>
<circle cx="495.0" cy="109.9" r="1.05" fill="#000028" stroke="#111" stroke-width="0.4"/>
<circle cx="497.1" cy="108.2" r="1.05" fill="#000028" stroke="#111" stroke-width="0.4"/>
<circle cx="506.4" cy="109.5" r="1.05" fill="#000028" stroke="#111" stroke-width="0.4"/>
<circle cx="503.1" cy="109.0" r="1.05" fill="#000028" stroke="#111" stroke-width="0.4"/>
<circle cx="510.1" cy="109.1" r="1.05" fill="#000028" stroke="#111" stroke-width="0.4"/>
<circle cx="503.3" cy="109.6" r="1.05" fill="#000028" stroke="#111" stroke-width="0.4"/>
<circle cx="499.9" cy="109.4" r="1.05" fill="#000028" stroke="#111" stroke-width="0.4"/>
<circle cx="496.5" cy="108.2" r="1.05" fill="#000028" stroke="#111" stroke-width="0.4"/>
<circle cx="501.8" cy="108.9" r="1.05" fill="#000028" stroke="#111" stroke-width="0.4"/>
<circle cx="500.4" cy="107.8" r="1.05" fill="#000028" stroke="#111" stroke-width="0.4"/>
<circle cx="491.7" cy="108.4" r="1.05" fill="#000028" stroke="#111" stroke-width="0.4"/>
<circle cx="497.9" cy="108.2" r="1.05" fill="#000028" stroke="#111" stroke-width="0.4"/>
<circle cx="503.1" cy="107.8" r="1.05" fill="#000028" stroke="#111" stroke-width="0.4"/>
<circle cx="495.5" cy="108.6" r="1.05" fill="#000028" stroke="#111" stroke-width="0.4"/>
<circle cx="490.1" cy="109.8" r="1.05" fill="#000028" stroke="#111" stroke-width="0.4"/>
<circle cx="500.3" cy="109.7" r="1.05" fill="#000028" stroke="#111" stroke-width="0.4"/>
<circle cx="504.2" cy="107.6" r="1.05" fill="#000028" stroke="#111" stroke-width="0.4"/>
<circle cx="494.5" cy="109.6" r="1.05" fill="#000028" stroke="#111" stroke-width="0.4"/>
<circle cx="509.0" cy="109.4" r="1.05" fill="#000028" stroke="#111" stroke-width="0.4"/>
<circle cx="499.1" cy="108.1" r="1.05" fill="#000028" stroke="#111" stroke-width="0.4"/>
<circle cx="490.4" cy="107.7" r="1.05" fill="#000028" stroke="#111" stroke-width="0.4"/>
<circle cx="494.0" cy="108.6" r="1.05" fill="#000028" stroke="#111" stroke-width="0.4"/>
<circle cx="489.1" cy="107.9" r="1.05" fill="#000028" stroke="#111" stroke-width="0.4"/>
<circle cx="499.7" cy="108.5" r="1.05" fill="#000028" stroke="#111" stroke-width="0.4"/>
<circle cx="497.2" cy="103.9" r="1.05" fill="#000028" stroke="#111" stroke-width="0.4"/>
<circle cx="493.4" cy="103.0" r="1.05" fill="#000028" stroke="#111" stroke-width="0.4"/>
<circle cx="495.5" cy="103.4" r="1.05" fill="#000028" stroke="#111" stroke-width="0.4"/>
<circle cx="499.8" cy="104.1" r="1.05" fill="#000028" stroke="#111" stroke-width="0.4"/>
<circle cx="500.3" cy="103.0" r="1.05" fill="#000028" stroke="#111" stroke-width="0.4"/>
<circle cx="492.3" cy="104.5" r="1.05" fill="#000028" stroke="#111" stroke-width="0.4"/>
<circle cx="495.9" cy="104.1" r="1.05" fill="#000028" stroke="#111" stroke-width="0.4"/>
<circle cx="499.3" cy="104.4" r="1.05" fill="#000028" stroke="#111" stroke-width="0.4"/>
<circle cx="493.3" cy="103.1" r="1.05" fill="#000028" stroke="#111" stroke-width="0.4"/>
<circle cx="493.6" cy="103.8" r="1.05" fill="#000028" stroke="#111" stroke-width="0.4"/>
<circle cx="494.6" cy="104.1" r="1.05" fill="#000028" stroke="#111" stroke-width="0.4"/>
<circle cx="493.9" cy="104.1" r="1.05" fill="#000028" stroke="#111" stroke-width="0.4"/>
<circle cx="493.7" cy="104.4" r="1.05" fill="#000028" stroke="#111" stroke-width="0.4"/>
<circle cx="492.4" cy="103.4" r="1.05" fill="#000028" stroke="#111" stroke-width="0.4"/>
<circle cx="521.2" cy="104.3" r="1.05" fill="#000028" stroke="#111" stroke-width="0.4"/>
<circle cx="519.2" cy="105.1" r="1.05" fill="#000028" stroke="#111" stroke-width="0.4"/>
<circle cx="518.1" cy="105.4" r="1.05" fill="#000028" stroke="#111" stroke-width="0.4"/>
<circle cx="522.6" cy="103.5" r="1.05" fill="#000028" stroke="#111" stroke-width="0.4"/>
<circle cx="525.0" cy="104.2" r="1.05" fill="#000028" stroke="#111" stroke-width="0.4"/>
<circle cx="516.0" cy="104.6" r="1.05" fill="#000028" stroke="#111" stroke-width="0.4"/>
<circle cx="516.2" cy="105.5" r="1.05" fill="#000028" stroke="#111" stroke-width="0.4"/>
<circle cx="513.2" cy="105.0" r="1.05" fill="#000028" stroke="#111" stroke-width="0.4"/>
<circle cx="522.6" cy="104.4" r="1.05" fill="#000028" stroke="#111" stroke-width="0.4"/>
<circle cx="522.0" cy="104.0" r="1.05" fill="#000028" stroke="#111" stroke-width="0.4"/>
<circle cx="521.8" cy="104.6" r="1.05" fill="#000028" stroke="#111" stroke-width="0.4"/>
<circle cx="517.1" cy="104.0" r="1.05" fill="#000028" stroke="#111" stroke-width="0.4"/>
<circle cx="523.3" cy="103.4" r="1.05" fill="#000028" stroke="#111" stroke-width="0.4"/>
<circle cx="522.0" cy="104.5" r="1.05" fill="#000028" stroke="#111" stroke-width="0.4"/>
<circle cx="518.6" cy="103.3" r="1.05" fill="#000028" stroke="#111" stroke-width="0.4"/>
<circle cx="521.4" cy="103.8" r="1.05" fill="#000028" stroke="#111" stroke-width="0.4"/>
<circle cx="521.1" cy="105.7" r="1.05" fill="#000028" stroke="#111" stroke-width="0.4"/>
<circle cx="519.6" cy="103.2" r="1.05" fill="#000028" stroke="#111" stroke-width="0.4"/>
<circle cx="522.5" cy="105.2" r="1.05" fill="#000028" stroke="#111" stroke-width="0.4"/>
<circle cx="518.0" cy="105.1" r="1.05" fill="#000028" stroke="#111" stroke-width="0.4"/>
<circle cx="519.4" cy="105.4" r="1.05" fill="#000028" stroke="#111" stroke-width="0.4"/>
<circle cx="510.9" cy="105.1" r="1.05" fill="#000028" stroke="#111" stroke-width="0.4"/>
<circle cx="514.9" cy="104.5" r="1.05" fill="#000028" stroke="#111" stroke-width="0.4"/>
<circle cx="517.6" cy="105.3" r="1.05" fill="#000028" stroke="#111" stroke-width="0.4"/>
<circle cx="515.6" cy="104.0" r="1.05" fill="#000028" stroke="#111" stroke-width="0.4"/>
<circle cx="512.9" cy="103.7" r="1.05" fill="#000028" stroke="#111" stroke-width="0.4"/>
<circle cx="522.6" cy="110.8" r="1.05" fill="#000028" stroke="#111" stroke-width="0.4"/>
<circle cx="522.7" cy="110.2" r="1.05" fill="#000028" stroke="#111" stroke-width="0.4"/>
<circle cx="531.6" cy="110.3" r="1.05" fill="#000028" stroke="#111" stroke-width="0.4"/>
<circle cx="523.7" cy="109.5" r="1.05" fill="#000028" stroke="#111" stroke-width="0.4"/>
<circle cx="523.2" cy="109.0" r="1.05" fill="#000028" stroke="#111" stroke-width="0.4"/>
<circle cx="527.4" cy="111.3" r="1.05" fill="#000028" stroke="#111" stroke-width="0.4"/>
<circle cx="528.7" cy="109.3" r="1.05" fill="#000028" stroke="#111" stroke-width="0.4"/>
<circle cx="532.3" cy="111.1" r="1.05" fill="#000028" stroke="#111" stroke-width="0.4"/>
<circle cx="528.4" cy="110.1" r="1.05" fill="#000028" stroke="#111" stroke-width="0.4"/>
<circle cx="522.3" cy="111.3" r="1.05" fill="#000028" stroke="#111" stroke-width="0.4"/>
<circle cx="528.0" cy="110.0" r="1.05" fill="#000028" stroke="#111" stroke-width="0.4"/>
<circle cx="522.3" cy="109.1" r="1.05" fill="#000028" stroke="#111" stroke-width="0.4"/>
<circle cx="523.1" cy="109.7" r="1.05" fill="#000028" stroke="#111" stroke-width="0.4"/>
<circle cx="533.0" cy="110.8" r="1.05" fill="#000028" stroke="#111" stroke-width="0.4"/>
<circle cx="529.6" cy="109.5" r="1.05" fill="#000028" stroke="#111" stroke-width="0.4"/>
<circle cx="527.7" cy="110.1" r="1.05" fill="#000028" stroke="#111" stroke-width="0.4"/>
<circle cx="533.4" cy="109.7" r="1.05" fill="#000028" stroke="#111" stroke-width="0.4"/>
<circle cx="529.3" cy="110.8" r="1.05" fill="#000028" stroke="#111" stroke-width="0.4"/>
<circle cx="532.6" cy="109.5" r="1.05" fill="#000028" stroke="#111" stroke-width="0.4"/>
<circle cx="528.8" cy="109.4" r="1.05" fill="#000028" stroke="#111" stroke-width="0.4"/>
<circle cx="520.8" cy="110.1" r="1.05" fill="#000028" stroke="#111" stroke-width="0.4"/>
<circle cx="528.2" cy="109.6" r="1.05" fill="#000028" stroke="#111" stroke-width="0.4"/>
<circle cx="487.6" cy="103.0" r="1.05" fill="#0000e6" stroke="#111" stroke-width="0.4"/>
<circle cx="503.8" cy="100.0" r="1.05" fill="#0000e6" stroke="#111" stroke-width="0.4"/>
<circle cx="512.6" cy="98.8" r="1.05" fill="#0000e6" stroke="#111" stroke-width="0.4"/>
<circle cx="515.6" cy="100.5" r="1.05" fill="#0000e6" stroke="#111" stroke-width="0.4"/>
<circle cx="524.8" cy="101.0" r="1.05" fill="#0000e6" stroke="#111" stroke-width="0.4"/>
<circle cx="536.7" cy="101.8" r="1.05" fill="#0000e6" stroke="#111" stroke-width="0.4"/>
<circle cx="537.5" cy="106.2" r="1.05" fill="#0000e6" stroke="#111" stroke-width="0.4"/>
<circle cx="530.5" cy="105.8" r="1.05" fill="#0000e6" stroke="#111" stroke-width="0.4"/>
<circle cx="487.6" cy="112.3" r="1.05" fill="#0000e6" stroke="#111" stroke-width="0.4"/>
<circle cx="511.3" cy="112.3" r="1.05" fill="#0000e6" stroke="#111" stroke-width="0.4"/>
<circle cx="513.9" cy="111.9" r="1.05" fill="#0000e6" stroke="#111" stroke-width="0.4"/>
<circle cx="519.2" cy="109.7" r="1.05" fill="#0000e6" stroke="#111" stroke-width="0.4"/>
<circle cx="541.0" cy="110.0" r="1.05" fill="#0000e6" stroke="#111" stroke-width="0.4"/>
<circle cx="490.0" cy="106.0" r="1.05" fill="#0000e6" stroke="#111" stroke-width="0.4"/>
<circle cx="497.0" cy="106.5" r="1.05" fill="#0000e6" stroke="#111" stroke-width="0.4"/>
<circle cx="505.0" cy="105.5" r="1.05" fill="#0000e6" stroke="#111" stroke-width="0.4"/>
<circle cx="508.0" cy="103.0" r="1.05" fill="#0000e6" stroke="#111" stroke-width="0.4"/>
<circle cx="518.0" cy="107.5" r="1.05" fill="#0000e6" stroke="#111" stroke-width="0.4"/>
<circle cx="527.0" cy="107.0" r="1.05" fill="#0000e6" stroke="#111" stroke-width="0.4"/>
<circle cx="533.0" cy="104.0" r="1.05" fill="#0000e6" stroke="#111" stroke-width="0.4"/>
<circle cx="500.0" cy="111.5" r="1.05" fill="#0000e6" stroke="#111" stroke-width="0.4"/>
<circle cx="495.0" cy="112.0" r="1.05" fill="#0000e6" stroke="#111" stroke-width="0.4"/>
<circle cx="480.0" cy="104.5" r="1.05" fill="#0000e6" stroke="#111" stroke-width="0.4"/>
<circle cx="483.0" cy="102.0" r="1.05" fill="#0000e6" stroke="#111" stroke-width="0.4"/>
<circle cx="496.8" cy="97.4" r="1.05" fill="#6fc0e0" stroke="#111" stroke-width="0.4"/>
<circle cx="514.8" cy="95.4" r="1.05" fill="#6fc0e0" stroke="#111" stroke-width="0.4"/>
<circle cx="509.0" cy="99.2" r="1.05" fill="#6fc0e0" stroke="#111" stroke-width="0.4"/>
<circle cx="507.3" cy="104.9" r="1.05" fill="#6fc0e0" stroke="#111" stroke-width="0.4"/>
<circle cx="500.8" cy="102.3" r="1.05" fill="#6fc0e0" stroke="#111" stroke-width="0.4"/>
<circle cx="502.5" cy="91.3" r="1.05" fill="#6fc0e0" stroke="#111" stroke-width="0.4"/>
<circle cx="502.5" cy="93.5" r="1.05" fill="#6fc0e0" stroke="#111" stroke-width="0.4"/>
<circle cx="502.5" cy="96.0" r="1.05" fill="#6fc0e0" stroke="#111" stroke-width="0.4"/>
<circle cx="542.8" cy="103.0" r="1.05" fill="#6fc0e0" stroke="#111" stroke-width="0.4"/>
<circle cx="542.0" cy="106.6" r="1.05" fill="#6fc0e0" stroke="#111" stroke-width="0.4"/>
<circle cx="548.7" cy="90.0" r="1.05" fill="#6fc0e0" stroke="#111" stroke-width="0.4"/>
<circle cx="548.7" cy="92.0" r="1.05" fill="#6fc0e0" stroke="#111" stroke-width="0.4"/>
<circle cx="548.7" cy="94.5" r="1.05" fill="#6fc0e0" stroke="#111" stroke-width="0.4"/>
<circle cx="542.7" cy="103.3" r="1.05" fill="#6fc0e0" stroke="#111" stroke-width="0.4"/>
<circle cx="541.8" cy="105.1" r="1.05" fill="#6fc0e0" stroke="#111" stroke-width="0.4"/>
<circle cx="552.7" cy="102.3" r="1.05" fill="#000028" stroke="#111" stroke-width="0.4"/>
<circle cx="551.1" cy="102.3" r="1.05" fill="#000028" stroke="#111" stroke-width="0.4"/>
<circle cx="554.1" cy="102.6" r="1.05" fill="#000028" stroke="#111" stroke-width="0.4"/>
<circle cx="552.2" cy="102.2" r="1.05" fill="#000028" stroke="#111" stroke-width="0.4"/>
<circle cx="554.2" cy="101.4" r="1.05" fill="#000028" stroke="#111" stroke-width="0.4"/>
<circle cx="551.7" cy="102.1" r="1.05" fill="#000028" stroke="#111" stroke-width="0.4"/>
<circle cx="554.0" cy="102.7" r="1.05" fill="#000028" stroke="#111" stroke-width="0.4"/>
<circle cx="548.7" cy="100.5" r="1.05" fill="#000028" stroke="#111" stroke-width="0.4"/>
<circle cx="550.2" cy="102.5" r="1.05" fill="#000028" stroke="#111" stroke-width="0.4"/>
<circle cx="551.8" cy="101.0" r="1.05" fill="#000028" stroke="#111" stroke-width="0.4"/>
<circle cx="549.0" cy="102.3" r="1.05" fill="#000028" stroke="#111" stroke-width="0.4"/>
<circle cx="552.7" cy="103.1" r="1.05" fill="#000028" stroke="#111" stroke-width="0.4"/>
<circle cx="573.9" cy="101.0" r="1.05" fill="#000028" stroke="#111" stroke-width="0.4"/>
<circle cx="568.4" cy="98.9" r="1.05" fill="#000028" stroke="#111" stroke-width="0.4"/>
<circle cx="573.0" cy="100.2" r="1.05" fill="#000028" stroke="#111" stroke-width="0.4"/>
<circle cx="570.6" cy="99.1" r="1.05" fill="#000028" stroke="#111" stroke-width="0.4"/>
<circle cx="579.8" cy="102.5" r="1.05" fill="#000028" stroke="#111" stroke-width="0.4"/>
<circle cx="574.8" cy="103.1" r="1.05" fill="#000028" stroke="#111" stroke-width="0.4"/>
<circle cx="580.3" cy="101.8" r="1.05" fill="#000028" stroke="#111" stroke-width="0.4"/>
<circle cx="570.9" cy="98.9" r="1.05" fill="#000028" stroke="#111" stroke-width="0.4"/>
<circle cx="577.2" cy="100.9" r="1.05" fill="#000028" stroke="#111" stroke-width="0.4"/>
<circle cx="575.8" cy="102.9" r="1.05" fill="#000028" stroke="#111" stroke-width="0.4"/>
<circle cx="569.7" cy="101.4" r="1.05" fill="#000028" stroke="#111" stroke-width="0.4"/>
<circle cx="575.6" cy="101.0" r="1.05" fill="#000028" stroke="#111" stroke-width="0.4"/>
<circle cx="568.6" cy="100.3" r="1.05" fill="#000028" stroke="#111" stroke-width="0.4"/>
<circle cx="571.7" cy="101.8" r="1.05" fill="#000028" stroke="#111" stroke-width="0.4"/>
<circle cx="578.5" cy="100.2" r="1.05" fill="#000028" stroke="#111" stroke-width="0.4"/>
<circle cx="576.3" cy="100.0" r="1.05" fill="#000028" stroke="#111" stroke-width="0.4"/>
<circle cx="579.6" cy="102.4" r="1.05" fill="#000028" stroke="#111" stroke-width="0.4"/>
<circle cx="574.5" cy="100.8" r="1.05" fill="#000028" stroke="#111" stroke-width="0.4"/>
<circle cx="571.5" cy="100.2" r="1.05" fill="#000028" stroke="#111" stroke-width="0.4"/>
<circle cx="579.9" cy="100.6" r="1.05" fill="#000028" stroke="#111" stroke-width="0.4"/>
<circle cx="574.0" cy="103.2" r="1.05" fill="#000028" stroke="#111" stroke-width="0.4"/>
<circle cx="575.9" cy="101.2" r="1.05" fill="#000028" stroke="#111" stroke-width="0.4"/>
<circle cx="563.8" cy="108.7" r="1.05" fill="#000028" stroke="#111" stroke-width="0.4"/>
<circle cx="563.4" cy="111.3" r="1.05" fill="#000028" stroke="#111" stroke-width="0.4"/>
<circle cx="565.8" cy="111.3" r="1.05" fill="#000028" stroke="#111" stroke-width="0.4"/>
<circle cx="561.9" cy="110.4" r="1.05" fill="#000028" stroke="#111" stroke-width="0.4"/>
<circle cx="568.6" cy="109.9" r="1.05" fill="#000028" stroke="#111" stroke-width="0.4"/>
<circle cx="566.5" cy="108.4" r="1.05" fill="#000028" stroke="#111" stroke-width="0.4"/>
<circle cx="569.1" cy="110.6" r="1.05" fill="#000028" stroke="#111" stroke-width="0.4"/>
<circle cx="562.2" cy="108.6" r="1.05" fill="#000028" stroke="#111" stroke-width="0.4"/>
<circle cx="565.1" cy="110.4" r="1.05" fill="#000028" stroke="#111" stroke-width="0.4"/>
<circle cx="560.9" cy="112.4" r="1.05" fill="#000028" stroke="#111" stroke-width="0.4"/>
<circle cx="568.5" cy="110.0" r="1.05" fill="#000028" stroke="#111" stroke-width="0.4"/>
<circle cx="561.1" cy="111.6" r="1.05" fill="#000028" stroke="#111" stroke-width="0.4"/>
<circle cx="564.6" cy="111.1" r="1.05" fill="#000028" stroke="#111" stroke-width="0.4"/>
<circle cx="564.7" cy="109.1" r="1.05" fill="#000028" stroke="#111" stroke-width="0.4"/>
<circle cx="545.0" cy="101.5" r="1.05" fill="#0000e6" stroke="#111" stroke-width="0.4"/>
<circle cx="546.9" cy="107.0" r="1.05" fill="#0000e6" stroke="#111" stroke-width="0.4"/>
<circle cx="549.0" cy="108.3" r="1.05" fill="#0000e6" stroke="#111" stroke-width="0.4"/>
<circle cx="551.9" cy="111.5" r="1.05" fill="#0000e6" stroke="#111" stroke-width="0.4"/>
<circle cx="555.1" cy="111.5" r="1.05" fill="#0000e6" stroke="#111" stroke-width="0.4"/>
<circle cx="558.3" cy="99.6" r="1.05" fill="#0000e6" stroke="#111" stroke-width="0.4"/>
<circle cx="561.0" cy="101.5" r="1.05" fill="#0000e6" stroke="#111" stroke-width="0.4"/>
<circle cx="556.5" cy="107.0" r="1.05" fill="#0000e6" stroke="#111" stroke-width="0.4"/>
<circle cx="558.8" cy="106.0" r="1.05" fill="#0000e6" stroke="#111" stroke-width="0.4"/>
<circle cx="562.0" cy="106.5" r="1.05" fill="#0000e6" stroke="#111" stroke-width="0.4"/>
<circle cx="568.4" cy="96.4" r="1.05" fill="#0000e6" stroke="#111" stroke-width="0.4"/>
<circle cx="567.4" cy="99.6" r="1.05" fill="#0000e6" stroke="#111" stroke-width="0.4"/>
<circle cx="572.0" cy="111.0" r="1.05" fill="#0000e6" stroke="#111" stroke-width="0.4"/>
<circle cx="565.6" cy="100.6" r="1.05" fill="#0000e6" stroke="#111" stroke-width="0.4"/>
<circle cx="541.0" cy="109.2" r="1.05" fill="#0000e6" stroke="#111" stroke-width="0.4"/>
<circle cx="543.7" cy="108.8" r="1.05" fill="#0000e6" stroke="#111" stroke-width="0.4"/>
<circle cx="540.5" cy="107.0" r="1.05" fill="#0000e6" stroke="#111" stroke-width="0.4"/>
<circle cx="584.8" cy="96.4" r="1.05" fill="#0000e6" stroke="#111" stroke-width="0.4"/>
<circle cx="589.9" cy="95.5" r="1.05" fill="#0000e6" stroke="#111" stroke-width="0.4"/>
<circle cx="587.6" cy="99.6" r="1.05" fill="#0000e6" stroke="#111" stroke-width="0.4"/>
<circle cx="585.7" cy="101.5" r="1.05" fill="#0000e6" stroke="#111" stroke-width="0.4"/>
<circle cx="588.5" cy="103.8" r="1.05" fill="#0000e6" stroke="#111" stroke-width="0.4"/>
<circle cx="594.0" cy="96.9" r="1.05" fill="#0000e6" stroke="#111" stroke-width="0.4"/>
<circle cx="592.2" cy="98.7" r="1.05" fill="#0000e6" stroke="#111" stroke-width="0.4"/>
<circle cx="598.6" cy="97.8" r="1.05" fill="#0000e6" stroke="#111" stroke-width="0.4"/>
<circle cx="581.2" cy="112.0" r="1.05" fill="#0000e6" stroke="#111" stroke-width="0.4"/>
<circle cx="583.4" cy="112.0" r="1.05" fill="#0000e6" stroke="#111" stroke-width="0.4"/>
<circle cx="585.5" cy="112.0" r="1.05" fill="#0000e6" stroke="#111" stroke-width="0.4"/>
<circle cx="587.6" cy="112.0" r="1.05" fill="#0000e6" stroke="#111" stroke-width="0.4"/>
<circle cx="592.0" cy="112.0" r="1.05" fill="#0000e6" stroke="#111" stroke-width="0.4"/>
<circle cx="594.0" cy="112.0" r="1.05" fill="#0000e6" stroke="#111" stroke-width="0.4"/>
<circle cx="598.6" cy="111.5" r="1.05" fill="#0000e6" stroke="#111" stroke-width="0.4"/>
<circle cx="552.0" cy="104.5" r="1.05" fill="#0000e6" stroke="#111" stroke-width="0.4"/>
<circle cx="554.0" cy="106.0" r="1.05" fill="#0000e6" stroke="#111" stroke-width="0.4"/>
<circle cx="564.0" cy="103.5" r="1.05" fill="#0000e6" stroke="#111" stroke-width="0.4"/>
<circle cx="575.0" cy="104.5" r="1.05" fill="#0000e6" stroke="#111" stroke-width="0.4"/>
<circle cx="579.0" cy="101.5" r="1.05" fill="#0000e6" stroke="#111" stroke-width="0.4"/>
<circle cx="571.0" cy="104.5" r="1.05" fill="#0000e6" stroke="#111" stroke-width="0.4"/>
<circle cx="563.0" cy="110.0" r="1.05" fill="#0000e6" stroke="#111" stroke-width="0.4"/>
<circle cx="599.6" cy="105.0" r="1.05" fill="#6fc0e0" stroke="#111" stroke-width="0.4"/>
<circle cx="594.9" cy="105.4" r="1.05" fill="#6fc0e0" stroke="#111" stroke-width="0.4"/>
<circle cx="595.8" cy="105.1" r="1.05" fill="#6fc0e0" stroke="#111" stroke-width="0.4"/>
<circle cx="593.1" cy="102.6" r="1.05" fill="#6fc0e0" stroke="#111" stroke-width="0.4"/>
<circle cx="599.3" cy="107.1" r="1.05" fill="#6fc0e0" stroke="#111" stroke-width="0.4"/>
<circle cx="591.8" cy="103.2" r="1.05" fill="#6fc0e0" stroke="#111" stroke-width="0.4"/>
<circle cx="600.0" cy="105.5" r="1.05" fill="#6fc0e0" stroke="#111" stroke-width="0.4"/>
<circle cx="594.7" cy="104.3" r="1.05" fill="#6fc0e0" stroke="#111" stroke-width="0.4"/>
<circle cx="595.0" cy="103.7" r="1.05" fill="#6fc0e0" stroke="#111" stroke-width="0.4"/>
<circle cx="592.0" cy="102.6" r="1.05" fill="#6fc0e0" stroke="#111" stroke-width="0.4"/>
<circle cx="592.6" cy="101.4" r="1.05" fill="#6fc0e0" stroke="#111" stroke-width="0.4"/>
<circle cx="597.9" cy="106.1" r="1.05" fill="#6fc0e0" stroke="#111" stroke-width="0.4"/>
<circle cx="594.0" cy="104.3" r="1.05" fill="#6fc0e0" stroke="#111" stroke-width="0.4"/>
<circle cx="599.8" cy="105.1" r="1.05" fill="#6fc0e0" stroke="#111" stroke-width="0.4"/>
<circle cx="596.0" cy="105.1" r="1.05" fill="#000028" stroke="#111" stroke-width="0.4"/>
<circle cx="599.0" cy="106.1" r="1.05" fill="#000028" stroke="#111" stroke-width="0.4"/>
<circle cx="595.5" cy="104.8" r="1.05" fill="#000028" stroke="#111" stroke-width="0.4"/>
<circle cx="595.7" cy="105.5" r="1.05" fill="#000028" stroke="#111" stroke-width="0.4"/>
<circle cx="595.3" cy="105.3" r="1.05" fill="#000028" stroke="#111" stroke-width="0.4"/>
<circle cx="593.2" cy="104.6" r="1.05" fill="#000028" stroke="#111" stroke-width="0.4"/>
<circle cx="607.8" cy="101.4" r="1.05" fill="#6fc0e0" stroke="#111" stroke-width="0.4"/>
<circle cx="605.0" cy="103.6" r="1.05" fill="#6fc0e0" stroke="#111" stroke-width="0.4"/>
<circle cx="606.4" cy="100.8" r="1.05" fill="#6fc0e0" stroke="#111" stroke-width="0.4"/>
<circle cx="605.7" cy="103.3" r="1.05" fill="#6fc0e0" stroke="#111" stroke-width="0.4"/>
<circle cx="594.1" cy="106.2" r="1.05" fill="#6fc0e0" stroke="#111" stroke-width="0.4"/>
<circle cx="609.2" cy="101.8" r="1.05" fill="#6fc0e0" stroke="#111" stroke-width="0.4"/>
<circle cx="599.7" cy="104.1" r="1.05" fill="#6fc0e0" stroke="#111" stroke-width="0.4"/>
<circle cx="606.8" cy="101.9" r="1.05" fill="#6fc0e0" stroke="#111" stroke-width="0.4"/>
<circle cx="605.9" cy="102.1" r="1.05" fill="#6fc0e0" stroke="#111" stroke-width="0.4"/>
<circle cx="598.6" cy="103.3" r="1.05" fill="#6fc0e0" stroke="#111" stroke-width="0.4"/>
<circle cx="602.5" cy="104.1" r="1.05" fill="#6fc0e0" stroke="#111" stroke-width="0.4"/>
<circle cx="596.0" cy="106.3" r="1.05" fill="#6fc0e0" stroke="#111" stroke-width="0.4"/>
<circle cx="602.7" cy="104.0" r="1.05" fill="#6fc0e0" stroke="#111" stroke-width="0.4"/>
<circle cx="596.8" cy="104.4" r="1.05" fill="#6fc0e0" stroke="#111" stroke-width="0.4"/>
<circle cx="596.9" cy="105.6" r="1.05" fill="#6fc0e0" stroke="#111" stroke-width="0.4"/>
<circle cx="607.9" cy="100.0" r="1.05" fill="#6fc0e0" stroke="#111" stroke-width="0.4"/>
<circle cx="596.6" cy="104.2" r="1.05" fill="#000028" stroke="#111" stroke-width="0.4"/>
<circle cx="597.2" cy="105.0" r="1.05" fill="#000028" stroke="#111" stroke-width="0.4"/>
<circle cx="596.6" cy="104.0" r="1.05" fill="#000028" stroke="#111" stroke-width="0.4"/>
<circle cx="598.1" cy="103.8" r="1.05" fill="#000028" stroke="#111" stroke-width="0.4"/>
<circle cx="596.4" cy="104.6" r="1.05" fill="#000028" stroke="#111" stroke-width="0.4"/>
<circle cx="595.9" cy="104.8" r="1.05" fill="#000028" stroke="#111" stroke-width="0.4"/>
<circle cx="611.5" cy="95.8" r="1.05" fill="#000028" stroke="#111" stroke-width="0.4"/>
<circle cx="612.2" cy="93.8" r="1.05" fill="#000028" stroke="#111" stroke-width="0.4"/>
<circle cx="610.9" cy="96.7" r="1.05" fill="#000028" stroke="#111" stroke-width="0.4"/>
<circle cx="609.1" cy="98.8" r="1.05" fill="#000028" stroke="#111" stroke-width="0.4"/>
<circle cx="611.3" cy="95.1" r="1.05" fill="#000028" stroke="#111" stroke-width="0.4"/>
<circle cx="610.4" cy="96.3" r="1.05" fill="#000028" stroke="#111" stroke-width="0.4"/>
<circle cx="611.1" cy="96.4" r="1.05" fill="#000028" stroke="#111" stroke-width="0.4"/>
<circle cx="611.5" cy="96.0" r="1.05" fill="#000028" stroke="#111" stroke-width="0.4"/>
<circle cx="615.1" cy="98.7" r="1.05" fill="#000028" stroke="#111" stroke-width="0.4"/>
<circle cx="613.5" cy="96.9" r="1.05" fill="#000028" stroke="#111" stroke-width="0.4"/>
<circle cx="611.9" cy="95.0" r="1.05" fill="#000028" stroke="#111" stroke-width="0.4"/>
<circle cx="611.9" cy="95.1" r="1.05" fill="#000028" stroke="#111" stroke-width="0.4"/>
<circle cx="615.1" cy="100.2" r="1.05" fill="#000028" stroke="#111" stroke-width="0.4"/>
<circle cx="614.1" cy="99.3" r="1.05" fill="#000028" stroke="#111" stroke-width="0.4"/>
<circle cx="614.0" cy="97.2" r="1.05" fill="#000028" stroke="#111" stroke-width="0.4"/>
<circle cx="612.4" cy="96.8" r="1.05" fill="#000028" stroke="#111" stroke-width="0.4"/>
<circle cx="606.9" cy="86.8" r="1.05" fill="#8fe070" stroke="#111" stroke-width="0.4"/>
<circle cx="610.4" cy="91.2" r="1.05" fill="#6fc0e0" stroke="#111" stroke-width="0.4"/>
<circle cx="614.3" cy="90.1" r="1.05" fill="#6fc0e0" stroke="#111" stroke-width="0.4"/>
<circle cx="615.0" cy="91.2" r="1.05" fill="#6fc0e0" stroke="#111" stroke-width="0.4"/>
<circle cx="614.0" cy="88.5" r="1.05" fill="#6fc0e0" stroke="#111" stroke-width="0.4"/>
<circle cx="613.9" cy="86.9" r="1.05" fill="#6fc0e0" stroke="#111" stroke-width="0.4"/>
<circle cx="612.6" cy="88.9" r="1.05" fill="#6fc0e0" stroke="#111" stroke-width="0.4"/>
<circle cx="627.5" cy="94.6" r="1.05" fill="#6fc0e0" stroke="#111" stroke-width="0.4"/>
<circle cx="621.0" cy="103.8" r="1.05" fill="#6fc0e0" stroke="#111" stroke-width="0.4"/>
<circle cx="652.6" cy="106.0" r="1.05" fill="#6fc0e0" stroke="#111" stroke-width="0.4"/>
<circle cx="630.7" cy="87.7" r="1.05" fill="#6fc0e0" stroke="#111" stroke-width="0.4"/>
<circle cx="638.9" cy="92.0" r="1.05" fill="#6fc0e0" stroke="#111" stroke-width="0.4"/>
<circle cx="639.3" cy="93.5" r="1.05" fill="#6fc0e0" stroke="#111" stroke-width="0.4"/>
<circle cx="638.6" cy="91.0" r="1.05" fill="#6fc0e0" stroke="#111" stroke-width="0.4"/>
<circle cx="640.4" cy="94.6" r="1.05" fill="#6fc0e0" stroke="#111" stroke-width="0.4"/>
<circle cx="598.7" cy="98.7" r="1.05" fill="#0000e6" stroke="#111" stroke-width="0.4"/>
<circle cx="605.0" cy="97.4" r="1.05" fill="#0000e6" stroke="#111" stroke-width="0.4"/>
<circle cx="618.8" cy="97.4" r="1.05" fill="#0000e6" stroke="#111" stroke-width="0.4"/>
<circle cx="628.0" cy="97.8" r="1.05" fill="#0000e6" stroke="#111" stroke-width="0.4"/>
<circle cx="630.7" cy="101.0" r="1.05" fill="#0000e6" stroke="#111" stroke-width="0.4"/>
<circle cx="628.0" cy="102.8" r="1.05" fill="#0000e6" stroke="#111" stroke-width="0.4"/>
<circle cx="628.0" cy="104.7" r="1.05" fill="#0000e6" stroke="#111" stroke-width="0.4"/>
<circle cx="634.3" cy="104.2" r="1.05" fill="#0000e6" stroke="#111" stroke-width="0.4"/>
<circle cx="638.9" cy="98.3" r="1.05" fill="#0000e6" stroke="#111" stroke-width="0.4"/>
<circle cx="598.7" cy="111.5" r="1.05" fill="#0000e6" stroke="#111" stroke-width="0.4"/>
<circle cx="601.9" cy="111.5" r="1.05" fill="#0000e6" stroke="#111" stroke-width="0.4"/>
<circle cx="628.0" cy="112.0" r="1.05" fill="#0000e6" stroke="#111" stroke-width="0.4"/>
<circle cx="639.2" cy="98.2" r="1.05" fill="#0000e6" stroke="#111" stroke-width="0.4"/>
<circle cx="616.0" cy="111.3" r="1.05" fill="#0000e6" stroke="#111" stroke-width="0.4"/>
<circle cx="616.8" cy="111.4" r="1.05" fill="#0000e6" stroke="#111" stroke-width="0.4"/>
<circle cx="613.7" cy="110.0" r="1.05" fill="#0000e6" stroke="#111" stroke-width="0.4"/>
<circle cx="615.8" cy="110.5" r="1.05" fill="#0000e6" stroke="#111" stroke-width="0.4"/>
<circle cx="619.0" cy="110.9" r="1.05" fill="#0000e6" stroke="#111" stroke-width="0.4"/>
<circle cx="622.1" cy="109.0" r="1.05" fill="#0000e6" stroke="#111" stroke-width="0.4"/>
<circle cx="620.3" cy="108.4" r="1.05" fill="#0000e6" stroke="#111" stroke-width="0.4"/>
<circle cx="622.2" cy="109.0" r="1.05" fill="#0000e6" stroke="#111" stroke-width="0.4"/>
<circle cx="644.0" cy="112.3" r="1.05" fill="#0000e6" stroke="#111" stroke-width="0.4"/>
<circle cx="636.4" cy="111.9" r="1.05" fill="#0000e6" stroke="#111" stroke-width="0.4"/>
<circle cx="651.3" cy="111.5" r="1.05" fill="#0000e6" stroke="#111" stroke-width="0.4"/>
<circle cx="649.9" cy="111.4" r="1.05" fill="#0000e6" stroke="#111" stroke-width="0.4"/>
<circle cx="635.7" cy="111.4" r="1.05" fill="#0000e6" stroke="#111" stroke-width="0.4"/>
<circle cx="654.4" cy="111.4" r="1.05" fill="#0000e6" stroke="#111" stroke-width="0.4"/>
<circle cx="644.4" cy="112.2" r="1.05" fill="#0000e6" stroke="#111" stroke-width="0.4"/>
<circle cx="636.0" cy="111.7" r="1.05" fill="#0000e6" stroke="#111" stroke-width="0.4"/>
<circle cx="655.6" cy="111.4" r="1.05" fill="#0000e6" stroke="#111" stroke-width="0.4"/>
<circle cx="637.1" cy="112.2" r="1.05" fill="#0000e6" stroke="#111" stroke-width="0.4"/>
<circle cx="644.2" cy="111.9" r="1.05" fill="#0000e6" stroke="#111" stroke-width="0.4"/>
<circle cx="646.3" cy="112.1" r="1.05" fill="#0000e6" stroke="#111" stroke-width="0.4"/>
<circle cx="638.3" cy="111.7" r="1.05" fill="#0000e6" stroke="#111" stroke-width="0.4"/>
<circle cx="635.5" cy="111.1" r="1.05" fill="#0000e6" stroke="#111" stroke-width="0.4"/>
<circle cx="639.0" cy="111.3" r="1.05" fill="#0000e6" stroke="#111" stroke-width="0.4"/>
<circle cx="637.5" cy="110.7" r="1.05" fill="#0000e6" stroke="#111" stroke-width="0.4"/>
<circle cx="652.5" cy="110.9" r="1.05" fill="#0000e6" stroke="#111" stroke-width="0.4"/>
<circle cx="638.6" cy="111.9" r="1.05" fill="#0000e6" stroke="#111" stroke-width="0.4"/>
<circle cx="633.1" cy="112.1" r="1.05" fill="#0000e6" stroke="#111" stroke-width="0.4"/>
<circle cx="638.6" cy="111.0" r="1.05" fill="#0000e6" stroke="#111" stroke-width="0.4"/>
<circle cx="635.0" cy="111.6" r="1.05" fill="#0000e6" stroke="#111" stroke-width="0.4"/>
<circle cx="650.5" cy="112.1" r="1.05" fill="#0000e6" stroke="#111" stroke-width="0.4"/>
<circle cx="644.5" cy="111.6" r="1.05" fill="#0000e6" stroke="#111" stroke-width="0.4"/>
<circle cx="654.3" cy="112.1" r="1.05" fill="#0000e6" stroke="#111" stroke-width="0.4"/>
<circle cx="653.4" cy="111.5" r="1.05" fill="#0000e6" stroke="#111" stroke-width="0.4"/>
<circle cx="654.8" cy="111.6" r="1.05" fill="#0000e6" stroke="#111" stroke-width="0.4"/>
<circle cx="644.8" cy="111.9" r="1.05" fill="#000028" stroke="#111" stroke-width="0.4"/>
<circle cx="645.9" cy="112.4" r="1.05" fill="#000028" stroke="#111" stroke-width="0.4"/>
<circle cx="640.9" cy="110.7" r="1.05" fill="#000028" stroke="#111" stroke-width="0.4"/>
<circle cx="647.3" cy="110.6" r="1.05" fill="#000028" stroke="#111" stroke-width="0.4"/>
<circle cx="643.3" cy="111.8" r="1.05" fill="#000028" stroke="#111" stroke-width="0.4"/>
<circle cx="646.6" cy="111.2" r="1.05" fill="#000028" stroke="#111" stroke-width="0.4"/>
<circle cx="651.9" cy="111.6" r="1.05" fill="#000028" stroke="#111" stroke-width="0.4"/>
<circle cx="645.4" cy="111.8" r="1.05" fill="#000028" stroke="#111" stroke-width="0.4"/>
<circle cx="648.8" cy="98.6" r="1.05" fill="#000028" stroke="#111" stroke-width="0.4"/>
<circle cx="655.2" cy="98.3" r="1.05" fill="#000028" stroke="#111" stroke-width="0.4"/>
<circle cx="654.5" cy="98.7" r="1.05" fill="#000028" stroke="#111" stroke-width="0.4"/>
<circle cx="649.8" cy="97.4" r="1.05" fill="#000028" stroke="#111" stroke-width="0.4"/>
<circle cx="649.9" cy="96.8" r="1.05" fill="#000028" stroke="#111" stroke-width="0.4"/>
<circle cx="651.8" cy="97.2" r="1.05" fill="#000028" stroke="#111" stroke-width="0.4"/>
<circle cx="648.8" cy="97.2" r="1.05" fill="#000028" stroke="#111" stroke-width="0.4"/>
<circle cx="653.6" cy="97.0" r="1.05" fill="#000028" stroke="#111" stroke-width="0.4"/>
<circle cx="649.3" cy="99.6" r="1.05" fill="#000028" stroke="#111" stroke-width="0.4"/>
<circle cx="648.6" cy="99.2" r="1.05" fill="#000028" stroke="#111" stroke-width="0.4"/>
<circle cx="648.8" cy="95.7" r="1.05" fill="#000028" stroke="#111" stroke-width="0.4"/>
<circle cx="654.2" cy="99.1" r="1.05" fill="#000028" stroke="#111" stroke-width="0.4"/>
<circle cx="652.7" cy="98.0" r="1.05" fill="#000028" stroke="#111" stroke-width="0.4"/>
<circle cx="652.7" cy="96.8" r="1.05" fill="#000028" stroke="#111" stroke-width="0.4"/>
<circle cx="649.0" cy="96.9" r="1.05" fill="#000028" stroke="#111" stroke-width="0.4"/>
<circle cx="653.6" cy="98.8" r="1.05" fill="#000028" stroke="#111" stroke-width="0.4"/>
<circle cx="664.0" cy="104.1" r="1.05" fill="#0000e6" stroke="#111" stroke-width="0.4"/>
<circle cx="661.2" cy="105.4" r="1.05" fill="#0000e6" stroke="#111" stroke-width="0.4"/>
<circle cx="658.4" cy="107.5" r="1.05" fill="#0000e6" stroke="#111" stroke-width="0.4"/>
<circle cx="657.9" cy="108.5" r="1.05" fill="#0000e6" stroke="#111" stroke-width="0.4"/>
<circle cx="662.9" cy="104.6" r="1.05" fill="#0000e6" stroke="#111" stroke-width="0.4"/>
<circle cx="664.3" cy="104.0" r="1.05" fill="#0000e6" stroke="#111" stroke-width="0.4"/>
<circle cx="661.8" cy="104.4" r="1.05" fill="#0000e6" stroke="#111" stroke-width="0.4"/>
<circle cx="664.7" cy="102.5" r="1.05" fill="#0000e6" stroke="#111" stroke-width="0.4"/>
<circle cx="658.2" cy="107.9" r="1.05" fill="#0000e6" stroke="#111" stroke-width="0.4"/>
<circle cx="658.5" cy="107.7" r="1.05" fill="#0000e6" stroke="#111" stroke-width="0.4"/>
<circle cx="670.9" cy="105.7" r="1.05" fill="#0000e6" stroke="#111" stroke-width="0.4"/>
<circle cx="669.9" cy="107.7" r="1.05" fill="#0000e6" stroke="#111" stroke-width="0.4"/>
<circle cx="669.6" cy="108.6" r="1.05" fill="#0000e6" stroke="#111" stroke-width="0.4"/>
<circle cx="670.0" cy="105.9" r="1.05" fill="#0000e6" stroke="#111" stroke-width="0.4"/>
<circle cx="670.4" cy="105.5" r="1.05" fill="#0000e6" stroke="#111" stroke-width="0.4"/>
<circle cx="671.3" cy="108.8" r="1.05" fill="#0000e6" stroke="#111" stroke-width="0.4"/>
<circle cx="668.1" cy="108.5" r="1.05" fill="#0000e6" stroke="#111" stroke-width="0.4"/>
<circle cx="665.1" cy="108.7" r="1.05" fill="#0000e6" stroke="#111" stroke-width="0.4"/>
<circle cx="668.4" cy="109.9" r="1.05" fill="#0000e6" stroke="#111" stroke-width="0.4"/>
<circle cx="666.4" cy="109.9" r="1.05" fill="#0000e6" stroke="#111" stroke-width="0.4"/>
<circle cx="667.7" cy="109.4" r="1.05" fill="#0000e6" stroke="#111" stroke-width="0.4"/>
<circle cx="668.3" cy="95.2" r="1.05" fill="#6fc0e0" stroke="#111" stroke-width="0.4"/>
<circle cx="666.0" cy="98.8" r="1.05" fill="#6fc0e0" stroke="#111" stroke-width="0.4"/>
<circle cx="668.0" cy="99.5" r="1.05" fill="#6fc0e0" stroke="#111" stroke-width="0.4"/>
<circle cx="670.7" cy="100.6" r="1.05" fill="#6fc0e0" stroke="#111" stroke-width="0.4"/>
<circle cx="652.9" cy="106.0" r="1.05" fill="#6fc0e0" stroke="#111" stroke-width="0.4"/>
<circle cx="641.5" cy="85.9" r="1.05" fill="#8fe070" stroke="#111" stroke-width="0.4"/>
<circle cx="639.8" cy="83.0" r="1.05" fill="#8fe070" stroke="#111" stroke-width="0.4"/>
<circle cx="641.6" cy="85.2" r="1.05" fill="#8fe070" stroke="#111" stroke-width="0.4"/>
<circle cx="643.8" cy="85.1" r="1.05" fill="#8fe070" stroke="#111" stroke-width="0.4"/>
<circle cx="639.1" cy="82.7" r="1.05" fill="#8fe070" stroke="#111" stroke-width="0.4"/>
<circle cx="645.0" cy="79.3" r="1.05" fill="#8fe070" stroke="#111" stroke-width="0.4"/>
<circle cx="641.8" cy="81.1" r="1.05" fill="#8fe070" stroke="#111" stroke-width="0.4"/>
<circle cx="640.1" cy="81.5" r="1.05" fill="#8fe070" stroke="#111" stroke-width="0.4"/>
<circle cx="642.1" cy="79.3" r="1.05" fill="#8fe070" stroke="#111" stroke-width="0.4"/>
<circle cx="646.6" cy="80.8" r="1.05" fill="#8fe070" stroke="#111" stroke-width="0.4"/>
<circle cx="642.7" cy="85.5" r="1.05" fill="#8fe070" stroke="#111" stroke-width="0.4"/>
<circle cx="644.0" cy="86.6" r="1.05" fill="#8fe070" stroke="#111" stroke-width="0.4"/>
<circle cx="647.2" cy="79.8" r="1.05" fill="#8fe070" stroke="#111" stroke-width="0.4"/>
<circle cx="647.8" cy="79.6" r="1.05" fill="#8fe070" stroke="#111" stroke-width="0.4"/>
<circle cx="640.1" cy="85.5" r="1.05" fill="#6fc0e0" stroke="#111" stroke-width="0.4"/>
<circle cx="646.9" cy="83.5" r="1.05" fill="#6fc0e0" stroke="#111" stroke-width="0.4"/>
<circle cx="644.6" cy="84.3" r="1.05" fill="#6fc0e0" stroke="#111" stroke-width="0.4"/>
<circle cx="643.3" cy="80.7" r="1.05" fill="#6fc0e0" stroke="#111" stroke-width="0.4"/>
<circle cx="640.2" cy="81.9" r="1.05" fill="#6fc0e0" stroke="#111" stroke-width="0.4"/>
<circle cx="646.4" cy="83.7" r="1.05" fill="#6fc0e0" stroke="#111" stroke-width="0.4"/>
<circle cx="646.7" cy="85.5" r="1.05" fill="#6fc0e0" stroke="#111" stroke-width="0.4"/>
<circle cx="640.7" cy="85.1" r="1.05" fill="#6fc0e0" stroke="#111" stroke-width="0.4"/>
<circle cx="641.9" cy="83.5" r="1.05" fill="#6fc0e0" stroke="#111" stroke-width="0.4"/>
<circle cx="644.2" cy="82.4" r="1.05" fill="#6fc0e0" stroke="#111" stroke-width="0.4"/>
<circle cx="642.9" cy="82.4" r="1.05" fill="#8fe070" stroke="#111" stroke-width="0.6"/>
<circle cx="643.0" cy="81.7" r="1.05" fill="#8fe070" stroke="#111" stroke-width="0.6"/>
<circle cx="644.1" cy="81.5" r="1.05" fill="#8fe070" stroke="#111" stroke-width="0.6"/>
<circle cx="644.1" cy="84.6" r="1.05" fill="#8fe070" stroke="#111" stroke-width="0.6"/>
<circle cx="643.1" cy="83.9" r="1.05" fill="#8fe070" stroke="#111" stroke-width="0.6"/>
<circle cx="645.9" cy="84.3" r="1.05" fill="#8fe070" stroke="#111" stroke-width="0.6"/>
<circle cx="642.4" cy="81.6" r="1.05" fill="#8fe070" stroke="#111" stroke-width="0.6"/>
<circle cx="642.2" cy="83.4" r="1.05" fill="#8fe070" stroke="#111" stroke-width="0.6"/>
<circle cx="645.6" cy="83.6" r="1.05" fill="#8fe070" stroke="#111" stroke-width="0.6"/>
<circle cx="642.1" cy="84.1" r="1.05" fill="#8fe070" stroke="#111" stroke-width="0.6"/>
<circle cx="657.6" cy="86.9" r="1.05" fill="#8fe070" stroke="#111" stroke-width="0.4"/>
<circle cx="657.6" cy="89.3" r="1.05" fill="#8fe070" stroke="#111" stroke-width="0.4"/>
<circle cx="664.8" cy="86.3" r="1.05" fill="#8fe070" stroke="#111" stroke-width="0.4"/>
<circle cx="658.8" cy="96.4" r="1.05" fill="#8fe070" stroke="#111" stroke-width="0.4"/>
<circle cx="661.0" cy="97.6" r="1.05" fill="#8fe070" stroke="#111" stroke-width="0.4"/>
<circle cx="663.5" cy="94.5" r="1.05" fill="#8fe070" stroke="#111" stroke-width="0.4"/>
<circle cx="664.8" cy="92.9" r="1.05" fill="#8fe070" stroke="#111" stroke-width="0.4"/>
<circle cx="665.6" cy="93.5" r="1.05" fill="#8fe070" stroke="#111" stroke-width="0.4"/>
<circle cx="664.2" cy="93.8" r="1.05" fill="#8fe070" stroke="#111" stroke-width="0.4"/>
<circle cx="665.3" cy="93.8" r="1.05" fill="#8fe070" stroke="#111" stroke-width="0.4"/>
<circle cx="661.8" cy="90.9" r="1.05" fill="#8fe070" stroke="#111" stroke-width="0.4"/>
<circle cx="663.2" cy="92.1" r="1.05" fill="#8fe070" stroke="#111" stroke-width="0.4"/>
<circle cx="662.4" cy="90.8" r="1.05" fill="#8fe070" stroke="#111" stroke-width="0.4"/>
<circle cx="469.0" cy="65.5" r="1.05" fill="#f5a04f" stroke="#111" stroke-width="0.4"/>
<circle cx="470.8" cy="65.1" r="1.05" fill="#f5a04f" stroke="#111" stroke-width="0.4"/>
<circle cx="471.7" cy="65.8" r="1.05" fill="#f5a04f" stroke="#111" stroke-width="0.4"/>
<circle cx="462.6" cy="70.2" r="1.05" fill="#f5a04f" stroke="#111" stroke-width="0.4"/>
<circle cx="469.6" cy="69.8" r="1.05" fill="#f5a04f" stroke="#111" stroke-width="0.4"/>
<circle cx="494.7" cy="70.4" r="1.05" fill="#f5a04f" stroke="#111" stroke-width="0.4"/>
<circle cx="498.7" cy="69.3" r="1.05" fill="#f5a04f" stroke="#111" stroke-width="0.4"/>
<circle cx="507.4" cy="64.6" r="1.05" fill="#f5a04f" stroke="#111" stroke-width="0.4"/>
<circle cx="515.5" cy="63.2" r="1.05" fill="#f5a04f" stroke="#111" stroke-width="0.4"/>
<circle cx="517.6" cy="63.4" r="1.05" fill="#f5a04f" stroke="#111" stroke-width="0.4"/>
<circle cx="521.9" cy="63.4" r="1.05" fill="#f5a04f" stroke="#111" stroke-width="0.4"/>
<circle cx="550.8" cy="40.8" r="1.05" fill="#f5a04f" stroke="#111" stroke-width="0.4"/>
<circle cx="463.8" cy="82.9" r="1.05" fill="#8fe070" stroke="#111" stroke-width="0.4"/>
<circle cx="474.8" cy="83.3" r="1.05" fill="#8fe070" stroke="#111" stroke-width="0.4"/>
<circle cx="484.8" cy="92.5" r="1.05" fill="#8fe070" stroke="#111" stroke-width="0.4"/>
<circle cx="487.4" cy="90.8" r="1.05" fill="#8fe070" stroke="#111" stroke-width="0.4"/>
<circle cx="489.1" cy="91.6" r="1.05" fill="#8fe070" stroke="#111" stroke-width="0.4"/>
<circle cx="493.5" cy="91.3" r="1.05" fill="#8fe070" stroke="#111" stroke-width="0.4"/>
<circle cx="495.2" cy="91.6" r="1.05" fill="#8fe070" stroke="#111" stroke-width="0.4"/>
<circle cx="497.8" cy="91.6" r="1.05" fill="#8fe070" stroke="#111" stroke-width="0.4"/>
<circle cx="501.3" cy="86.4" r="1.05" fill="#8fe070" stroke="#111" stroke-width="0.4"/>
<circle cx="503.1" cy="87.3" r="1.05" fill="#8fe070" stroke="#111" stroke-width="0.4"/>
<circle cx="504.8" cy="87.6" r="1.05" fill="#8fe070" stroke="#111" stroke-width="0.4"/>
<circle cx="502.0" cy="88.5" r="1.05" fill="#8fe070" stroke="#111" stroke-width="0.4"/>
<circle cx="506.4" cy="87.3" r="1.05" fill="#8fe070" stroke="#111" stroke-width="0.4"/>
<circle cx="516.3" cy="88.5" r="1.05" fill="#8fe070" stroke="#111" stroke-width="0.4"/>
<circle cx="532.4" cy="85.8" r="1.05" fill="#8fe070" stroke="#111" stroke-width="0.4"/>
<circle cx="534.5" cy="85.5" r="1.05" fill="#8fe070" stroke="#111" stroke-width="0.4"/>
<circle cx="535.2" cy="86.6" r="1.05" fill="#8fe070" stroke="#111" stroke-width="0.4"/>
<circle cx="585.3" cy="70.3" r="1.05" fill="#8fe070" stroke="#111" stroke-width="0.4"/>
<circle cx="577.4" cy="75.6" r="1.05" fill="#8fe070" stroke="#111" stroke-width="0.4"/>
<circle cx="456.3" cy="90.4" r="1.05" fill="#6fc0e0" stroke="#111" stroke-width="0.4"/>
<circle cx="459.1" cy="91.3" r="1.05" fill="#6fc0e0" stroke="#111" stroke-width="0.4"/>
<circle cx="465.6" cy="86.4" r="1.05" fill="#6fc0e0" stroke="#111" stroke-width="0.4"/>
<circle cx="467.3" cy="86.0" r="1.05" fill="#6fc0e0" stroke="#111" stroke-width="0.4"/>
<circle cx="468.0" cy="87.5" r="1.05" fill="#6fc0e0" stroke="#111" stroke-width="0.4"/>
<circle cx="465.6" cy="92.2" r="1.05" fill="#6fc0e0" stroke="#111" stroke-width="0.4"/>
<circle cx="461.2" cy="96.0" r="1.05" fill="#6fc0e0" stroke="#111" stroke-width="0.4"/>
<circle cx="467.3" cy="96.8" r="1.05" fill="#6fc0e0" stroke="#111" stroke-width="0.4"/>
<circle cx="466.3" cy="95.1" r="1.05" fill="#6fc0e0" stroke="#111" stroke-width="0.4"/>
<circle cx="473.0" cy="95.2" r="1.05" fill="#6fc0e0" stroke="#111" stroke-width="0.4"/>
<circle cx="473.6" cy="100.6" r="1.05" fill="#6fc0e0" stroke="#111" stroke-width="0.4"/>
<circle cx="469.2" cy="98.2" r="1.05" fill="#6fc0e0" stroke="#111" stroke-width="0.4"/>
<circle cx="466.5" cy="98.5" r="1.05" fill="#6fc0e0" stroke="#111" stroke-width="0.4"/>
<circle cx="472.3" cy="100.9" r="1.05" fill="#6fc0e0" stroke="#111" stroke-width="0.4"/>
<circle cx="466.3" cy="100.3" r="1.05" fill="#6fc0e0" stroke="#111" stroke-width="0.4"/>
<circle cx="469.8" cy="96.9" r="1.05" fill="#6fc0e0" stroke="#111" stroke-width="0.4"/>
<circle cx="466.7" cy="95.7" r="1.05" fill="#6fc0e0" stroke="#111" stroke-width="0.4"/>
<circle cx="459.4" cy="95.4" r="1.05" fill="#6fc0e0" stroke="#111" stroke-width="0.4"/>
<circle cx="474.2" cy="97.1" r="1.05" fill="#6fc0e0" stroke="#111" stroke-width="0.4"/>
<circle cx="470.9" cy="98.2" r="1.05" fill="#6fc0e0" stroke="#111" stroke-width="0.4"/>
<circle cx="461.4" cy="96.4" r="1.05" fill="#6fc0e0" stroke="#111" stroke-width="0.4"/>
<circle cx="466.0" cy="97.7" r="1.05" fill="#6fc0e0" stroke="#111" stroke-width="0.4"/>
<circle cx="467.6" cy="95.8" r="1.05" fill="#6fc0e0" stroke="#111" stroke-width="0.4"/>
<circle cx="464.9" cy="96.7" r="1.05" fill="#6fc0e0" stroke="#111" stroke-width="0.4"/>
<circle cx="465.5" cy="97.0" r="1.05" fill="#6fc0e0" stroke="#111" stroke-width="0.4"/>
<circle cx="468.9" cy="100.1" r="1.05" fill="#6fc0e0" stroke="#111" stroke-width="0.4"/>
<circle cx="469.8" cy="95.2" r="1.05" fill="#6fc0e0" stroke="#111" stroke-width="0.4"/>
<circle cx="460.0" cy="99.4" r="1.05" fill="#6fc0e0" stroke="#111" stroke-width="0.4"/>
<circle cx="463.3" cy="99.7" r="1.05" fill="#6fc0e0" stroke="#111" stroke-width="0.4"/>
<circle cx="469.2" cy="99.6" r="1.05" fill="#6fc0e0" stroke="#111" stroke-width="0.6"/>
<circle cx="472.2" cy="97.3" r="1.05" fill="#6fc0e0" stroke="#111" stroke-width="0.6"/>
<circle cx="468.2" cy="96.6" r="1.05" fill="#6fc0e0" stroke="#111" stroke-width="0.6"/>
<circle cx="464.9" cy="99.9" r="1.05" fill="#6fc0e0" stroke="#111" stroke-width="0.6"/>
<circle cx="469.8" cy="97.6" r="1.05" fill="#6fc0e0" stroke="#111" stroke-width="0.6"/>
<circle cx="468.3" cy="99.8" r="1.05" fill="#6fc0e0" stroke="#111" stroke-width="0.6"/>
<circle cx="464.3" cy="97.5" r="1.05" fill="#6fc0e0" stroke="#111" stroke-width="0.6"/>
<circle cx="471.1" cy="99.3" r="1.05" fill="#6fc0e0" stroke="#111" stroke-width="0.6"/>
<circle cx="469.4" cy="99.3" r="1.05" fill="#6fc0e0" stroke="#111" stroke-width="0.6"/>
<circle cx="470.3" cy="98.7" r="1.05" fill="#6fc0e0" stroke="#111" stroke-width="0.6"/>
<circle cx="467.4" cy="98.6" r="1.05" fill="#6fc0e0" stroke="#111" stroke-width="0.6"/>
<circle cx="465.9" cy="97.4" r="1.05" fill="#6fc0e0" stroke="#111" stroke-width="0.6"/>
<circle cx="465.1" cy="96.7" r="1.05" fill="#6fc0e0" stroke="#111" stroke-width="0.6"/>
<circle cx="463.0" cy="99.8" r="1.05" fill="#6fc0e0" stroke="#111" stroke-width="0.6"/>
<circle cx="538.4" cy="59.5" r="1.05" fill="#8fe070" stroke="#111" stroke-width="0.4"/>
<circle cx="535.8" cy="58.4" r="1.05" fill="#8fe070" stroke="#111" stroke-width="0.4"/>
<circle cx="541.2" cy="58.6" r="1.05" fill="#8fe070" stroke="#111" stroke-width="0.4"/>
<circle cx="540.6" cy="64.2" r="1.05" fill="#8fe070" stroke="#111" stroke-width="0.4"/>
<circle cx="541.5" cy="58.1" r="1.05" fill="#8fe070" stroke="#111" stroke-width="0.4"/>
<circle cx="537.3" cy="63.7" r="1.05" fill="#8fe070" stroke="#111" stroke-width="0.4"/>
<circle cx="535.7" cy="60.7" r="1.05" fill="#8fe070" stroke="#111" stroke-width="0.4"/>
<circle cx="535.9" cy="64.2" r="1.05" fill="#8fe070" stroke="#111" stroke-width="0.4"/>
<circle cx="540.6" cy="64.0" r="1.05" fill="#8fe070" stroke="#111" stroke-width="0.4"/>
<circle cx="536.0" cy="61.2" r="1.05" fill="#8fe070" stroke="#111" stroke-width="0.4"/>
<circle cx="537.9" cy="63.0" r="1.05" fill="#8fe070" stroke="#111" stroke-width="0.4"/>
<circle cx="536.5" cy="61.2" r="1.05" fill="#8fe070" stroke="#111" stroke-width="0.4"/>
<circle cx="536.9" cy="63.6" r="1.05" fill="#8fe070" stroke="#111" stroke-width="0.4"/>
<circle cx="538.2" cy="61.9" r="1.05" fill="#8fe070" stroke="#111" stroke-width="0.4"/>
<circle cx="537.1" cy="64.0" r="1.05" fill="#8fe070" stroke="#111" stroke-width="0.4"/>
<circle cx="538.3" cy="64.2" r="1.05" fill="#8fe070" stroke="#111" stroke-width="0.4"/>
<circle cx="537.5" cy="65.1" r="1.05" fill="#8fe070" stroke="#111" stroke-width="0.4"/>
<circle cx="542.3" cy="61.4" r="1.05" fill="#8fe070" stroke="#111" stroke-width="0.4"/>
<circle cx="536.9" cy="60.7" r="1.05" fill="#8fe070" stroke="#111" stroke-width="0.4"/>
<circle cx="538.8" cy="65.2" r="1.05" fill="#8fe070" stroke="#111" stroke-width="0.4"/>
<circle cx="541.0" cy="64.0" r="1.05" fill="#8fe070" stroke="#111" stroke-width="0.4"/>
<circle cx="535.8" cy="59.7" r="1.05" fill="#8fe070" stroke="#111" stroke-width="0.4"/>
<circle cx="539.5" cy="64.2" r="1.05" fill="#8fe070" stroke="#111" stroke-width="0.6"/>
<circle cx="538.9" cy="59.2" r="1.05" fill="#8fe070" stroke="#111" stroke-width="0.6"/>
<circle cx="540.9" cy="64.0" r="1.05" fill="#8fe070" stroke="#111" stroke-width="0.6"/>
<circle cx="537.0" cy="63.5" r="1.05" fill="#8fe070" stroke="#111" stroke-width="0.6"/>
<circle cx="536.9" cy="64.4" r="1.05" fill="#8fe070" stroke="#111" stroke-width="0.6"/>
<circle cx="536.0" cy="61.3" r="1.05" fill="#8fe070" stroke="#111" stroke-width="0.6"/>
<circle cx="541.6" cy="59.9" r="1.05" fill="#8fe070" stroke="#111" stroke-width="0.6"/>
<circle cx="538.2" cy="60.8" r="1.05" fill="#8fe070" stroke="#111" stroke-width="0.6"/>
<circle cx="535.2" cy="58.8" r="1.05" fill="#8fe070" stroke="#111" stroke-width="0.6"/>
<circle cx="538.5" cy="60.0" r="1.05" fill="#8fe070" stroke="#111" stroke-width="0.6"/>
<circle cx="542.0" cy="60.9" r="1.05" fill="#8fe070" stroke="#111" stroke-width="0.6"/>
<circle cx="535.2" cy="64.6" r="1.05" fill="#8fe070" stroke="#111" stroke-width="0.6"/>
<circle cx="540.9" cy="62.7" r="1.05" fill="#8fe070" stroke="#111" stroke-width="0.6"/>
<circle cx="540.5" cy="59.4" r="1.05" fill="#8fe070" stroke="#111" stroke-width="0.6"/>
<circle cx="537.0" cy="63.9" r="1.05" fill="#8fe070" stroke="#111" stroke-width="0.6"/>
<circle cx="539.9" cy="59.4" r="1.05" fill="#8fe070" stroke="#111" stroke-width="0.6"/>
<circle cx="539.9" cy="61.4" r="1.05" fill="#8fe070" stroke="#111" stroke-width="0.6"/>
<circle cx="535.0" cy="59.0" r="1.05" fill="#8fe070" stroke="#111" stroke-width="0.6"/>
<circle cx="536.8" cy="63.9" r="1.05" fill="#8fe070" stroke="#111" stroke-width="0.6"/>
<circle cx="538.8" cy="63.2" r="1.05" fill="#8fe070" stroke="#111" stroke-width="0.6"/>
<circle cx="538.7" cy="59.2" r="1.05" fill="#8fe070" stroke="#111" stroke-width="0.6"/>
<circle cx="537.0" cy="60.5" r="1.05" fill="#8fe070" stroke="#111" stroke-width="0.6"/>
<circle cx="533.3" cy="69.4" r="1.05" fill="#8fe070" stroke="#111" stroke-width="0.4"/>
<circle cx="537.8" cy="69.7" r="1.05" fill="#8fe070" stroke="#111" stroke-width="0.4"/>
<circle cx="533.7" cy="72.7" r="1.05" fill="#8fe070" stroke="#111" stroke-width="0.4"/>
<circle cx="536.6" cy="66.7" r="1.05" fill="#8fe070" stroke="#111" stroke-width="0.4"/>
<circle cx="536.1" cy="68.2" r="1.05" fill="#8fe070" stroke="#111" stroke-width="0.4"/>
<circle cx="533.9" cy="69.5" r="1.05" fill="#8fe070" stroke="#111" stroke-width="0.4"/>
<circle cx="536.7" cy="68.2" r="1.05" fill="#8fe070" stroke="#111" stroke-width="0.4"/>
<circle cx="535.5" cy="71.1" r="1.05" fill="#8fe070" stroke="#111" stroke-width="0.4"/>
<circle cx="533.5" cy="73.1" r="1.05" fill="#8fe070" stroke="#111" stroke-width="0.4"/>
<circle cx="533.4" cy="70.1" r="1.05" fill="#8fe070" stroke="#111" stroke-width="0.4"/>
<circle cx="545.3" cy="70.9" r="1.05" fill="#8fe070" stroke="#111" stroke-width="0.4"/>
<circle cx="545.7" cy="68.3" r="1.05" fill="#8fe070" stroke="#111" stroke-width="0.4"/>
<circle cx="544.9" cy="69.4" r="1.05" fill="#8fe070" stroke="#111" stroke-width="0.4"/>
<circle cx="550.0" cy="67.7" r="1.05" fill="#8fe070" stroke="#111" stroke-width="0.4"/>
<circle cx="540.4" cy="70.1" r="1.05" fill="#8fe070" stroke="#111" stroke-width="0.4"/>
<circle cx="543.6" cy="69.8" r="1.05" fill="#8fe070" stroke="#111" stroke-width="0.4"/>
<circle cx="546.5" cy="70.0" r="1.05" fill="#8fe070" stroke="#111" stroke-width="0.4"/>
<circle cx="547.6" cy="68.1" r="1.05" fill="#8fe070" stroke="#111" stroke-width="0.4"/>
<circle cx="540.6" cy="69.0" r="1.05" fill="#8fe070" stroke="#111" stroke-width="0.4"/>
<circle cx="548.3" cy="67.4" r="1.05" fill="#8fe070" stroke="#111" stroke-width="0.4"/>
<circle cx="548.0" cy="68.6" r="1.05" fill="#8fe070" stroke="#111" stroke-width="0.4"/>
<circle cx="547.2" cy="69.4" r="1.05" fill="#8fe070" stroke="#111" stroke-width="0.4"/>
<circle cx="548.3" cy="66.9" r="1.05" fill="#8fe070" stroke="#111" stroke-width="0.4"/>
<circle cx="548.0" cy="68.6" r="1.05" fill="#8fe070" stroke="#111" stroke-width="0.4"/>
<circle cx="543.1" cy="66.8" r="1.05" fill="#8fe070" stroke="#111" stroke-width="0.4"/>
<circle cx="542.2" cy="66.8" r="1.05" fill="#8fe070" stroke="#111" stroke-width="0.4"/>
<circle cx="548.9" cy="68.8" r="1.05" fill="#8fe070" stroke="#111" stroke-width="0.6"/>
<circle cx="549.4" cy="68.9" r="1.05" fill="#8fe070" stroke="#111" stroke-width="0.6"/>
<circle cx="543.2" cy="69.6" r="1.05" fill="#8fe070" stroke="#111" stroke-width="0.6"/>
<circle cx="542.6" cy="68.2" r="1.05" fill="#8fe070" stroke="#111" stroke-width="0.6"/>
<circle cx="547.6" cy="70.0" r="1.05" fill="#8fe070" stroke="#111" stroke-width="0.6"/>
<circle cx="543.8" cy="67.4" r="1.05" fill="#8fe070" stroke="#111" stroke-width="0.6"/>
<circle cx="544.1" cy="70.1" r="1.05" fill="#8fe070" stroke="#111" stroke-width="0.6"/>
<circle cx="547.3" cy="70.1" r="1.05" fill="#8fe070" stroke="#111" stroke-width="0.6"/>
<circle cx="544.3" cy="70.4" r="1.05" fill="#8fe070" stroke="#111" stroke-width="0.6"/>
<circle cx="545.2" cy="68.7" r="1.05" fill="#8fe070" stroke="#111" stroke-width="0.6"/>
<circle cx="548.9" cy="68.8" r="1.05" fill="#8fe070" stroke="#111" stroke-width="0.6"/>
<circle cx="547.8" cy="69.5" r="1.05" fill="#8fe070" stroke="#111" stroke-width="0.6"/>
<circle cx="541.7" cy="69.1" r="1.05" fill="#8fe070" stroke="#111" stroke-width="0.6"/>
<circle cx="548.0" cy="68.9" r="1.05" fill="#8fe070" stroke="#111" stroke-width="0.6"/>
<circle cx="543.7" cy="67.3" r="1.05" fill="#8fe070" stroke="#111" stroke-width="0.6"/>
<circle cx="546.6" cy="68.1" r="1.05" fill="#8fe070" stroke="#111" stroke-width="0.6"/>
<circle cx="546.1" cy="68.5" r="1.05" fill="#8fe070" stroke="#111" stroke-width="0.6"/>
<circle cx="546.9" cy="68.2" r="1.05" fill="#8fe070" stroke="#111" stroke-width="0.6"/>
<circle cx="547.6" cy="80.7" r="1.05" fill="#8fe070" stroke="#111" stroke-width="0.4"/>
<circle cx="548.8" cy="82.2" r="1.05" fill="#8fe070" stroke="#111" stroke-width="0.4"/>
<circle cx="548.5" cy="82.0" r="1.05" fill="#8fe070" stroke="#111" stroke-width="0.4"/>
<circle cx="551.1" cy="71.8" r="1.05" fill="#8fe070" stroke="#111" stroke-width="0.4"/>
<circle cx="549.9" cy="75.1" r="1.05" fill="#8fe070" stroke="#111" stroke-width="0.4"/>
<circle cx="550.5" cy="78.6" r="1.05" fill="#8fe070" stroke="#111" stroke-width="0.4"/>
<circle cx="551.1" cy="72.6" r="1.05" fill="#8fe070" stroke="#111" stroke-width="0.4"/>
<circle cx="549.8" cy="79.8" r="1.05" fill="#8fe070" stroke="#111" stroke-width="0.4"/>
<circle cx="547.5" cy="71.8" r="1.05" fill="#8fe070" stroke="#111" stroke-width="0.4"/>
<circle cx="562.1" cy="78.1" r="1.05" fill="#8fe070" stroke="#111" stroke-width="0.4"/>
<circle cx="557.7" cy="80.1" r="1.05" fill="#8fe070" stroke="#111" stroke-width="0.4"/>
<circle cx="560.2" cy="81.2" r="1.05" fill="#8fe070" stroke="#111" stroke-width="0.4"/>
<circle cx="564.0" cy="78.1" r="1.05" fill="#8fe070" stroke="#111" stroke-width="0.4"/>
<circle cx="562.0" cy="80.1" r="1.05" fill="#8fe070" stroke="#111" stroke-width="0.4"/>
<circle cx="559.4" cy="78.4" r="1.05" fill="#8fe070" stroke="#111" stroke-width="0.4"/>
<circle cx="560.7" cy="76.9" r="1.05" fill="#8fe070" stroke="#111" stroke-width="0.4"/>
<circle cx="554.8" cy="81.8" r="1.05" fill="#8fe070" stroke="#111" stroke-width="0.4"/>
<circle cx="559.0" cy="78.3" r="1.05" fill="#8fe070" stroke="#111" stroke-width="0.4"/>
<circle cx="559.7" cy="77.0" r="1.05" fill="#8fe070" stroke="#111" stroke-width="0.4"/>
<circle cx="556.4" cy="78.9" r="1.05" fill="#8fe070" stroke="#111" stroke-width="0.4"/>
<circle cx="564.6" cy="77.3" r="1.05" fill="#8fe070" stroke="#111" stroke-width="0.4"/>
<circle cx="563.7" cy="79.3" r="1.05" fill="#8fe070" stroke="#111" stroke-width="0.4"/>
<circle cx="554.9" cy="82.9" r="1.05" fill="#8fe070" stroke="#111" stroke-width="0.4"/>
<circle cx="558.5" cy="83.4" r="1.05" fill="#8fe070" stroke="#111" stroke-width="0.4"/>
<circle cx="558.4" cy="75.3" r="1.05" fill="#8fe070" stroke="#111" stroke-width="0.4"/>
<circle cx="561.1" cy="82.9" r="1.05" fill="#8fe070" stroke="#111" stroke-width="0.4"/>
<circle cx="557.0" cy="77.9" r="1.05" fill="#8fe070" stroke="#111" stroke-width="0.4"/>
<circle cx="557.2" cy="80.6" r="1.05" fill="#8fe070" stroke="#111" stroke-width="0.6"/>
<circle cx="562.8" cy="81.7" r="1.05" fill="#8fe070" stroke="#111" stroke-width="0.6"/>
<circle cx="561.6" cy="82.0" r="1.05" fill="#8fe070" stroke="#111" stroke-width="0.6"/>
<circle cx="561.1" cy="81.5" r="1.05" fill="#8fe070" stroke="#111" stroke-width="0.6"/>
<circle cx="560.2" cy="79.2" r="1.05" fill="#8fe070" stroke="#111" stroke-width="0.6"/>
<circle cx="558.1" cy="79.3" r="1.05" fill="#8fe070" stroke="#111" stroke-width="0.6"/>
<circle cx="562.1" cy="78.9" r="1.05" fill="#8fe070" stroke="#111" stroke-width="0.6"/>
<circle cx="560.5" cy="80.1" r="1.05" fill="#8fe070" stroke="#111" stroke-width="0.6"/>
<circle cx="562.2" cy="80.7" r="1.05" fill="#8fe070" stroke="#111" stroke-width="0.6"/>
<circle cx="560.9" cy="79.1" r="1.05" fill="#8fe070" stroke="#111" stroke-width="0.6"/>
<circle cx="558.9" cy="82.2" r="1.05" fill="#8fe070" stroke="#111" stroke-width="0.6"/>
<circle cx="561.6" cy="80.6" r="1.05" fill="#8fe070" stroke="#111" stroke-width="0.6"/>
<circle cx="562.0" cy="81.6" r="1.05" fill="#8fe070" stroke="#111" stroke-width="0.6"/>
<circle cx="557.3" cy="82.1" r="1.05" fill="#8fe070" stroke="#111" stroke-width="0.6"/>
<circle cx="542.4" cy="73.3" r="1.05" fill="#8fe070" stroke="#111" stroke-width="0.4"/>
<circle cx="542.4" cy="75.5" r="1.05" fill="#8fe070" stroke="#111" stroke-width="0.4"/>
<circle cx="550.2" cy="76.0" r="1.05" fill="#f5a04f" stroke="#111" stroke-width="0.4"/>
<circle cx="548.5" cy="81.6" r="1.05" fill="#f5a04f" stroke="#111" stroke-width="0.4"/>
<circle cx="560.2" cy="77.2" r="1.05" fill="#f5a04f" stroke="#111" stroke-width="0.4"/>
<circle cx="562.4" cy="78.3" r="1.05" fill="#f5a04f" stroke="#111" stroke-width="0.4"/>
<circle cx="553.5" cy="80.0" r="1.05" fill="#f5a04f" stroke="#111" stroke-width="0.4"/>
<circle cx="563.5" cy="81.0" r="1.05" fill="#f5a04f" stroke="#111" stroke-width="0.4"/>
<circle cx="611.1" cy="50.6" r="1.05" fill="#8fe070" stroke="#111" stroke-width="0.4"/>
<circle cx="609.8" cy="53.5" r="1.05" fill="#8fe070" stroke="#111" stroke-width="0.4"/>
<circle cx="610.5" cy="58.1" r="1.05" fill="#8fe070" stroke="#111" stroke-width="0.4"/>
<circle cx="611.7" cy="60.6" r="1.05" fill="#8fe070" stroke="#111" stroke-width="0.4"/>
<circle cx="626.7" cy="55.6" r="1.05" fill="#8fe070" stroke="#111" stroke-width="0.4"/>
<circle cx="616.1" cy="69.3" r="1.05" fill="#8fe070" stroke="#111" stroke-width="0.4"/>
<circle cx="625.4" cy="67.4" r="1.05" fill="#8fe070" stroke="#111" stroke-width="0.4"/>
<circle cx="628.5" cy="71.2" r="1.05" fill="#8fe070" stroke="#111" stroke-width="0.4"/>
<circle cx="607.4" cy="87.4" r="1.05" fill="#8fe070" stroke="#111" stroke-width="0.4"/>
<circle cx="614.2" cy="86.8" r="1.05" fill="#8fe070" stroke="#111" stroke-width="0.4"/>
<circle cx="616.2" cy="62.5" r="1.05" fill="#8fe070" stroke="#111" stroke-width="0.4"/>
<circle cx="616.3" cy="61.9" r="1.05" fill="#8fe070" stroke="#111" stroke-width="0.4"/>
<circle cx="616.9" cy="64.4" r="1.05" fill="#8fe070" stroke="#111" stroke-width="0.4"/>
<circle cx="616.2" cy="61.0" r="1.05" fill="#8fe070" stroke="#111" stroke-width="0.4"/>
<circle cx="617.2" cy="62.4" r="1.05" fill="#8fe070" stroke="#111" stroke-width="0.4"/>
<circle cx="617.0" cy="60.3" r="1.05" fill="#8fe070" stroke="#111" stroke-width="0.4"/>
<circle cx="614.6" cy="60.9" r="1.05" fill="#8fe070" stroke="#111" stroke-width="0.4"/>
<circle cx="614.7" cy="61.8" r="1.05" fill="#8fe070" stroke="#111" stroke-width="0.4"/>
<circle cx="616.2" cy="62.2" r="1.05" fill="#8fe070" stroke="#111" stroke-width="0.6"/>
<circle cx="616.7" cy="64.2" r="1.05" fill="#8fe070" stroke="#111" stroke-width="0.6"/>
<circle cx="616.5" cy="61.9" r="1.05" fill="#8fe070" stroke="#111" stroke-width="0.6"/>
<circle cx="616.1" cy="63.0" r="1.05" fill="#8fe070" stroke="#111" stroke-width="0.6"/>
<circle cx="615.1" cy="62.1" r="1.05" fill="#8fe070" stroke="#111" stroke-width="0.6"/>
<circle cx="615.9" cy="62.8" r="1.05" fill="#8fe070" stroke="#111" stroke-width="0.6"/>
<circle cx="615.1" cy="64.4" r="1.05" fill="#8fe070" stroke="#111" stroke-width="0.6"/>
<circle cx="615.1" cy="63.4" r="1.05" fill="#8fe070" stroke="#111" stroke-width="0.6"/>
<circle cx="626.2" cy="63.4" r="1.05" fill="#8fe070" stroke="#111" stroke-width="0.4"/>
<circle cx="627.0" cy="63.2" r="1.05" fill="#8fe070" stroke="#111" stroke-width="0.4"/>
<circle cx="626.9" cy="60.2" r="1.05" fill="#8fe070" stroke="#111" stroke-width="0.4"/>
<circle cx="622.0" cy="63.6" r="1.05" fill="#8fe070" stroke="#111" stroke-width="0.4"/>
<circle cx="625.3" cy="63.6" r="1.05" fill="#8fe070" stroke="#111" stroke-width="0.4"/>
<circle cx="626.5" cy="62.3" r="1.05" fill="#8fe070" stroke="#111" stroke-width="0.4"/>
<circle cx="625.7" cy="62.8" r="1.05" fill="#8fe070" stroke="#111" stroke-width="0.4"/>
<circle cx="625.7" cy="61.6" r="1.05" fill="#8fe070" stroke="#111" stroke-width="0.4"/>
<circle cx="627.7" cy="62.7" r="1.05" fill="#8fe070" stroke="#111" stroke-width="0.4"/>
<circle cx="626.8" cy="63.8" r="1.05" fill="#8fe070" stroke="#111" stroke-width="0.4"/>
<circle cx="623.6" cy="60.4" r="1.05" fill="#8fe070" stroke="#111" stroke-width="0.4"/>
<circle cx="622.1" cy="62.5" r="1.05" fill="#8fe070" stroke="#111" stroke-width="0.4"/>
<circle cx="624.7" cy="61.7" r="1.05" fill="#8fe070" stroke="#111" stroke-width="0.6"/>
<circle cx="625.2" cy="62.1" r="1.05" fill="#8fe070" stroke="#111" stroke-width="0.6"/>
<circle cx="625.7" cy="63.6" r="1.05" fill="#8fe070" stroke="#111" stroke-width="0.6"/>
<circle cx="626.4" cy="64.5" r="1.05" fill="#8fe070" stroke="#111" stroke-width="0.6"/>
<circle cx="623.1" cy="62.3" r="1.05" fill="#8fe070" stroke="#111" stroke-width="0.6"/>
<circle cx="625.0" cy="62.1" r="1.05" fill="#8fe070" stroke="#111" stroke-width="0.6"/>
<circle cx="624.6" cy="62.0" r="1.05" fill="#8fe070" stroke="#111" stroke-width="0.6"/>
<circle cx="623.6" cy="61.3" r="1.05" fill="#8fe070" stroke="#111" stroke-width="0.6"/>
<circle cx="623.8" cy="62.4" r="1.05" fill="#8fe070" stroke="#111" stroke-width="0.6"/>
<circle cx="625.3" cy="61.9" r="1.05" fill="#8fe070" stroke="#111" stroke-width="0.6"/>
<circle cx="626.4" cy="61.6" r="1.05" fill="#8fe070" stroke="#111" stroke-width="0.6"/>
<circle cx="624.0" cy="63.1" r="1.05" fill="#8fe070" stroke="#111" stroke-width="0.6"/>
<circle cx="609.8" cy="73.4" r="1.05" fill="#f5a04f" stroke="#111" stroke-width="0.4"/>
<circle cx="613.6" cy="75.5" r="1.05" fill="#f5a04f" stroke="#111" stroke-width="0.4"/>
<circle cx="616.7" cy="74.3" r="1.05" fill="#f5a04f" stroke="#111" stroke-width="0.4"/>
<circle cx="623.0" cy="70.6" r="1.05" fill="#f5a04f" stroke="#111" stroke-width="0.4"/>
<circle cx="626.0" cy="71.2" r="1.05" fill="#f5a04f" stroke="#111" stroke-width="0.4"/>
<circle cx="612.3" cy="79.3" r="1.05" fill="#f5a04f" stroke="#111" stroke-width="0.4"/>
<circle cx="621.0" cy="77.4" r="1.05" fill="#f5a04f" stroke="#111" stroke-width="0.4"/>
<circle cx="636.0" cy="74.3" r="1.05" fill="#f5a04f" stroke="#111" stroke-width="0.4"/>
<circle cx="618.2" cy="84.7" r="1.05" fill="#8fe070" stroke="#111" stroke-width="0.4"/>
<circle cx="619.8" cy="82.0" r="1.05" fill="#8fe070" stroke="#111" stroke-width="0.4"/>
<circle cx="619.8" cy="79.7" r="1.05" fill="#8fe070" stroke="#111" stroke-width="0.4"/>
<circle cx="615.7" cy="86.8" r="1.05" fill="#8fe070" stroke="#111" stroke-width="0.4"/>
<circle cx="619.9" cy="87.0" r="1.05" fill="#8fe070" stroke="#111" stroke-width="0.4"/>
<circle cx="617.4" cy="80.2" r="1.05" fill="#8fe070" stroke="#111" stroke-width="0.4"/>
<circle cx="615.9" cy="81.7" r="1.05" fill="#8fe070" stroke="#111" stroke-width="0.4"/>
<circle cx="623.2" cy="83.5" r="1.05" fill="#8fe070" stroke="#111" stroke-width="0.4"/>
<circle cx="619.6" cy="82.2" r="1.05" fill="#8fe070" stroke="#111" stroke-width="0.4"/>
<circle cx="622.9" cy="81.0" r="1.05" fill="#8fe070" stroke="#111" stroke-width="0.4"/>
<circle cx="623.2" cy="84.3" r="1.05" fill="#8fe070" stroke="#111" stroke-width="0.4"/>
<circle cx="622.1" cy="80.3" r="1.05" fill="#8fe070" stroke="#111" stroke-width="0.4"/>
<circle cx="619.0" cy="82.6" r="1.05" fill="#8fe070" stroke="#111" stroke-width="0.4"/>
<circle cx="617.2" cy="82.4" r="1.05" fill="#8fe070" stroke="#111" stroke-width="0.4"/>
<circle cx="616.1" cy="81.8" r="1.05" fill="#8fe070" stroke="#111" stroke-width="0.4"/>
<circle cx="622.2" cy="79.3" r="1.05" fill="#8fe070" stroke="#111" stroke-width="0.4"/>
<circle cx="624.1" cy="83.8" r="1.05" fill="#8fe070" stroke="#111" stroke-width="0.4"/>
<circle cx="616.5" cy="87.1" r="1.05" fill="#8fe070" stroke="#111" stroke-width="0.4"/>
<circle cx="619.4" cy="83.6" r="1.05" fill="#8fe070" stroke="#111" stroke-width="0.6"/>
<circle cx="619.0" cy="84.6" r="1.05" fill="#8fe070" stroke="#111" stroke-width="0.6"/>
<circle cx="621.5" cy="79.4" r="1.05" fill="#8fe070" stroke="#111" stroke-width="0.6"/>
<circle cx="620.1" cy="81.5" r="1.05" fill="#8fe070" stroke="#111" stroke-width="0.6"/>
<circle cx="617.3" cy="79.0" r="1.05" fill="#8fe070" stroke="#111" stroke-width="0.6"/>
<circle cx="619.0" cy="81.3" r="1.05" fill="#8fe070" stroke="#111" stroke-width="0.6"/>
<circle cx="619.7" cy="82.2" r="1.05" fill="#8fe070" stroke="#111" stroke-width="0.6"/>
<circle cx="620.1" cy="80.3" r="1.05" fill="#8fe070" stroke="#111" stroke-width="0.6"/>
<circle cx="620.7" cy="79.1" r="1.05" fill="#8fe070" stroke="#111" stroke-width="0.6"/>
<circle cx="622.9" cy="83.2" r="1.05" fill="#8fe070" stroke="#111" stroke-width="0.6"/>
<circle cx="618.8" cy="80.4" r="1.05" fill="#8fe070" stroke="#111" stroke-width="0.6"/>
<circle cx="622.0" cy="81.7" r="1.05" fill="#8fe070" stroke="#111" stroke-width="0.6"/>
<circle cx="621.3" cy="80.1" r="1.05" fill="#8fe070" stroke="#111" stroke-width="0.6"/>
<circle cx="621.9" cy="80.6" r="1.05" fill="#8fe070" stroke="#111" stroke-width="0.6"/>
<circle cx="621.0" cy="84.9" r="1.05" fill="#8fe070" stroke="#111" stroke-width="0.6"/>
<circle cx="620.5" cy="83.6" r="1.05" fill="#8fe070" stroke="#111" stroke-width="0.6"/>
<circle cx="632.8" cy="81.7" r="1.05" fill="#6fc0e0" stroke="#111" stroke-width="0.4"/>
<circle cx="626.3" cy="79.4" r="1.05" fill="#6fc0e0" stroke="#111" stroke-width="0.4"/>
<circle cx="635.1" cy="82.7" r="1.05" fill="#6fc0e0" stroke="#111" stroke-width="0.4"/>
<circle cx="633.3" cy="80.5" r="1.05" fill="#6fc0e0" stroke="#111" stroke-width="0.4"/>
<circle cx="632.8" cy="80.5" r="1.05" fill="#6fc0e0" stroke="#111" stroke-width="0.4"/>
<circle cx="627.6" cy="81.0" r="1.05" fill="#6fc0e0" stroke="#111" stroke-width="0.4"/>
<circle cx="631.8" cy="83.3" r="1.05" fill="#6fc0e0" stroke="#111" stroke-width="0.4"/>
<circle cx="627.4" cy="81.6" r="1.05" fill="#6fc0e0" stroke="#111" stroke-width="0.4"/>
<circle cx="626.3" cy="84.4" r="1.05" fill="#6fc0e0" stroke="#111" stroke-width="0.4"/>
<circle cx="627.0" cy="74.5" r="1.05" fill="#6fc0e0" stroke="#111" stroke-width="0.4"/>
<circle cx="628.9" cy="75.9" r="1.05" fill="#6fc0e0" stroke="#111" stroke-width="0.4"/>
<circle cx="632.5" cy="78.7" r="1.05" fill="#6fc0e0" stroke="#111" stroke-width="0.4"/>
<circle cx="633.3" cy="84.1" r="1.05" fill="#6fc0e0" stroke="#111" stroke-width="0.4"/>
<circle cx="634.2" cy="82.2" r="1.05" fill="#6fc0e0" stroke="#111" stroke-width="0.4"/>
<circle cx="626.6" cy="75.8" r="1.05" fill="#6fc0e0" stroke="#111" stroke-width="0.4"/>
<circle cx="627.9" cy="77.8" r="1.05" fill="#6fc0e0" stroke="#111" stroke-width="0.4"/>
<circle cx="631.8" cy="79.7" r="1.05" fill="#6fc0e0" stroke="#111" stroke-width="0.6"/>
<circle cx="629.5" cy="77.2" r="1.05" fill="#6fc0e0" stroke="#111" stroke-width="0.6"/>
<circle cx="633.4" cy="78.4" r="1.05" fill="#6fc0e0" stroke="#111" stroke-width="0.6"/>
<circle cx="629.8" cy="81.4" r="1.05" fill="#6fc0e0" stroke="#111" stroke-width="0.6"/>
<circle cx="632.2" cy="80.5" r="1.05" fill="#6fc0e0" stroke="#111" stroke-width="0.6"/>
<circle cx="632.0" cy="80.3" r="1.05" fill="#6fc0e0" stroke="#111" stroke-width="0.6"/>
<circle cx="628.7" cy="77.7" r="1.05" fill="#6fc0e0" stroke="#111" stroke-width="0.6"/>
<circle cx="631.1" cy="77.6" r="1.05" fill="#6fc0e0" stroke="#111" stroke-width="0.6"/>
<circle cx="633.8" cy="78.1" r="1.05" fill="#6fc0e0" stroke="#111" stroke-width="0.6"/>
<circle cx="629.4" cy="77.5" r="1.05" fill="#6fc0e0" stroke="#111" stroke-width="0.6"/>
<circle cx="632.1" cy="78.2" r="1.05" fill="#6fc0e0" stroke="#111" stroke-width="0.6"/>
<circle cx="629.8" cy="82.5" r="1.05" fill="#6fc0e0" stroke="#111" stroke-width="0.6"/>
<circle cx="632.7" cy="77.9" r="1.05" fill="#6fc0e0" stroke="#111" stroke-width="0.6"/>
<circle cx="628.3" cy="80.7" r="1.05" fill="#6fc0e0" stroke="#111" stroke-width="0.6"/>
<circle cx="630.0" cy="82.9" r="1.05" fill="#6fc0e0" stroke="#111" stroke-width="0.6"/>
<circle cx="632.8" cy="82.7" r="1.05" fill="#6fc0e0" stroke="#111" stroke-width="0.6"/>
<circle cx="637.2" cy="69.6" r="1.05" fill="#6fc0e0" stroke="#111" stroke-width="0.4"/>
<circle cx="635.2" cy="72.8" r="1.05" fill="#6fc0e0" stroke="#111" stroke-width="0.4"/>
<circle cx="635.4" cy="70.8" r="1.05" fill="#6fc0e0" stroke="#111" stroke-width="0.4"/>
<circle cx="635.0" cy="71.0" r="1.05" fill="#6fc0e0" stroke="#111" stroke-width="0.4"/>
<circle cx="634.8" cy="71.5" r="1.05" fill="#6fc0e0" stroke="#111" stroke-width="0.4"/>
<circle cx="637.7" cy="72.7" r="1.05" fill="#6fc0e0" stroke="#111" stroke-width="0.4"/>
<circle cx="634.9" cy="71.9" r="1.05" fill="#6fc0e0" stroke="#111" stroke-width="0.6"/>
<circle cx="636.3" cy="69.8" r="1.05" fill="#6fc0e0" stroke="#111" stroke-width="0.6"/>
<circle cx="636.5" cy="71.4" r="1.05" fill="#6fc0e0" stroke="#111" stroke-width="0.6"/>
<circle cx="636.4" cy="68.8" r="1.05" fill="#6fc0e0" stroke="#111" stroke-width="0.6"/>
<circle cx="635.7" cy="72.4" r="1.05" fill="#6fc0e0" stroke="#111" stroke-width="0.6"/>
<circle cx="634.8" cy="72.7" r="1.05" fill="#6fc0e0" stroke="#111" stroke-width="0.6"/>
<circle cx="610.5" cy="88.6" r="1.05" fill="#6fc0e0" stroke="#111" stroke-width="0.4"/>
<circle cx="539.5" cy="28.0" r="1.05" fill="#cc0a14" stroke="#111" stroke-width="0.4"/>
<circle cx="535.8" cy="45.2" r="1.05" fill="#cc0a14" stroke="#111" stroke-width="0.4"/>
<circle cx="540.0" cy="41.6" r="1.05" fill="#cc0a14" stroke="#111" stroke-width="0.4"/>
<circle cx="541.6" cy="38.3" r="1.05" fill="#cc0a14" stroke="#111" stroke-width="0.4"/>
<circle cx="543.0" cy="35.0" r="1.05" fill="#cc0a14" stroke="#111" stroke-width="0.4"/>
<circle cx="544.1" cy="36.6" r="1.05" fill="#cc0a14" stroke="#111" stroke-width="0.4"/>
<circle cx="546.6" cy="35.8" r="1.05" fill="#cc0a14" stroke="#111" stroke-width="0.4"/>
<circle cx="547.4" cy="36.6" r="1.05" fill="#cc0a14" stroke="#111" stroke-width="0.4"/>
<circle cx="546.9" cy="37.9" r="1.05" fill="#cc0a14" stroke="#111" stroke-width="0.4"/>
<circle cx="549.9" cy="33.3" r="1.05" fill="#cc0a14" stroke="#111" stroke-width="0.4"/>
<circle cx="550.8" cy="34.1" r="1.05" fill="#cc0a14" stroke="#111" stroke-width="0.4"/>
<circle cx="551.3" cy="30.0" r="1.05" fill="#cc0a14" stroke="#111" stroke-width="0.4"/>
<circle cx="552.9" cy="31.3" r="1.05" fill="#cc0a14" stroke="#111" stroke-width="0.4"/>
<circle cx="552.9" cy="37.4" r="1.05" fill="#cc0a14" stroke="#111" stroke-width="0.4"/>
<circle cx="528.6" cy="62.7" r="1.05" fill="#cc0a14" stroke="#111" stroke-width="0.4"/>
<circle cx="532.4" cy="61.1" r="1.05" fill="#cc0a14" stroke="#111" stroke-width="0.4"/>
<circle cx="588.0" cy="51.5" r="1.05" fill="#cc0a14" stroke="#111" stroke-width="0.4"/>
<circle cx="590.0" cy="52.8" r="1.05" fill="#cc0a14" stroke="#111" stroke-width="0.4"/>
<circle cx="548.5" cy="35.0" r="1.05" fill="#cc0a14" stroke="#111" stroke-width="0.4"/>
<circle cx="545.5" cy="37.2" r="1.05" fill="#cc0a14" stroke="#111" stroke-width="0.4"/>
<path d="M538.6,21.8 L540.1,23.3 L538.6,24.8 L537.1,23.3 Z" fill="#6a00c8" stroke="#222" stroke-width="0.4"/>
<circle cx="455.0" cy="101.7" r="1.05" fill="#0000e6" stroke="#111" stroke-width="0.4"/>
<circle cx="457.2" cy="111.9" r="1.05" fill="#0000e6" stroke="#111" stroke-width="0.4"/>
<circle cx="464.8" cy="106.2" r="1.05" fill="#0000e6" stroke="#111" stroke-width="0.4"/>
<circle cx="454.3" cy="108.4" r="1.05" fill="#0000e6" stroke="#111" stroke-width="0.4"/>
<circle cx="465.9" cy="102.1" r="1.05" fill="#0000e6" stroke="#111" stroke-width="0.4"/>
<circle cx="455.5" cy="104.5" r="1.05" fill="#0000e6" stroke="#111" stroke-width="0.4"/>
<circle cx="471.9" cy="110.6" r="1.05" fill="#0000e6" stroke="#111" stroke-width="0.4"/>
<circle cx="457.1" cy="110.0" r="1.05" fill="#0000e6" stroke="#111" stroke-width="0.4"/>
<circle cx="464.8" cy="109.5" r="1.05" fill="#0000e6" stroke="#111" stroke-width="0.4"/>
<circle cx="468.8" cy="100.6" r="1.05" fill="#0000e6" stroke="#111" stroke-width="0.4"/>
<circle cx="465.9" cy="101.8" r="1.05" fill="#0000e6" stroke="#111" stroke-width="0.4"/>
<circle cx="467.0" cy="103.0" r="1.05" fill="#0000e6" stroke="#111" stroke-width="0.4"/>
<circle cx="462.2" cy="106.6" r="1.05" fill="#0000e6" stroke="#111" stroke-width="0.4"/>
<circle cx="458.1" cy="103.6" r="1.05" fill="#0000e6" stroke="#111" stroke-width="0.4"/>
<circle cx="456.0" cy="100.9" r="1.05" fill="#0000e6" stroke="#111" stroke-width="0.4"/>
<circle cx="469.5" cy="105.3" r="1.05" fill="#0000e6" stroke="#111" stroke-width="0.4"/>
<circle cx="461.6" cy="100.2" r="1.05" fill="#0000e6" stroke="#111" stroke-width="0.4"/>
<circle cx="455.7" cy="104.9" r="1.05" fill="#0000e6" stroke="#111" stroke-width="0.4"/>
<circle cx="465.1" cy="98.6" r="1.05" fill="#0000e6" stroke="#111" stroke-width="0.4"/>
<circle cx="468.1" cy="105.3" r="1.05" fill="#0000e6" stroke="#111" stroke-width="0.4"/>
<circle cx="456.1" cy="105.0" r="1.05" fill="#0000e6" stroke="#111" stroke-width="0.4"/>
<circle cx="456.3" cy="106.8" r="1.05" fill="#0000e6" stroke="#111" stroke-width="0.4"/>
<circle cx="468.9" cy="111.0" r="1.05" fill="#0000e6" stroke="#111" stroke-width="0.4"/>
<circle cx="467.9" cy="107.4" r="1.05" fill="#0000e6" stroke="#111" stroke-width="0.4"/>
<circle cx="463.4" cy="103.4" r="1.05" fill="#0000e6" stroke="#111" stroke-width="0.4"/>
<line x1="587.30" y1="37.40" x2="587.30" y2="47.20" stroke="#111" stroke-width="0.7" />
<path d="M585.1,44.7 L587.3,47.2 L589.5,44.7" fill="none" stroke="#111" stroke-width="0.7"/>
<line x1="587.30" y1="87.50" x2="587.30" y2="97.80" stroke="#111" stroke-width="0.7" />
<path d="M585.1,95.3 L587.3,97.8 L589.5,95.3" fill="none" stroke="#111" stroke-width="0.7"/>
<text transform="translate(430.60,67.20) rotate(-90)" font-size="9.2" text-anchor="middle" fill="#222">-log<tspan font-size="5.70" dy="2.30">10</tspan><tspan dy="-2.30">(</tspan><tspan font-style="italic">P</tspan>)</text>
<text x="657.80" y="26.40" font-size="7.2" text-anchor="start" fill="#222" >r<tspan font-size="4" dy="-2.5">2</tspan></text>
<rect x="645.50" y="28.40" width="11.60" height="4.10" fill="#dd0000" stroke="#222" stroke-width="0.6" />
<text x="659.60" y="33.00" font-size="6.9" text-anchor="start" fill="#222" >&gt;0.8</text>
<rect x="645.50" y="36.00" width="11.60" height="4.10" fill="#f7a24f" stroke="#222" stroke-width="0.6" />
<text x="659.60" y="40.60" font-size="6.9" text-anchor="start" fill="#222" >0.6-0.8</text>
<rect x="645.50" y="43.60" width="11.60" height="4.10" fill="#9ff07c" stroke="#222" stroke-width="0.6" />
<text x="659.60" y="48.20" font-size="6.9" text-anchor="start" fill="#222" >0.4-0.6</text>
<rect x="645.50" y="51.20" width="11.60" height="4.10" fill="#85cdea" stroke="#222" stroke-width="0.6" />
<text x="659.60" y="55.80" font-size="6.9" text-anchor="start" fill="#222" >0.2-0.4</text>
<rect x="645.50" y="58.80" width="11.60" height="4.10" fill="#0000dd" stroke="#222" stroke-width="0.6" />
<text x="659.60" y="63.40" font-size="6.9" text-anchor="start" fill="#222" >&lt;0.2</text>
<rect x="449.60" y="122.50" width="233.00" height="32.50" fill="#fff" stroke="#8a8a8a" stroke-width="0.9" />
<line x1="502.40" y1="131.33" x2="540.80" y2="131.33" stroke="#555" stroke-width="0.6" />
<line x1="502.40" y1="130.13" x2="502.40" y2="132.53" stroke="#333" stroke-width="0.6" />
<line x1="540.80" y1="130.13" x2="540.80" y2="132.53" stroke="#333" stroke-width="0.6" />
<line x1="514.00" y1="130.13" x2="514.00" y2="132.53" stroke="#333" stroke-width="0.6" />
<line x1="520.00" y1="130.13" x2="520.00" y2="132.53" stroke="#333" stroke-width="0.6" />
<line x1="539.20" y1="130.13" x2="539.20" y2="132.53" stroke="#333" stroke-width="0.6" />
<text x="522.60" y="129.72" font-size="7.0" text-anchor="middle" fill="#333" >MSRB3</text>
<line x1="458.00" y1="140.96" x2="474.30" y2="140.96" stroke="#555" stroke-width="0.6" />
<line x1="458.00" y1="139.76" x2="458.00" y2="142.16" stroke="#333" stroke-width="0.6" />
<line x1="474.30" y1="139.76" x2="474.30" y2="142.16" stroke="#333" stroke-width="0.6" />
<line x1="459.20" y1="139.76" x2="459.20" y2="142.16" stroke="#333" stroke-width="0.6" />
<line x1="460.30" y1="139.76" x2="460.30" y2="142.16" stroke="#333" stroke-width="0.6" />
<text x="466.30" y="138.55" font-size="7.0" text-anchor="middle" fill="#333" >WIF1</text>
<line x1="484.00" y1="140.96" x2="500.50" y2="140.96" stroke="#555" stroke-width="0.6" />
<line x1="484.00" y1="139.76" x2="484.00" y2="142.16" stroke="#333" stroke-width="0.6" />
<line x1="500.50" y1="139.76" x2="500.50" y2="142.16" stroke="#333" stroke-width="0.6" />
<line x1="489.00" y1="139.76" x2="489.00" y2="142.16" stroke="#333" stroke-width="0.6" />
<line x1="491.00" y1="139.76" x2="491.00" y2="142.16" stroke="#333" stroke-width="0.6" />
<line x1="493.00" y1="139.76" x2="493.00" y2="142.16" stroke="#333" stroke-width="0.6" />
<line x1="495.00" y1="139.76" x2="495.00" y2="142.16" stroke="#333" stroke-width="0.6" />
<line x1="497.00" y1="139.76" x2="497.00" y2="142.16" stroke="#333" stroke-width="0.6" />
<text x="492.40" y="138.55" font-size="7.0" text-anchor="middle" fill="#333" >LEMD3</text>
<line x1="527.60" y1="140.15" x2="527.60" y2="141.76" stroke="#666" stroke-width="0.5" />
<rect x="549.30" y="139.95" width="1.30" height="2.00" fill="#333" stroke="none" stroke-width="1" />
<line x1="456.90" y1="150.29" x2="458.60" y2="150.29" stroke="#555" stroke-width="0.6" />
<line x1="456.90" y1="149.09" x2="456.90" y2="151.49" stroke="#333" stroke-width="0.6" />
<line x1="458.60" y1="149.09" x2="458.60" y2="151.49" stroke="#333" stroke-width="0.6" />
<rect x="480.50" y="149.38" width="1.10" height="1.80" fill="#333" stroke="none" stroke-width="1" />
<line x1="593.00" y1="131.93" x2="595.20" y2="131.93" stroke="#555" stroke-width="0.6" />
<line x1="593.00" y1="130.73" x2="593.00" y2="133.13" stroke="#333" stroke-width="0.6" />
<line x1="595.20" y1="130.73" x2="595.20" y2="133.13" stroke="#333" stroke-width="0.6" />
<text x="669.40" y="130.02" font-size="7.0" text-anchor="middle" fill="#333" >LLPH</text>
<rect x="668.80" y="131.13" width="1.40" height="1.60" fill="#555" stroke="none" stroke-width="1" />
<line x1="607.50" y1="150.29" x2="638.50" y2="150.29" stroke="#555" stroke-width="0.6" />
<line x1="607.50" y1="149.09" x2="607.50" y2="151.49" stroke="#333" stroke-width="0.6" />
<line x1="638.50" y1="149.09" x2="638.50" y2="151.49" stroke="#333" stroke-width="0.6" />
<text x="623.60" y="146.98" font-size="7.0" text-anchor="middle" fill="#333" >HMGA2</text>
<text x="671.50" y="146.98" font-size="7.0" text-anchor="middle" fill="#333" >TBIM4</text>
<line x1="671.40" y1="149.18" x2="671.40" y2="151.39" stroke="#555" stroke-width="0.6" />
<text x="455.20" y="164.10" font-size="9.0" text-anchor="middle" fill="#222" >8.0</text>
<text x="498.46" y="164.10" font-size="9.0" text-anchor="middle" fill="#222" >8.2</text>
<text x="541.72" y="164.10" font-size="9.0" text-anchor="middle" fill="#222" >8.4</text>
<text x="584.98" y="164.10" font-size="9.0" text-anchor="middle" fill="#222" >8.6</text>
<text x="628.24" y="164.10" font-size="9.0" text-anchor="middle" fill="#222" >8.8</text>
<text x="671.50" y="164.10" font-size="9.0" text-anchor="middle" fill="#222" >9.0</text>
<text x="564.00" y="175.80" font-size="9.0" text-anchor="middle" fill="#222" >Chromosome 10 (Mb)</text>
<text x="420.40" y="193.40" font-size="16" text-anchor="start" fill="#1a1a1a" >D</text>
<rect x="449.40" y="200.30" width="234.00" height="99.90" fill="#fff" stroke="#b8b8b8" stroke-width="0.9" />
<line x1="447.40" y1="295.50" x2="449.40" y2="295.50" stroke="#666" stroke-width="0.8" />
<text x="447.90" y="298.70" font-size="9.0" text-anchor="end" fill="#222" >0</text>
<line x1="447.40" y1="280.80" x2="449.40" y2="280.80" stroke="#666" stroke-width="0.8" />
<text x="447.90" y="284.00" font-size="9.0" text-anchor="end" fill="#222" >5</text>
<line x1="447.40" y1="266.10" x2="449.40" y2="266.10" stroke="#666" stroke-width="0.8" />
<text x="447.90" y="269.30" font-size="9.0" text-anchor="end" fill="#222" >10</text>
<line x1="447.40" y1="251.40" x2="449.40" y2="251.40" stroke="#666" stroke-width="0.8" />
<text x="447.90" y="254.60" font-size="9.0" text-anchor="end" fill="#222" >15</text>
<line x1="447.40" y1="236.70" x2="449.40" y2="236.70" stroke="#666" stroke-width="0.8" />
<text x="447.90" y="239.90" font-size="9.0" text-anchor="end" fill="#222" >20</text>
<line x1="447.40" y1="222.00" x2="449.40" y2="222.00" stroke="#666" stroke-width="0.8" />
<text x="447.90" y="225.20" font-size="9.0" text-anchor="end" fill="#222" >25</text>
<line x1="447.40" y1="207.30" x2="449.40" y2="207.30" stroke="#666" stroke-width="0.8" />
<text x="447.90" y="210.50" font-size="9.0" text-anchor="end" fill="#222" >30</text>
<line x1="456.50" y1="300.20" x2="456.50" y2="301.40" stroke="#999" stroke-width="0.7" />
<line x1="499.76" y1="300.20" x2="499.76" y2="301.40" stroke="#999" stroke-width="0.7" />
<line x1="543.02" y1="300.20" x2="543.02" y2="301.40" stroke="#999" stroke-width="0.7" />
<line x1="586.28" y1="300.20" x2="586.28" y2="301.40" stroke="#999" stroke-width="0.7" />
<line x1="629.54" y1="300.20" x2="629.54" y2="301.40" stroke="#999" stroke-width="0.7" />
<line x1="672.80" y1="300.20" x2="672.80" y2="301.40" stroke="#999" stroke-width="0.7" />
<circle cx="455.3" cy="286.2" r="1.05" fill="#0000e6" stroke="#111" stroke-width="0.4"/>
<circle cx="459.4" cy="283.1" r="1.05" fill="#0000e6" stroke="#111" stroke-width="0.4"/>
<circle cx="459.4" cy="293.3" r="1.05" fill="#0000e6" stroke="#111" stroke-width="0.4"/>
<circle cx="457.4" cy="278.5" r="1.05" fill="#0000e6" stroke="#111" stroke-width="0.4"/>
<circle cx="459.5" cy="281.2" r="1.05" fill="#0000e6" stroke="#111" stroke-width="0.4"/>
<circle cx="458.1" cy="294.0" r="1.05" fill="#0000e6" stroke="#111" stroke-width="0.4"/>
<circle cx="455.7" cy="286.7" r="1.05" fill="#0000e6" stroke="#111" stroke-width="0.4"/>
<circle cx="457.7" cy="290.0" r="1.05" fill="#0000e6" stroke="#111" stroke-width="0.4"/>
<circle cx="459.4" cy="294.1" r="1.05" fill="#0000e6" stroke="#111" stroke-width="0.4"/>
<circle cx="456.1" cy="293.4" r="1.05" fill="#0000e6" stroke="#111" stroke-width="0.4"/>
<circle cx="456.1" cy="294.2" r="1.05" fill="#0000e6" stroke="#111" stroke-width="0.4"/>
<circle cx="459.7" cy="282.9" r="1.05" fill="#0000e6" stroke="#111" stroke-width="0.4"/>
<circle cx="457.5" cy="294.6" r="1.05" fill="#0000e6" stroke="#111" stroke-width="0.4"/>
<circle cx="459.5" cy="294.4" r="1.05" fill="#0000e6" stroke="#111" stroke-width="0.4"/>
<circle cx="459.2" cy="274.4" r="1.05" fill="#0000e6" stroke="#111" stroke-width="0.4"/>
<circle cx="457.8" cy="276.5" r="1.05" fill="#0000e6" stroke="#111" stroke-width="0.4"/>
<circle cx="459.6" cy="280.4" r="1.05" fill="#0000e6" stroke="#111" stroke-width="0.4"/>
<circle cx="459.7" cy="286.0" r="1.05" fill="#0000e6" stroke="#111" stroke-width="0.4"/>
<circle cx="457.5" cy="294.7" r="1.05" fill="#0000e6" stroke="#111" stroke-width="0.4"/>
<circle cx="459.0" cy="284.4" r="1.05" fill="#0000e6" stroke="#111" stroke-width="0.4"/>
<circle cx="456.1" cy="276.7" r="1.05" fill="#0000e6" stroke="#111" stroke-width="0.4"/>
<circle cx="456.0" cy="284.2" r="1.05" fill="#0000e6" stroke="#111" stroke-width="0.4"/>
<circle cx="461.9" cy="279.6" r="1.05" fill="#0000e6" stroke="#111" stroke-width="0.4"/>
<circle cx="468.0" cy="286.1" r="1.05" fill="#0000e6" stroke="#111" stroke-width="0.4"/>
<circle cx="465.9" cy="285.7" r="1.05" fill="#0000e6" stroke="#111" stroke-width="0.4"/>
<circle cx="460.9" cy="286.8" r="1.05" fill="#0000e6" stroke="#111" stroke-width="0.4"/>
<circle cx="470.0" cy="286.4" r="1.05" fill="#0000e6" stroke="#111" stroke-width="0.4"/>
<circle cx="465.2" cy="278.5" r="1.05" fill="#0000e6" stroke="#111" stroke-width="0.4"/>
<circle cx="467.1" cy="279.6" r="1.05" fill="#0000e6" stroke="#111" stroke-width="0.4"/>
<circle cx="460.5" cy="281.1" r="1.05" fill="#0000e6" stroke="#111" stroke-width="0.4"/>
<circle cx="461.8" cy="280.4" r="1.05" fill="#0000e6" stroke="#111" stroke-width="0.4"/>
<circle cx="461.7" cy="285.7" r="1.05" fill="#0000e6" stroke="#111" stroke-width="0.4"/>
<circle cx="470.7" cy="280.8" r="1.05" fill="#0000e6" stroke="#111" stroke-width="0.4"/>
<circle cx="467.8" cy="277.7" r="1.05" fill="#0000e6" stroke="#111" stroke-width="0.4"/>
<circle cx="466.9" cy="285.0" r="1.05" fill="#0000e6" stroke="#111" stroke-width="0.4"/>
<circle cx="459.5" cy="278.9" r="1.05" fill="#0000e6" stroke="#111" stroke-width="0.4"/>
<circle cx="462.6" cy="281.9" r="1.05" fill="#0000e6" stroke="#111" stroke-width="0.4"/>
<circle cx="465.0" cy="287.2" r="1.05" fill="#0000e6" stroke="#111" stroke-width="0.4"/>
<circle cx="467.6" cy="280.9" r="1.05" fill="#0000e6" stroke="#111" stroke-width="0.4"/>
<circle cx="460.2" cy="287.4" r="1.05" fill="#0000e6" stroke="#111" stroke-width="0.4"/>
<circle cx="462.4" cy="284.2" r="1.05" fill="#0000e6" stroke="#111" stroke-width="0.4"/>
<circle cx="461.5" cy="279.0" r="1.05" fill="#0000e6" stroke="#111" stroke-width="0.4"/>
<circle cx="460.6" cy="285.6" r="1.05" fill="#0000e6" stroke="#111" stroke-width="0.4"/>
<circle cx="466.3" cy="282.0" r="1.05" fill="#0000e6" stroke="#111" stroke-width="0.4"/>
<circle cx="465.6" cy="282.6" r="1.05" fill="#0000e6" stroke="#111" stroke-width="0.4"/>
<circle cx="465.5" cy="284.7" r="1.05" fill="#0000e6" stroke="#111" stroke-width="0.4"/>
<circle cx="461.5" cy="280.2" r="1.05" fill="#0000e6" stroke="#111" stroke-width="0.4"/>
<circle cx="468.2" cy="286.9" r="1.05" fill="#0000e6" stroke="#111" stroke-width="0.4"/>
<circle cx="459.7" cy="282.4" r="1.05" fill="#0000e6" stroke="#111" stroke-width="0.4"/>
<circle cx="467.6" cy="278.4" r="1.05" fill="#0000e6" stroke="#111" stroke-width="0.4"/>
<circle cx="465.8" cy="278.3" r="1.05" fill="#0000e6" stroke="#111" stroke-width="0.4"/>
<circle cx="465.6" cy="283.0" r="1.05" fill="#0000e6" stroke="#111" stroke-width="0.4"/>
<circle cx="465.9" cy="279.2" r="1.05" fill="#0000e6" stroke="#111" stroke-width="0.4"/>
<circle cx="462.8" cy="283.2" r="1.05" fill="#0000e6" stroke="#111" stroke-width="0.4"/>
<circle cx="460.2" cy="279.8" r="1.05" fill="#0000e6" stroke="#111" stroke-width="0.4"/>
<circle cx="466.0" cy="278.6" r="1.05" fill="#0000e6" stroke="#111" stroke-width="0.4"/>
<circle cx="465.1" cy="286.3" r="1.05" fill="#0000e6" stroke="#111" stroke-width="0.4"/>
<circle cx="464.4" cy="283.1" r="1.05" fill="#0000e6" stroke="#111" stroke-width="0.4"/>
<circle cx="464.5" cy="278.2" r="1.05" fill="#0000e6" stroke="#111" stroke-width="0.4"/>
<circle cx="464.5" cy="286.2" r="1.05" fill="#0000e6" stroke="#111" stroke-width="0.4"/>
<circle cx="467.8" cy="281.8" r="1.05" fill="#0000e6" stroke="#111" stroke-width="0.4"/>
<circle cx="469.0" cy="285.6" r="1.05" fill="#0000e6" stroke="#111" stroke-width="0.4"/>
<circle cx="463.4" cy="279.4" r="1.05" fill="#000028" stroke="#111" stroke-width="0.4"/>
<circle cx="460.8" cy="279.5" r="1.05" fill="#000028" stroke="#111" stroke-width="0.4"/>
<circle cx="467.9" cy="286.5" r="1.05" fill="#000028" stroke="#111" stroke-width="0.4"/>
<circle cx="457.8" cy="286.5" r="1.05" fill="#000028" stroke="#111" stroke-width="0.4"/>
<circle cx="457.3" cy="282.3" r="1.05" fill="#000028" stroke="#111" stroke-width="0.4"/>
<circle cx="465.5" cy="285.1" r="1.05" fill="#000028" stroke="#111" stroke-width="0.4"/>
<circle cx="467.8" cy="284.2" r="1.05" fill="#000028" stroke="#111" stroke-width="0.4"/>
<circle cx="461.6" cy="286.9" r="1.05" fill="#000028" stroke="#111" stroke-width="0.4"/>
<circle cx="461.2" cy="286.0" r="1.05" fill="#000028" stroke="#111" stroke-width="0.4"/>
<circle cx="467.0" cy="282.0" r="1.05" fill="#000028" stroke="#111" stroke-width="0.4"/>
<circle cx="464.5" cy="284.3" r="1.05" fill="#000028" stroke="#111" stroke-width="0.4"/>
<circle cx="462.9" cy="284.2" r="1.05" fill="#000028" stroke="#111" stroke-width="0.4"/>
<circle cx="460.8" cy="280.4" r="1.05" fill="#000028" stroke="#111" stroke-width="0.4"/>
<circle cx="462.9" cy="283.2" r="1.05" fill="#000028" stroke="#111" stroke-width="0.4"/>
<circle cx="477.9" cy="289.2" r="1.05" fill="#0000e6" stroke="#111" stroke-width="0.4"/>
<circle cx="463.1" cy="285.4" r="1.05" fill="#0000e6" stroke="#111" stroke-width="0.4"/>
<circle cx="475.3" cy="291.0" r="1.05" fill="#0000e6" stroke="#111" stroke-width="0.4"/>
<circle cx="468.1" cy="285.8" r="1.05" fill="#0000e6" stroke="#111" stroke-width="0.4"/>
<circle cx="484.6" cy="291.7" r="1.05" fill="#0000e6" stroke="#111" stroke-width="0.4"/>
<circle cx="480.5" cy="293.3" r="1.05" fill="#0000e6" stroke="#111" stroke-width="0.4"/>
<circle cx="480.3" cy="291.6" r="1.05" fill="#0000e6" stroke="#111" stroke-width="0.4"/>
<circle cx="463.6" cy="285.8" r="1.05" fill="#0000e6" stroke="#111" stroke-width="0.4"/>
<circle cx="476.6" cy="292.2" r="1.05" fill="#0000e6" stroke="#111" stroke-width="0.4"/>
<circle cx="470.9" cy="287.0" r="1.05" fill="#0000e6" stroke="#111" stroke-width="0.4"/>
<circle cx="480.0" cy="292.7" r="1.05" fill="#0000e6" stroke="#111" stroke-width="0.4"/>
<circle cx="471.1" cy="288.2" r="1.05" fill="#0000e6" stroke="#111" stroke-width="0.4"/>
<circle cx="470.8" cy="288.2" r="1.05" fill="#0000e6" stroke="#111" stroke-width="0.4"/>
<circle cx="469.5" cy="285.9" r="1.05" fill="#0000e6" stroke="#111" stroke-width="0.4"/>
<circle cx="476.4" cy="289.9" r="1.05" fill="#0000e6" stroke="#111" stroke-width="0.4"/>
<circle cx="466.8" cy="286.7" r="1.05" fill="#0000e6" stroke="#111" stroke-width="0.4"/>
<circle cx="483.6" cy="292.8" r="1.05" fill="#0000e6" stroke="#111" stroke-width="0.4"/>
<circle cx="476.2" cy="291.1" r="1.05" fill="#0000e6" stroke="#111" stroke-width="0.4"/>
<circle cx="479.1" cy="290.0" r="1.05" fill="#0000e6" stroke="#111" stroke-width="0.4"/>
<circle cx="470.9" cy="287.9" r="1.05" fill="#0000e6" stroke="#111" stroke-width="0.4"/>
<circle cx="479.5" cy="293.2" r="1.05" fill="#0000e6" stroke="#111" stroke-width="0.4"/>
<circle cx="470.8" cy="288.6" r="1.05" fill="#0000e6" stroke="#111" stroke-width="0.4"/>
<circle cx="483.3" cy="295.2" r="1.05" fill="#0000e6" stroke="#111" stroke-width="0.4"/>
<circle cx="473.8" cy="288.6" r="1.05" fill="#0000e6" stroke="#111" stroke-width="0.4"/>
<circle cx="468.5" cy="288.2" r="1.05" fill="#0000e6" stroke="#111" stroke-width="0.4"/>
<circle cx="479.8" cy="293.5" r="1.05" fill="#0000e6" stroke="#111" stroke-width="0.4"/>
<circle cx="466.6" cy="287.0" r="1.05" fill="#0000e6" stroke="#111" stroke-width="0.4"/>
<circle cx="478.0" cy="288.8" r="1.05" fill="#0000e6" stroke="#111" stroke-width="0.4"/>
<circle cx="480.8" cy="292.0" r="1.05" fill="#0000e6" stroke="#111" stroke-width="0.4"/>
<circle cx="475.4" cy="288.3" r="1.05" fill="#0000e6" stroke="#111" stroke-width="0.4"/>
<circle cx="481.8" cy="295.5" r="1.05" fill="#0000e6" stroke="#111" stroke-width="0.4"/>
<circle cx="482.4" cy="295.8" r="1.05" fill="#0000e6" stroke="#111" stroke-width="0.4"/>
<circle cx="472.6" cy="289.5" r="1.05" fill="#0000e6" stroke="#111" stroke-width="0.4"/>
<circle cx="469.7" cy="286.6" r="1.05" fill="#0000e6" stroke="#111" stroke-width="0.4"/>
<circle cx="479.6" cy="292.0" r="1.05" fill="#0000e6" stroke="#111" stroke-width="0.4"/>
<circle cx="470.1" cy="287.9" r="1.05" fill="#0000e6" stroke="#111" stroke-width="0.4"/>
<circle cx="472.4" cy="291.3" r="1.05" fill="#0000e6" stroke="#111" stroke-width="0.4"/>
<circle cx="475.0" cy="290.7" r="1.05" fill="#0000e6" stroke="#111" stroke-width="0.4"/>
<circle cx="471.1" cy="288.2" r="1.05" fill="#0000e6" stroke="#111" stroke-width="0.4"/>
<circle cx="466.7" cy="285.5" r="1.05" fill="#0000e6" stroke="#111" stroke-width="0.4"/>
<circle cx="483.7" cy="294.3" r="1.05" fill="#000028" stroke="#111" stroke-width="0.4"/>
<circle cx="466.4" cy="287.9" r="1.05" fill="#000028" stroke="#111" stroke-width="0.4"/>
<circle cx="481.3" cy="294.0" r="1.05" fill="#000028" stroke="#111" stroke-width="0.4"/>
<circle cx="477.6" cy="293.3" r="1.05" fill="#000028" stroke="#111" stroke-width="0.4"/>
<circle cx="484.5" cy="294.7" r="1.05" fill="#000028" stroke="#111" stroke-width="0.4"/>
<circle cx="467.8" cy="287.6" r="1.05" fill="#000028" stroke="#111" stroke-width="0.4"/>
<circle cx="478.9" cy="293.8" r="1.05" fill="#000028" stroke="#111" stroke-width="0.4"/>
<circle cx="475.4" cy="290.3" r="1.05" fill="#000028" stroke="#111" stroke-width="0.4"/>
<circle cx="465.1" cy="288.3" r="1.05" fill="#000028" stroke="#111" stroke-width="0.4"/>
<circle cx="478.4" cy="292.1" r="1.05" fill="#000028" stroke="#111" stroke-width="0.4"/>
<circle cx="480.9" cy="294.2" r="1.05" fill="#000028" stroke="#111" stroke-width="0.4"/>
<circle cx="463.7" cy="286.8" r="1.05" fill="#000028" stroke="#111" stroke-width="0.4"/>
<circle cx="477.1" cy="292.2" r="1.05" fill="#000028" stroke="#111" stroke-width="0.4"/>
<circle cx="473.8" cy="289.7" r="1.05" fill="#000028" stroke="#111" stroke-width="0.4"/>
<circle cx="479.7" cy="294.8" r="1.05" fill="#000028" stroke="#111" stroke-width="0.4"/>
<circle cx="471.0" cy="293.4" r="1.05" fill="#000028" stroke="#111" stroke-width="0.4"/>
<circle cx="491.9" cy="295.5" r="1.05" fill="#000028" stroke="#111" stroke-width="0.4"/>
<circle cx="494.3" cy="293.7" r="1.05" fill="#000028" stroke="#111" stroke-width="0.4"/>
<circle cx="463.9" cy="294.8" r="1.05" fill="#000028" stroke="#111" stroke-width="0.4"/>
<circle cx="490.9" cy="294.4" r="1.05" fill="#000028" stroke="#111" stroke-width="0.4"/>
<circle cx="473.5" cy="294.9" r="1.05" fill="#000028" stroke="#111" stroke-width="0.4"/>
<circle cx="497.9" cy="295.2" r="1.05" fill="#000028" stroke="#111" stroke-width="0.4"/>
<circle cx="493.3" cy="295.6" r="1.05" fill="#000028" stroke="#111" stroke-width="0.4"/>
<circle cx="488.3" cy="294.4" r="1.05" fill="#000028" stroke="#111" stroke-width="0.4"/>
<circle cx="479.8" cy="293.4" r="1.05" fill="#000028" stroke="#111" stroke-width="0.4"/>
<circle cx="465.6" cy="294.5" r="1.05" fill="#000028" stroke="#111" stroke-width="0.4"/>
<circle cx="490.5" cy="295.6" r="1.05" fill="#000028" stroke="#111" stroke-width="0.4"/>
<circle cx="462.6" cy="293.5" r="1.05" fill="#000028" stroke="#111" stroke-width="0.4"/>
<circle cx="468.2" cy="295.7" r="1.05" fill="#000028" stroke="#111" stroke-width="0.4"/>
<circle cx="476.7" cy="293.6" r="1.05" fill="#000028" stroke="#111" stroke-width="0.4"/>
<circle cx="497.0" cy="294.9" r="1.05" fill="#000028" stroke="#111" stroke-width="0.4"/>
<circle cx="461.1" cy="294.2" r="1.05" fill="#000028" stroke="#111" stroke-width="0.4"/>
<circle cx="497.7" cy="295.4" r="1.05" fill="#000028" stroke="#111" stroke-width="0.4"/>
<circle cx="487.2" cy="293.6" r="1.05" fill="#000028" stroke="#111" stroke-width="0.4"/>
<circle cx="464.6" cy="295.6" r="1.05" fill="#000028" stroke="#111" stroke-width="0.4"/>
<circle cx="475.4" cy="294.3" r="1.05" fill="#000028" stroke="#111" stroke-width="0.4"/>
<circle cx="488.2" cy="296.0" r="1.05" fill="#000028" stroke="#111" stroke-width="0.4"/>
<circle cx="487.9" cy="295.9" r="1.05" fill="#000028" stroke="#111" stroke-width="0.4"/>
<circle cx="460.7" cy="295.6" r="1.05" fill="#000028" stroke="#111" stroke-width="0.4"/>
<circle cx="473.1" cy="295.9" r="1.05" fill="#000028" stroke="#111" stroke-width="0.4"/>
<circle cx="475.4" cy="293.5" r="1.05" fill="#000028" stroke="#111" stroke-width="0.4"/>
<circle cx="471.0" cy="294.7" r="1.05" fill="#000028" stroke="#111" stroke-width="0.4"/>
<circle cx="474.2" cy="294.5" r="1.05" fill="#000028" stroke="#111" stroke-width="0.4"/>
<circle cx="486.5" cy="293.6" r="1.05" fill="#000028" stroke="#111" stroke-width="0.4"/>
<circle cx="484.4" cy="295.3" r="1.05" fill="#000028" stroke="#111" stroke-width="0.4"/>
<circle cx="461.1" cy="295.3" r="1.05" fill="#000028" stroke="#111" stroke-width="0.4"/>
<circle cx="484.9" cy="294.2" r="1.05" fill="#000028" stroke="#111" stroke-width="0.4"/>
<circle cx="461.7" cy="294.2" r="1.05" fill="#000028" stroke="#111" stroke-width="0.4"/>
<circle cx="472.6" cy="293.7" r="1.05" fill="#000028" stroke="#111" stroke-width="0.4"/>
<circle cx="466.1" cy="294.8" r="1.05" fill="#000028" stroke="#111" stroke-width="0.4"/>
<circle cx="473.9" cy="294.3" r="1.05" fill="#000028" stroke="#111" stroke-width="0.4"/>
<circle cx="462.7" cy="294.2" r="1.05" fill="#000028" stroke="#111" stroke-width="0.4"/>
<circle cx="473.7" cy="294.4" r="1.05" fill="#000028" stroke="#111" stroke-width="0.4"/>
<circle cx="463.2" cy="295.8" r="1.05" fill="#000028" stroke="#111" stroke-width="0.4"/>
<circle cx="498.3" cy="293.8" r="1.05" fill="#000028" stroke="#111" stroke-width="0.4"/>
<circle cx="473.1" cy="294.2" r="1.05" fill="#000028" stroke="#111" stroke-width="0.4"/>
<circle cx="477.4" cy="294.5" r="1.05" fill="#000028" stroke="#111" stroke-width="0.4"/>
<circle cx="475.6" cy="293.6" r="1.05" fill="#000028" stroke="#111" stroke-width="0.4"/>
<circle cx="468.2" cy="295.0" r="1.05" fill="#000028" stroke="#111" stroke-width="0.4"/>
<circle cx="463.9" cy="291.2" r="1.05" fill="#0000e6" stroke="#111" stroke-width="0.4"/>
<circle cx="456.6" cy="291.8" r="1.05" fill="#0000e6" stroke="#111" stroke-width="0.4"/>
<circle cx="469.2" cy="292.0" r="1.05" fill="#0000e6" stroke="#111" stroke-width="0.4"/>
<circle cx="464.3" cy="294.8" r="1.05" fill="#0000e6" stroke="#111" stroke-width="0.4"/>
<circle cx="459.9" cy="292.0" r="1.05" fill="#0000e6" stroke="#111" stroke-width="0.4"/>
<circle cx="467.2" cy="295.2" r="1.05" fill="#0000e6" stroke="#111" stroke-width="0.4"/>
<circle cx="469.6" cy="290.8" r="1.05" fill="#0000e6" stroke="#111" stroke-width="0.4"/>
<circle cx="459.8" cy="295.7" r="1.05" fill="#0000e6" stroke="#111" stroke-width="0.4"/>
<circle cx="458.0" cy="291.9" r="1.05" fill="#0000e6" stroke="#111" stroke-width="0.4"/>
<circle cx="469.5" cy="295.8" r="1.05" fill="#0000e6" stroke="#111" stroke-width="0.4"/>
<circle cx="459.4" cy="294.2" r="1.05" fill="#0000e6" stroke="#111" stroke-width="0.4"/>
<circle cx="462.4" cy="293.5" r="1.05" fill="#0000e6" stroke="#111" stroke-width="0.4"/>
<circle cx="458.6" cy="292.3" r="1.05" fill="#0000e6" stroke="#111" stroke-width="0.4"/>
<circle cx="467.2" cy="292.4" r="1.05" fill="#0000e6" stroke="#111" stroke-width="0.4"/>
<circle cx="456.7" cy="293.4" r="1.05" fill="#0000e6" stroke="#111" stroke-width="0.4"/>
<circle cx="463.9" cy="293.3" r="1.05" fill="#0000e6" stroke="#111" stroke-width="0.4"/>
<circle cx="485.8" cy="280.0" r="1.05" fill="#0000e6" stroke="#111" stroke-width="0.4"/>
<circle cx="488.7" cy="281.0" r="1.05" fill="#0000e6" stroke="#111" stroke-width="0.4"/>
<circle cx="478.6" cy="284.9" r="1.05" fill="#0000e6" stroke="#111" stroke-width="0.4"/>
<circle cx="485.8" cy="287.8" r="1.05" fill="#0000e6" stroke="#111" stroke-width="0.4"/>
<circle cx="488.0" cy="288.2" r="1.05" fill="#0000e6" stroke="#111" stroke-width="0.4"/>
<circle cx="491.6" cy="288.7" r="1.05" fill="#0000e6" stroke="#111" stroke-width="0.4"/>
<circle cx="490.5" cy="284.0" r="1.05" fill="#0000e6" stroke="#111" stroke-width="0.4"/>
<circle cx="489.8" cy="283.4" r="1.05" fill="#0000e6" stroke="#111" stroke-width="0.4"/>
<circle cx="489.1" cy="283.9" r="1.05" fill="#0000e6" stroke="#111" stroke-width="0.4"/>
<circle cx="490.7" cy="283.5" r="1.05" fill="#0000e6" stroke="#111" stroke-width="0.4"/>
<circle cx="497.0" cy="283.7" r="1.05" fill="#000028" stroke="#111" stroke-width="0.4"/>
<circle cx="498.1" cy="283.0" r="1.05" fill="#000028" stroke="#111" stroke-width="0.4"/>
<circle cx="498.9" cy="283.4" r="1.05" fill="#000028" stroke="#111" stroke-width="0.4"/>
<circle cx="497.3" cy="283.7" r="1.05" fill="#000028" stroke="#111" stroke-width="0.4"/>
<circle cx="497.3" cy="283.3" r="1.05" fill="#000028" stroke="#111" stroke-width="0.4"/>
<circle cx="498.6" cy="288.0" r="1.05" fill="#0000e6" stroke="#111" stroke-width="0.4"/>
<circle cx="495.2" cy="288.0" r="1.05" fill="#0000e6" stroke="#111" stroke-width="0.4"/>
<circle cx="496.3" cy="287.3" r="1.05" fill="#0000e6" stroke="#111" stroke-width="0.4"/>
<circle cx="499.1" cy="287.7" r="1.05" fill="#0000e6" stroke="#111" stroke-width="0.4"/>
<circle cx="498.4" cy="287.7" r="1.05" fill="#0000e6" stroke="#111" stroke-width="0.4"/>
<circle cx="470.3" cy="272.8" r="1.05" fill="#8fe070" stroke="#111" stroke-width="0.4"/>
<circle cx="472.2" cy="274.5" r="1.05" fill="#8fe070" stroke="#111" stroke-width="0.4"/>
<circle cx="474.2" cy="275.7" r="1.05" fill="#8fe070" stroke="#111" stroke-width="0.4"/>
<circle cx="464.0" cy="275.7" r="1.05" fill="#8fe070" stroke="#111" stroke-width="0.4"/>
<circle cx="470.5" cy="278.6" r="1.05" fill="#8fe070" stroke="#111" stroke-width="0.4"/>
<circle cx="496.0" cy="284.9" r="1.05" fill="#8fe070" stroke="#111" stroke-width="0.4"/>
<circle cx="473.2" cy="268.4" r="1.05" fill="#6fc0e0" stroke="#111" stroke-width="0.4"/>
<circle cx="482.4" cy="274.7" r="1.05" fill="#6fc0e0" stroke="#111" stroke-width="0.4"/>
<circle cx="476.1" cy="282.4" r="1.05" fill="#6fc0e0" stroke="#111" stroke-width="0.4"/>
<circle cx="473.7" cy="284.9" r="1.05" fill="#6fc0e0" stroke="#111" stroke-width="0.4"/>
<circle cx="470.3" cy="293.1" r="1.05" fill="#6fc0e0" stroke="#111" stroke-width="0.4"/>
<circle cx="524.2" cy="277.2" r="1.05" fill="#000028" stroke="#111" stroke-width="0.4"/>
<circle cx="530.5" cy="278.7" r="1.05" fill="#000028" stroke="#111" stroke-width="0.4"/>
<circle cx="531.4" cy="279.0" r="1.05" fill="#000028" stroke="#111" stroke-width="0.4"/>
<circle cx="529.7" cy="278.0" r="1.05" fill="#000028" stroke="#111" stroke-width="0.4"/>
<circle cx="533.8" cy="279.1" r="1.05" fill="#000028" stroke="#111" stroke-width="0.4"/>
<circle cx="530.4" cy="277.7" r="1.05" fill="#000028" stroke="#111" stroke-width="0.4"/>
<circle cx="524.4" cy="276.3" r="1.05" fill="#000028" stroke="#111" stroke-width="0.4"/>
<circle cx="529.3" cy="281.3" r="1.05" fill="#000028" stroke="#111" stroke-width="0.4"/>
<circle cx="525.6" cy="281.2" r="1.05" fill="#000028" stroke="#111" stroke-width="0.4"/>
<circle cx="525.9" cy="277.5" r="1.05" fill="#000028" stroke="#111" stroke-width="0.4"/>
<circle cx="529.8" cy="276.9" r="1.05" fill="#000028" stroke="#111" stroke-width="0.4"/>
<circle cx="530.2" cy="278.5" r="1.05" fill="#000028" stroke="#111" stroke-width="0.4"/>
<circle cx="529.6" cy="279.7" r="1.05" fill="#000028" stroke="#111" stroke-width="0.4"/>
<circle cx="528.1" cy="277.4" r="1.05" fill="#000028" stroke="#111" stroke-width="0.4"/>
<circle cx="534.3" cy="276.4" r="1.05" fill="#000028" stroke="#111" stroke-width="0.4"/>
<circle cx="534.8" cy="279.5" r="1.05" fill="#000028" stroke="#111" stroke-width="0.4"/>
<circle cx="532.6" cy="276.7" r="1.05" fill="#000028" stroke="#111" stroke-width="0.4"/>
<circle cx="536.5" cy="277.1" r="1.05" fill="#000028" stroke="#111" stroke-width="0.4"/>
<circle cx="526.3" cy="276.6" r="1.05" fill="#000028" stroke="#111" stroke-width="0.4"/>
<circle cx="531.2" cy="281.3" r="1.05" fill="#000028" stroke="#111" stroke-width="0.4"/>
<circle cx="527.0" cy="278.0" r="1.05" fill="#000028" stroke="#111" stroke-width="0.4"/>
<circle cx="526.4" cy="279.4" r="1.05" fill="#000028" stroke="#111" stroke-width="0.4"/>
<circle cx="529.5" cy="275.9" r="1.05" fill="#000028" stroke="#111" stroke-width="0.4"/>
<circle cx="531.8" cy="276.8" r="1.05" fill="#000028" stroke="#111" stroke-width="0.4"/>
<circle cx="531.6" cy="278.0" r="1.05" fill="#000028" stroke="#111" stroke-width="0.4"/>
<circle cx="533.0" cy="276.9" r="1.05" fill="#000028" stroke="#111" stroke-width="0.4"/>
<circle cx="533.6" cy="280.4" r="1.05" fill="#0000e6" stroke="#111" stroke-width="0.4"/>
<circle cx="524.9" cy="276.3" r="1.05" fill="#0000e6" stroke="#111" stroke-width="0.4"/>
<circle cx="535.1" cy="276.8" r="1.05" fill="#0000e6" stroke="#111" stroke-width="0.4"/>
<circle cx="528.2" cy="278.4" r="1.05" fill="#0000e6" stroke="#111" stroke-width="0.4"/>
<circle cx="527.4" cy="280.7" r="1.05" fill="#0000e6" stroke="#111" stroke-width="0.4"/>
<circle cx="530.7" cy="279.4" r="1.05" fill="#0000e6" stroke="#111" stroke-width="0.4"/>
<circle cx="531.6" cy="279.2" r="1.05" fill="#0000e6" stroke="#111" stroke-width="0.4"/>
<circle cx="531.5" cy="277.7" r="1.05" fill="#0000e6" stroke="#111" stroke-width="0.4"/>
<circle cx="522.5" cy="286.0" r="1.05" fill="#0000e6" stroke="#111" stroke-width="0.4"/>
<circle cx="518.0" cy="286.2" r="1.05" fill="#0000e6" stroke="#111" stroke-width="0.4"/>
<circle cx="504.6" cy="289.3" r="1.05" fill="#0000e6" stroke="#111" stroke-width="0.4"/>
<circle cx="509.3" cy="290.2" r="1.05" fill="#0000e6" stroke="#111" stroke-width="0.4"/>
<circle cx="514.7" cy="285.6" r="1.05" fill="#0000e6" stroke="#111" stroke-width="0.4"/>
<circle cx="510.9" cy="289.2" r="1.05" fill="#0000e6" stroke="#111" stroke-width="0.4"/>
<circle cx="519.5" cy="288.3" r="1.05" fill="#0000e6" stroke="#111" stroke-width="0.4"/>
<circle cx="515.9" cy="285.2" r="1.05" fill="#0000e6" stroke="#111" stroke-width="0.4"/>
<circle cx="510.8" cy="286.9" r="1.05" fill="#0000e6" stroke="#111" stroke-width="0.4"/>
<circle cx="509.5" cy="287.0" r="1.05" fill="#0000e6" stroke="#111" stroke-width="0.4"/>
<circle cx="523.6" cy="284.7" r="1.05" fill="#0000e6" stroke="#111" stroke-width="0.4"/>
<circle cx="515.7" cy="287.1" r="1.05" fill="#0000e6" stroke="#111" stroke-width="0.4"/>
<circle cx="521.7" cy="282.4" r="1.05" fill="#0000e6" stroke="#111" stroke-width="0.4"/>
<circle cx="506.6" cy="290.7" r="1.05" fill="#0000e6" stroke="#111" stroke-width="0.4"/>
<circle cx="510.5" cy="287.9" r="1.05" fill="#0000e6" stroke="#111" stroke-width="0.4"/>
<circle cx="515.2" cy="289.2" r="1.05" fill="#0000e6" stroke="#111" stroke-width="0.4"/>
<circle cx="513.9" cy="285.1" r="1.05" fill="#0000e6" stroke="#111" stroke-width="0.4"/>
<circle cx="522.1" cy="284.4" r="1.05" fill="#0000e6" stroke="#111" stroke-width="0.4"/>
<circle cx="519.1" cy="285.7" r="1.05" fill="#0000e6" stroke="#111" stroke-width="0.4"/>
<circle cx="518.2" cy="285.1" r="1.05" fill="#0000e6" stroke="#111" stroke-width="0.4"/>
<circle cx="522.8" cy="283.5" r="1.05" fill="#0000e6" stroke="#111" stroke-width="0.4"/>
<circle cx="524.7" cy="282.2" r="1.05" fill="#0000e6" stroke="#111" stroke-width="0.4"/>
<circle cx="521.0" cy="287.1" r="1.05" fill="#0000e6" stroke="#111" stroke-width="0.4"/>
<circle cx="519.1" cy="286.6" r="1.05" fill="#0000e6" stroke="#111" stroke-width="0.4"/>
<circle cx="515.9" cy="287.8" r="1.05" fill="#0000e6" stroke="#111" stroke-width="0.4"/>
<circle cx="515.9" cy="284.5" r="1.05" fill="#0000e6" stroke="#111" stroke-width="0.4"/>
<circle cx="507.4" cy="287.9" r="1.05" fill="#0000e6" stroke="#111" stroke-width="0.4"/>
<circle cx="510.7" cy="289.0" r="1.05" fill="#0000e6" stroke="#111" stroke-width="0.4"/>
<circle cx="512.3" cy="288.0" r="1.05" fill="#0000e6" stroke="#111" stroke-width="0.4"/>
<circle cx="511.9" cy="292.0" r="1.05" fill="#0000e6" stroke="#111" stroke-width="0.4"/>
<circle cx="516.5" cy="288.2" r="1.05" fill="#0000e6" stroke="#111" stroke-width="0.4"/>
<circle cx="522.7" cy="287.4" r="1.05" fill="#0000e6" stroke="#111" stroke-width="0.4"/>
<circle cx="520.4" cy="286.0" r="1.05" fill="#0000e6" stroke="#111" stroke-width="0.4"/>
<circle cx="510.8" cy="291.4" r="1.05" fill="#0000e6" stroke="#111" stroke-width="0.4"/>
<circle cx="521.0" cy="285.1" r="1.05" fill="#0000e6" stroke="#111" stroke-width="0.4"/>
<circle cx="515.3" cy="286.4" r="1.05" fill="#0000e6" stroke="#111" stroke-width="0.4"/>
<circle cx="514.5" cy="289.8" r="1.05" fill="#0000e6" stroke="#111" stroke-width="0.4"/>
<circle cx="506.7" cy="290.1" r="1.05" fill="#0000e6" stroke="#111" stroke-width="0.4"/>
<circle cx="523.1" cy="285.8" r="1.05" fill="#0000e6" stroke="#111" stroke-width="0.4"/>
<circle cx="508.9" cy="290.4" r="1.05" fill="#0000e6" stroke="#111" stroke-width="0.4"/>
<circle cx="520.7" cy="285.2" r="1.05" fill="#0000e6" stroke="#111" stroke-width="0.4"/>
<circle cx="517.5" cy="283.8" r="1.05" fill="#0000e6" stroke="#111" stroke-width="0.4"/>
<circle cx="514.1" cy="286.8" r="1.05" fill="#0000e6" stroke="#111" stroke-width="0.4"/>
<circle cx="507.8" cy="291.7" r="1.05" fill="#0000e6" stroke="#111" stroke-width="0.4"/>
<circle cx="511.9" cy="289.3" r="1.05" fill="#0000e6" stroke="#111" stroke-width="0.4"/>
<circle cx="514.2" cy="289.1" r="1.05" fill="#000028" stroke="#111" stroke-width="0.4"/>
<circle cx="504.7" cy="293.2" r="1.05" fill="#000028" stroke="#111" stroke-width="0.4"/>
<circle cx="513.1" cy="289.7" r="1.05" fill="#000028" stroke="#111" stroke-width="0.4"/>
<circle cx="512.5" cy="290.1" r="1.05" fill="#000028" stroke="#111" stroke-width="0.4"/>
<circle cx="509.3" cy="290.3" r="1.05" fill="#000028" stroke="#111" stroke-width="0.4"/>
<circle cx="517.1" cy="288.2" r="1.05" fill="#000028" stroke="#111" stroke-width="0.4"/>
<circle cx="510.6" cy="289.9" r="1.05" fill="#000028" stroke="#111" stroke-width="0.4"/>
<circle cx="513.2" cy="288.9" r="1.05" fill="#000028" stroke="#111" stroke-width="0.4"/>
<circle cx="512.3" cy="289.9" r="1.05" fill="#000028" stroke="#111" stroke-width="0.4"/>
<circle cx="509.8" cy="291.4" r="1.05" fill="#000028" stroke="#111" stroke-width="0.4"/>
<circle cx="504.7" cy="292.1" r="1.05" fill="#000028" stroke="#111" stroke-width="0.4"/>
<circle cx="509.7" cy="289.8" r="1.05" fill="#000028" stroke="#111" stroke-width="0.4"/>
<circle cx="519.6" cy="287.9" r="1.05" fill="#000028" stroke="#111" stroke-width="0.4"/>
<circle cx="512.4" cy="288.2" r="1.05" fill="#000028" stroke="#111" stroke-width="0.4"/>
<circle cx="498.7" cy="286.2" r="1.05" fill="#0000e6" stroke="#111" stroke-width="0.4"/>
<circle cx="496.0" cy="284.6" r="1.05" fill="#0000e6" stroke="#111" stroke-width="0.4"/>
<circle cx="503.5" cy="283.9" r="1.05" fill="#0000e6" stroke="#111" stroke-width="0.4"/>
<circle cx="502.5" cy="286.3" r="1.05" fill="#0000e6" stroke="#111" stroke-width="0.4"/>
<circle cx="496.3" cy="287.3" r="1.05" fill="#0000e6" stroke="#111" stroke-width="0.4"/>
<circle cx="496.4" cy="285.5" r="1.05" fill="#0000e6" stroke="#111" stroke-width="0.4"/>
<circle cx="495.1" cy="285.9" r="1.05" fill="#0000e6" stroke="#111" stroke-width="0.4"/>
<circle cx="499.3" cy="286.2" r="1.05" fill="#0000e6" stroke="#111" stroke-width="0.4"/>
<circle cx="501.1" cy="284.0" r="1.05" fill="#0000e6" stroke="#111" stroke-width="0.4"/>
<circle cx="499.0" cy="286.1" r="1.05" fill="#0000e6" stroke="#111" stroke-width="0.4"/>
<circle cx="507.5" cy="292.3" r="1.05" fill="#000028" stroke="#111" stroke-width="0.4"/>
<circle cx="496.5" cy="295.0" r="1.05" fill="#000028" stroke="#111" stroke-width="0.4"/>
<circle cx="503.5" cy="293.5" r="1.05" fill="#000028" stroke="#111" stroke-width="0.4"/>
<circle cx="509.0" cy="293.3" r="1.05" fill="#000028" stroke="#111" stroke-width="0.4"/>
<circle cx="497.0" cy="293.1" r="1.05" fill="#000028" stroke="#111" stroke-width="0.4"/>
<circle cx="496.2" cy="294.2" r="1.05" fill="#000028" stroke="#111" stroke-width="0.4"/>
<circle cx="503.7" cy="294.4" r="1.05" fill="#000028" stroke="#111" stroke-width="0.4"/>
<circle cx="506.3" cy="294.8" r="1.05" fill="#000028" stroke="#111" stroke-width="0.4"/>
<circle cx="507.3" cy="294.6" r="1.05" fill="#000028" stroke="#111" stroke-width="0.4"/>
<circle cx="499.4" cy="294.1" r="1.05" fill="#000028" stroke="#111" stroke-width="0.4"/>
<circle cx="502.4" cy="295.0" r="1.05" fill="#000028" stroke="#111" stroke-width="0.4"/>
<circle cx="499.3" cy="292.2" r="1.05" fill="#000028" stroke="#111" stroke-width="0.4"/>
<circle cx="508.0" cy="295.8" r="1.05" fill="#000028" stroke="#111" stroke-width="0.4"/>
<circle cx="502.2" cy="292.5" r="1.05" fill="#000028" stroke="#111" stroke-width="0.4"/>
<circle cx="502.2" cy="294.4" r="1.05" fill="#000028" stroke="#111" stroke-width="0.4"/>
<circle cx="502.7" cy="295.9" r="1.05" fill="#000028" stroke="#111" stroke-width="0.4"/>
<circle cx="509.3" cy="295.7" r="1.05" fill="#000028" stroke="#111" stroke-width="0.4"/>
<circle cx="496.9" cy="295.4" r="1.05" fill="#000028" stroke="#111" stroke-width="0.4"/>
<circle cx="503.2" cy="290.9" r="1.05" fill="#0000e6" stroke="#111" stroke-width="0.4"/>
<circle cx="504.9" cy="294.1" r="1.05" fill="#0000e6" stroke="#111" stroke-width="0.4"/>
<circle cx="508.8" cy="294.2" r="1.05" fill="#0000e6" stroke="#111" stroke-width="0.4"/>
<circle cx="495.2" cy="288.5" r="1.05" fill="#0000e6" stroke="#111" stroke-width="0.4"/>
<circle cx="498.8" cy="288.3" r="1.05" fill="#0000e6" stroke="#111" stroke-width="0.4"/>
<circle cx="495.9" cy="294.3" r="1.05" fill="#0000e6" stroke="#111" stroke-width="0.4"/>
<circle cx="502.3" cy="293.0" r="1.05" fill="#0000e6" stroke="#111" stroke-width="0.4"/>
<circle cx="502.3" cy="291.3" r="1.05" fill="#0000e6" stroke="#111" stroke-width="0.4"/>
<circle cx="505.2" cy="288.7" r="1.05" fill="#0000e6" stroke="#111" stroke-width="0.4"/>
<circle cx="502.8" cy="292.9" r="1.05" fill="#0000e6" stroke="#111" stroke-width="0.4"/>
<circle cx="506.3" cy="278.9" r="1.05" fill="#0000e6" stroke="#111" stroke-width="0.4"/>
<circle cx="507.7" cy="278.6" r="1.05" fill="#0000e6" stroke="#111" stroke-width="0.4"/>
<circle cx="509.4" cy="279.6" r="1.05" fill="#0000e6" stroke="#111" stroke-width="0.4"/>
<circle cx="507.0" cy="279.9" r="1.05" fill="#0000e6" stroke="#111" stroke-width="0.4"/>
<circle cx="509.5" cy="280.0" r="1.05" fill="#0000e6" stroke="#111" stroke-width="0.4"/>
<circle cx="513.6" cy="283.4" r="1.05" fill="#0000e6" stroke="#111" stroke-width="0.4"/>
<circle cx="515.5" cy="283.7" r="1.05" fill="#0000e6" stroke="#111" stroke-width="0.4"/>
<circle cx="513.6" cy="282.5" r="1.05" fill="#0000e6" stroke="#111" stroke-width="0.4"/>
<circle cx="528.2" cy="294.0" r="1.05" fill="#0000e6" stroke="#111" stroke-width="0.4"/>
<circle cx="527.4" cy="294.2" r="1.05" fill="#0000e6" stroke="#111" stroke-width="0.4"/>
<circle cx="525.5" cy="294.1" r="1.05" fill="#0000e6" stroke="#111" stroke-width="0.4"/>
<circle cx="526.3" cy="293.8" r="1.05" fill="#0000e6" stroke="#111" stroke-width="0.4"/>
<circle cx="532.0" cy="293.3" r="1.05" fill="#0000e6" stroke="#111" stroke-width="0.4"/>
<circle cx="525.7" cy="293.4" r="1.05" fill="#0000e6" stroke="#111" stroke-width="0.4"/>
<circle cx="533.1" cy="293.0" r="1.05" fill="#0000e6" stroke="#111" stroke-width="0.4"/>
<circle cx="531.5" cy="293.1" r="1.05" fill="#0000e6" stroke="#111" stroke-width="0.4"/>
<circle cx="531.1" cy="293.1" r="1.05" fill="#0000e6" stroke="#111" stroke-width="0.4"/>
<circle cx="528.2" cy="293.8" r="1.05" fill="#0000e6" stroke="#111" stroke-width="0.4"/>
<circle cx="539.7" cy="290.9" r="1.05" fill="#0000e6" stroke="#111" stroke-width="0.4"/>
<circle cx="538.1" cy="287.5" r="1.05" fill="#0000e6" stroke="#111" stroke-width="0.4"/>
<circle cx="538.5" cy="287.7" r="1.05" fill="#0000e6" stroke="#111" stroke-width="0.4"/>
<circle cx="540.7" cy="293.8" r="1.05" fill="#0000e6" stroke="#111" stroke-width="0.4"/>
<circle cx="538.7" cy="290.1" r="1.05" fill="#0000e6" stroke="#111" stroke-width="0.4"/>
<circle cx="533.8" cy="289.7" r="1.05" fill="#0000e6" stroke="#111" stroke-width="0.4"/>
<circle cx="543.4" cy="292.0" r="1.05" fill="#0000e6" stroke="#111" stroke-width="0.4"/>
<circle cx="528.0" cy="283.4" r="1.05" fill="#0000e6" stroke="#111" stroke-width="0.4"/>
<circle cx="541.5" cy="286.3" r="1.05" fill="#0000e6" stroke="#111" stroke-width="0.4"/>
<circle cx="516.3" cy="280.0" r="1.05" fill="#8fe070" stroke="#111" stroke-width="0.4"/>
<circle cx="519.2" cy="280.0" r="1.05" fill="#8fe070" stroke="#111" stroke-width="0.4"/>
<circle cx="509.0" cy="282.4" r="1.05" fill="#8fe070" stroke="#111" stroke-width="0.4"/>
<circle cx="523.1" cy="282.0" r="1.05" fill="#8fe070" stroke="#111" stroke-width="0.4"/>
<circle cx="530.4" cy="282.6" r="1.05" fill="#8fe070" stroke="#111" stroke-width="0.4"/>
<circle cx="539.6" cy="282.9" r="1.05" fill="#8fe070" stroke="#111" stroke-width="0.4"/>
<circle cx="544.0" cy="285.3" r="1.05" fill="#8fe070" stroke="#111" stroke-width="0.4"/>
<circle cx="513.9" cy="272.3" r="1.05" fill="#6fc0e0" stroke="#111" stroke-width="0.4"/>
<circle cx="532.8" cy="293.1" r="1.05" fill="#6fc0e0" stroke="#111" stroke-width="0.4"/>
<circle cx="539.1" cy="293.1" r="1.05" fill="#6fc0e0" stroke="#111" stroke-width="0.4"/>
<circle cx="504.7" cy="294.0" r="1.05" fill="#6fc0e0" stroke="#111" stroke-width="0.4"/>
<circle cx="550.2" cy="266.5" r="1.05" fill="#f5a04f" stroke="#111" stroke-width="0.4"/>
<circle cx="550.2" cy="271.8" r="1.05" fill="#f5a04f" stroke="#111" stroke-width="0.4"/>
<circle cx="549.7" cy="274.7" r="1.05" fill="#f5a04f" stroke="#111" stroke-width="0.4"/>
<circle cx="563.7" cy="269.4" r="1.05" fill="#f5a04f" stroke="#111" stroke-width="0.4"/>
<circle cx="536.2" cy="267.9" r="1.05" fill="#f5a04f" stroke="#111" stroke-width="0.4"/>
<circle cx="560.8" cy="266.9" r="1.05" fill="#cc0a14" stroke="#111" stroke-width="0.4"/>
<circle cx="570.0" cy="268.4" r="1.05" fill="#6fc0e0" stroke="#111" stroke-width="0.4"/>
<circle cx="587.0" cy="266.9" r="1.05" fill="#6fc0e0" stroke="#111" stroke-width="0.4"/>
<circle cx="546.3" cy="276.6" r="1.05" fill="#6fc0e0" stroke="#111" stroke-width="0.4"/>
<circle cx="557.4" cy="277.6" r="1.05" fill="#6fc0e0" stroke="#111" stroke-width="0.4"/>
<circle cx="557.9" cy="282.4" r="1.05" fill="#6fc0e0" stroke="#111" stroke-width="0.4"/>
<circle cx="562.3" cy="281.0" r="1.05" fill="#6fc0e0" stroke="#111" stroke-width="0.4"/>
<circle cx="552.1" cy="285.3" r="1.05" fill="#6fc0e0" stroke="#111" stroke-width="0.4"/>
<circle cx="554.5" cy="292.1" r="1.05" fill="#6fc0e0" stroke="#111" stroke-width="0.4"/>
<circle cx="556.5" cy="292.1" r="1.05" fill="#6fc0e0" stroke="#111" stroke-width="0.4"/>
<circle cx="558.4" cy="292.1" r="1.05" fill="#6fc0e0" stroke="#111" stroke-width="0.4"/>
<circle cx="555.0" cy="274.2" r="1.05" fill="#0000e6" stroke="#111" stroke-width="0.4"/>
<circle cx="553.1" cy="280.0" r="1.05" fill="#0000e6" stroke="#111" stroke-width="0.4"/>
<circle cx="565.7" cy="279.5" r="1.05" fill="#0000e6" stroke="#111" stroke-width="0.4"/>
<circle cx="570.0" cy="278.1" r="1.05" fill="#0000e6" stroke="#111" stroke-width="0.4"/>
<circle cx="573.9" cy="281.0" r="1.05" fill="#0000e6" stroke="#111" stroke-width="0.4"/>
<circle cx="582.6" cy="282.9" r="1.05" fill="#0000e6" stroke="#111" stroke-width="0.4"/>
<circle cx="586.5" cy="281.0" r="1.05" fill="#0000e6" stroke="#111" stroke-width="0.4"/>
<circle cx="547.8" cy="286.3" r="1.05" fill="#0000e6" stroke="#111" stroke-width="0.4"/>
<circle cx="541.9" cy="285.8" r="1.05" fill="#0000e6" stroke="#111" stroke-width="0.4"/>
<circle cx="543.9" cy="291.6" r="1.05" fill="#0000e6" stroke="#111" stroke-width="0.4"/>
<circle cx="557.0" cy="286.0" r="1.05" fill="#0000e6" stroke="#111" stroke-width="0.4"/>
<circle cx="559.0" cy="288.0" r="1.05" fill="#0000e6" stroke="#111" stroke-width="0.4"/>
<circle cx="567.8" cy="286.7" r="1.05" fill="#0000e6" stroke="#111" stroke-width="0.4"/>
<circle cx="568.3" cy="288.2" r="1.05" fill="#0000e6" stroke="#111" stroke-width="0.4"/>
<circle cx="564.2" cy="284.9" r="1.05" fill="#0000e6" stroke="#111" stroke-width="0.4"/>
<circle cx="564.2" cy="288.0" r="1.05" fill="#0000e6" stroke="#111" stroke-width="0.4"/>
<circle cx="563.0" cy="283.0" r="1.05" fill="#0000e6" stroke="#111" stroke-width="0.4"/>
<circle cx="563.9" cy="286.3" r="1.05" fill="#0000e6" stroke="#111" stroke-width="0.4"/>
<circle cx="568.2" cy="283.8" r="1.05" fill="#0000e6" stroke="#111" stroke-width="0.4"/>
<circle cx="567.4" cy="290.1" r="1.05" fill="#0000e6" stroke="#111" stroke-width="0.4"/>
<circle cx="568.6" cy="282.9" r="1.05" fill="#0000e6" stroke="#111" stroke-width="0.4"/>
<circle cx="564.6" cy="284.6" r="1.05" fill="#0000e6" stroke="#111" stroke-width="0.4"/>
<circle cx="567.7" cy="285.0" r="1.05" fill="#0000e6" stroke="#111" stroke-width="0.4"/>
<circle cx="565.3" cy="282.5" r="1.05" fill="#0000e6" stroke="#111" stroke-width="0.4"/>
<circle cx="562.4" cy="286.8" r="1.05" fill="#0000e6" stroke="#111" stroke-width="0.4"/>
<circle cx="563.3" cy="287.3" r="1.05" fill="#0000e6" stroke="#111" stroke-width="0.4"/>
<circle cx="564.6" cy="287.0" r="1.05" fill="#0000e6" stroke="#111" stroke-width="0.4"/>
<circle cx="564.8" cy="288.4" r="1.05" fill="#0000e6" stroke="#111" stroke-width="0.4"/>
<circle cx="563.2" cy="288.4" r="1.05" fill="#000028" stroke="#111" stroke-width="0.4"/>
<circle cx="566.6" cy="284.5" r="1.05" fill="#000028" stroke="#111" stroke-width="0.4"/>
<circle cx="562.0" cy="285.5" r="1.05" fill="#000028" stroke="#111" stroke-width="0.4"/>
<circle cx="563.4" cy="285.1" r="1.05" fill="#000028" stroke="#111" stroke-width="0.4"/>
<circle cx="567.0" cy="288.3" r="1.05" fill="#000028" stroke="#111" stroke-width="0.4"/>
<circle cx="567.7" cy="283.0" r="1.05" fill="#000028" stroke="#111" stroke-width="0.4"/>
<circle cx="565.9" cy="288.1" r="1.05" fill="#000028" stroke="#111" stroke-width="0.4"/>
<circle cx="566.4" cy="283.6" r="1.05" fill="#000028" stroke="#111" stroke-width="0.4"/>
<circle cx="573.6" cy="294.0" r="1.05" fill="#000028" stroke="#111" stroke-width="0.4"/>
<circle cx="568.7" cy="294.7" r="1.05" fill="#000028" stroke="#111" stroke-width="0.4"/>
<circle cx="569.0" cy="295.3" r="1.05" fill="#000028" stroke="#111" stroke-width="0.4"/>
<circle cx="574.9" cy="293.6" r="1.05" fill="#000028" stroke="#111" stroke-width="0.4"/>
<circle cx="580.0" cy="292.7" r="1.05" fill="#000028" stroke="#111" stroke-width="0.4"/>
<circle cx="569.3" cy="292.6" r="1.05" fill="#000028" stroke="#111" stroke-width="0.4"/>
<circle cx="574.8" cy="295.5" r="1.05" fill="#000028" stroke="#111" stroke-width="0.4"/>
<circle cx="569.1" cy="293.4" r="1.05" fill="#000028" stroke="#111" stroke-width="0.4"/>
<circle cx="579.3" cy="294.8" r="1.05" fill="#000028" stroke="#111" stroke-width="0.4"/>
<circle cx="570.4" cy="292.6" r="1.05" fill="#000028" stroke="#111" stroke-width="0.4"/>
<circle cx="570.2" cy="294.3" r="1.05" fill="#000028" stroke="#111" stroke-width="0.4"/>
<circle cx="567.5" cy="293.9" r="1.05" fill="#000028" stroke="#111" stroke-width="0.4"/>
<circle cx="572.6" cy="295.5" r="1.05" fill="#000028" stroke="#111" stroke-width="0.4"/>
<circle cx="568.8" cy="293.2" r="1.05" fill="#000028" stroke="#111" stroke-width="0.4"/>
<circle cx="567.0" cy="294.6" r="1.05" fill="#000028" stroke="#111" stroke-width="0.4"/>
<circle cx="579.6" cy="292.5" r="1.05" fill="#000028" stroke="#111" stroke-width="0.4"/>
<circle cx="578.6" cy="292.7" r="1.05" fill="#000028" stroke="#111" stroke-width="0.4"/>
<circle cx="569.6" cy="294.0" r="1.05" fill="#000028" stroke="#111" stroke-width="0.4"/>
<circle cx="575.9" cy="295.6" r="1.05" fill="#000028" stroke="#111" stroke-width="0.4"/>
<circle cx="566.4" cy="293.8" r="1.05" fill="#000028" stroke="#111" stroke-width="0.4"/>
<circle cx="577.0" cy="293.9" r="1.05" fill="#000028" stroke="#111" stroke-width="0.4"/>
<circle cx="577.5" cy="292.4" r="1.05" fill="#000028" stroke="#111" stroke-width="0.4"/>
<circle cx="580.6" cy="292.8" r="1.05" fill="#000028" stroke="#111" stroke-width="0.4"/>
<circle cx="578.6" cy="294.4" r="1.05" fill="#000028" stroke="#111" stroke-width="0.4"/>
<circle cx="553.1" cy="294.8" r="1.05" fill="#000028" stroke="#111" stroke-width="0.4"/>
<circle cx="550.5" cy="295.5" r="1.05" fill="#000028" stroke="#111" stroke-width="0.4"/>
<circle cx="548.8" cy="293.3" r="1.05" fill="#000028" stroke="#111" stroke-width="0.4"/>
<circle cx="554.8" cy="294.4" r="1.05" fill="#000028" stroke="#111" stroke-width="0.4"/>
<circle cx="549.6" cy="295.7" r="1.05" fill="#000028" stroke="#111" stroke-width="0.4"/>
<circle cx="554.3" cy="294.1" r="1.05" fill="#000028" stroke="#111" stroke-width="0.4"/>
<circle cx="549.0" cy="294.4" r="1.05" fill="#000028" stroke="#111" stroke-width="0.4"/>
<circle cx="549.8" cy="294.8" r="1.05" fill="#000028" stroke="#111" stroke-width="0.4"/>
<circle cx="580.4" cy="288.3" r="1.05" fill="#0000e6" stroke="#111" stroke-width="0.4"/>
<circle cx="578.9" cy="289.5" r="1.05" fill="#0000e6" stroke="#111" stroke-width="0.4"/>
<circle cx="579.1" cy="287.6" r="1.05" fill="#0000e6" stroke="#111" stroke-width="0.4"/>
<circle cx="585.6" cy="286.6" r="1.05" fill="#0000e6" stroke="#111" stroke-width="0.4"/>
<circle cx="589.4" cy="284.7" r="1.05" fill="#0000e6" stroke="#111" stroke-width="0.4"/>
<circle cx="587.9" cy="286.3" r="1.05" fill="#0000e6" stroke="#111" stroke-width="0.4"/>
<circle cx="586.2" cy="287.6" r="1.05" fill="#0000e6" stroke="#111" stroke-width="0.4"/>
<circle cx="587.6" cy="284.9" r="1.05" fill="#0000e6" stroke="#111" stroke-width="0.4"/>
<circle cx="586.1" cy="285.5" r="1.05" fill="#0000e6" stroke="#111" stroke-width="0.4"/>
<circle cx="585.7" cy="291.2" r="1.05" fill="#0000e6" stroke="#111" stroke-width="0.4"/>
<circle cx="587.4" cy="289.3" r="1.05" fill="#0000e6" stroke="#111" stroke-width="0.4"/>
<circle cx="540.0" cy="282.9" r="1.05" fill="#8fe070" stroke="#111" stroke-width="0.4"/>
<circle cx="544.4" cy="285.3" r="1.05" fill="#8fe070" stroke="#111" stroke-width="0.4"/>
<circle cx="550.2" cy="282.9" r="1.05" fill="#8fe070" stroke="#111" stroke-width="0.4"/>
<circle cx="588.4" cy="292.6" r="1.05" fill="#8fe070" stroke="#111" stroke-width="0.4"/>
<circle cx="616.9" cy="262.5" r="1.05" fill="#0000e6" stroke="#111" stroke-width="0.4"/>
<circle cx="618.2" cy="262.3" r="1.05" fill="#0000e6" stroke="#111" stroke-width="0.4"/>
<circle cx="613.6" cy="258.6" r="1.05" fill="#0000e6" stroke="#111" stroke-width="0.4"/>
<circle cx="614.5" cy="264.3" r="1.05" fill="#0000e6" stroke="#111" stroke-width="0.4"/>
<circle cx="614.7" cy="256.2" r="1.05" fill="#0000e6" stroke="#111" stroke-width="0.4"/>
<circle cx="612.3" cy="255.2" r="1.05" fill="#0000e6" stroke="#111" stroke-width="0.4"/>
<circle cx="612.6" cy="264.0" r="1.05" fill="#0000e6" stroke="#111" stroke-width="0.4"/>
<circle cx="616.7" cy="251.2" r="1.05" fill="#0000e6" stroke="#111" stroke-width="0.4"/>
<circle cx="618.2" cy="258.4" r="1.05" fill="#0000e6" stroke="#111" stroke-width="0.4"/>
<circle cx="616.6" cy="265.6" r="1.05" fill="#0000e6" stroke="#111" stroke-width="0.4"/>
<circle cx="618.1" cy="251.8" r="1.05" fill="#0000e6" stroke="#111" stroke-width="0.4"/>
<circle cx="615.8" cy="254.4" r="1.05" fill="#0000e6" stroke="#111" stroke-width="0.4"/>
<circle cx="617.0" cy="264.3" r="1.05" fill="#0000e6" stroke="#111" stroke-width="0.4"/>
<circle cx="611.4" cy="265.5" r="1.05" fill="#0000e6" stroke="#111" stroke-width="0.4"/>
<circle cx="612.6" cy="263.3" r="1.05" fill="#0000e6" stroke="#111" stroke-width="0.4"/>
<circle cx="616.8" cy="255.7" r="1.05" fill="#0000e6" stroke="#111" stroke-width="0.4"/>
<circle cx="612.0" cy="241.3" r="1.05" fill="#0000e6" stroke="#111" stroke-width="0.4"/>
<circle cx="611.0" cy="244.9" r="1.05" fill="#0000e6" stroke="#111" stroke-width="0.4"/>
<circle cx="628.2" cy="242.2" r="1.05" fill="#0000e6" stroke="#111" stroke-width="0.4"/>
<circle cx="614.7" cy="273.7" r="1.05" fill="#0000e6" stroke="#111" stroke-width="0.4"/>
<circle cx="621.0" cy="273.7" r="1.05" fill="#0000e6" stroke="#111" stroke-width="0.4"/>
<circle cx="621.9" cy="280.9" r="1.05" fill="#0000e6" stroke="#111" stroke-width="0.4"/>
<circle cx="617.4" cy="285.4" r="1.05" fill="#0000e6" stroke="#111" stroke-width="0.4"/>
<circle cx="586.8" cy="280.9" r="1.05" fill="#0000e6" stroke="#111" stroke-width="0.4"/>
<circle cx="587.7" cy="285.4" r="1.05" fill="#0000e6" stroke="#111" stroke-width="0.4"/>
<circle cx="616.5" cy="263.8" r="1.05" fill="#0000e6" stroke="#111" stroke-width="0.4"/>
<circle cx="627.7" cy="243.1" r="1.05" fill="#0000e6" stroke="#111" stroke-width="0.4"/>
<circle cx="615.0" cy="261.4" r="1.05" fill="#8fe070" stroke="#111" stroke-width="0.4"/>
<circle cx="612.6" cy="258.9" r="1.05" fill="#8fe070" stroke="#111" stroke-width="0.4"/>
<circle cx="614.9" cy="259.9" r="1.05" fill="#8fe070" stroke="#111" stroke-width="0.4"/>
<circle cx="615.3" cy="253.3" r="1.05" fill="#8fe070" stroke="#111" stroke-width="0.4"/>
<circle cx="614.5" cy="262.4" r="1.05" fill="#8fe070" stroke="#111" stroke-width="0.4"/>
<circle cx="614.0" cy="258.6" r="1.05" fill="#8fe070" stroke="#111" stroke-width="0.4"/>
<circle cx="624.7" cy="260.9" r="1.05" fill="#0000e6" stroke="#111" stroke-width="0.4"/>
<circle cx="628.5" cy="254.7" r="1.05" fill="#0000e6" stroke="#111" stroke-width="0.4"/>
<circle cx="625.4" cy="254.7" r="1.05" fill="#0000e6" stroke="#111" stroke-width="0.4"/>
<circle cx="624.2" cy="251.4" r="1.05" fill="#0000e6" stroke="#111" stroke-width="0.4"/>
<circle cx="624.9" cy="255.1" r="1.05" fill="#0000e6" stroke="#111" stroke-width="0.4"/>
<circle cx="623.7" cy="260.1" r="1.05" fill="#0000e6" stroke="#111" stroke-width="0.4"/>
<circle cx="624.8" cy="250.1" r="1.05" fill="#0000e6" stroke="#111" stroke-width="0.4"/>
<circle cx="627.6" cy="260.1" r="1.05" fill="#0000e6" stroke="#111" stroke-width="0.4"/>
<circle cx="628.3" cy="252.6" r="1.05" fill="#0000e6" stroke="#111" stroke-width="0.4"/>
<circle cx="623.8" cy="255.9" r="1.05" fill="#0000e6" stroke="#111" stroke-width="0.4"/>
<circle cx="628.7" cy="258.3" r="1.05" fill="#0000e6" stroke="#111" stroke-width="0.4"/>
<circle cx="628.3" cy="259.3" r="1.05" fill="#0000e6" stroke="#111" stroke-width="0.4"/>
<circle cx="628.9" cy="253.2" r="1.05" fill="#0000e6" stroke="#111" stroke-width="0.4"/>
<circle cx="628.8" cy="253.5" r="1.05" fill="#0000e6" stroke="#111" stroke-width="0.4"/>
<circle cx="624.2" cy="252.3" r="1.05" fill="#0000e6" stroke="#111" stroke-width="0.4"/>
<circle cx="624.4" cy="250.5" r="1.05" fill="#0000e6" stroke="#111" stroke-width="0.4"/>
<circle cx="627.8" cy="257.1" r="1.05" fill="#000028" stroke="#111" stroke-width="0.4"/>
<circle cx="627.9" cy="255.8" r="1.05" fill="#000028" stroke="#111" stroke-width="0.4"/>
<circle cx="625.1" cy="258.7" r="1.05" fill="#000028" stroke="#111" stroke-width="0.4"/>
<circle cx="626.9" cy="258.4" r="1.05" fill="#000028" stroke="#111" stroke-width="0.4"/>
<circle cx="627.3" cy="252.0" r="1.05" fill="#000028" stroke="#111" stroke-width="0.4"/>
<circle cx="586.8" cy="267.0" r="1.05" fill="#6fc0e0" stroke="#111" stroke-width="0.4"/>
<circle cx="591.3" cy="267.7" r="1.05" fill="#6fc0e0" stroke="#111" stroke-width="0.4"/>
<circle cx="595.8" cy="268.8" r="1.05" fill="#6fc0e0" stroke="#111" stroke-width="0.4"/>
<circle cx="600.3" cy="270.6" r="1.05" fill="#6fc0e0" stroke="#111" stroke-width="0.4"/>
<circle cx="614.4" cy="288.8" r="1.05" fill="#0000e6" stroke="#111" stroke-width="0.4"/>
<circle cx="600.3" cy="293.4" r="1.05" fill="#0000e6" stroke="#111" stroke-width="0.4"/>
<circle cx="591.4" cy="293.8" r="1.05" fill="#0000e6" stroke="#111" stroke-width="0.4"/>
<circle cx="632.4" cy="295.7" r="1.05" fill="#0000e6" stroke="#111" stroke-width="0.4"/>
<circle cx="604.6" cy="296.1" r="1.05" fill="#0000e6" stroke="#111" stroke-width="0.4"/>
<circle cx="633.3" cy="287.5" r="1.05" fill="#0000e6" stroke="#111" stroke-width="0.4"/>
<circle cx="615.1" cy="295.5" r="1.05" fill="#0000e6" stroke="#111" stroke-width="0.4"/>
<circle cx="633.4" cy="289.2" r="1.05" fill="#0000e6" stroke="#111" stroke-width="0.4"/>
<circle cx="613.3" cy="295.6" r="1.05" fill="#0000e6" stroke="#111" stroke-width="0.4"/>
<circle cx="592.0" cy="293.9" r="1.05" fill="#0000e6" stroke="#111" stroke-width="0.4"/>
<circle cx="596.9" cy="296.0" r="1.05" fill="#0000e6" stroke="#111" stroke-width="0.4"/>
<circle cx="593.4" cy="295.2" r="1.05" fill="#0000e6" stroke="#111" stroke-width="0.4"/>
<circle cx="589.4" cy="293.6" r="1.05" fill="#0000e6" stroke="#111" stroke-width="0.4"/>
<circle cx="617.0" cy="295.2" r="1.05" fill="#0000e6" stroke="#111" stroke-width="0.4"/>
<circle cx="607.3" cy="289.6" r="1.05" fill="#0000e6" stroke="#111" stroke-width="0.4"/>
<circle cx="597.5" cy="287.8" r="1.05" fill="#0000e6" stroke="#111" stroke-width="0.4"/>
<circle cx="597.8" cy="288.2" r="1.05" fill="#0000e6" stroke="#111" stroke-width="0.4"/>
<circle cx="585.1" cy="290.7" r="1.05" fill="#0000e6" stroke="#111" stroke-width="0.4"/>
<circle cx="621.6" cy="295.9" r="1.05" fill="#0000e6" stroke="#111" stroke-width="0.4"/>
<circle cx="629.2" cy="291.6" r="1.05" fill="#0000e6" stroke="#111" stroke-width="0.4"/>
<circle cx="603.9" cy="292.1" r="1.05" fill="#0000e6" stroke="#111" stroke-width="0.4"/>
<circle cx="590.1" cy="291.5" r="1.05" fill="#0000e6" stroke="#111" stroke-width="0.4"/>
<circle cx="628.2" cy="293.1" r="1.05" fill="#0000e6" stroke="#111" stroke-width="0.4"/>
<circle cx="619.4" cy="288.7" r="1.05" fill="#0000e6" stroke="#111" stroke-width="0.4"/>
<circle cx="588.7" cy="294.8" r="1.05" fill="#0000e6" stroke="#111" stroke-width="0.4"/>
<circle cx="599.7" cy="290.1" r="1.05" fill="#0000e6" stroke="#111" stroke-width="0.4"/>
<circle cx="632.6" cy="287.9" r="1.05" fill="#0000e6" stroke="#111" stroke-width="0.4"/>
<circle cx="593.5" cy="290.6" r="1.05" fill="#0000e6" stroke="#111" stroke-width="0.4"/>
<circle cx="621.6" cy="292.1" r="1.05" fill="#0000e6" stroke="#111" stroke-width="0.4"/>
<circle cx="629.9" cy="288.0" r="1.05" fill="#0000e6" stroke="#111" stroke-width="0.4"/>
<circle cx="614.7" cy="292.7" r="1.05" fill="#0000e6" stroke="#111" stroke-width="0.4"/>
<circle cx="609.1" cy="287.5" r="1.05" fill="#0000e6" stroke="#111" stroke-width="0.4"/>
<circle cx="632.1" cy="288.7" r="1.05" fill="#0000e6" stroke="#111" stroke-width="0.4"/>
<circle cx="629.5" cy="288.6" r="1.05" fill="#0000e6" stroke="#111" stroke-width="0.4"/>
<circle cx="590.1" cy="289.0" r="1.05" fill="#0000e6" stroke="#111" stroke-width="0.4"/>
<circle cx="594.5" cy="293.5" r="1.05" fill="#0000e6" stroke="#111" stroke-width="0.4"/>
<circle cx="621.1" cy="293.8" r="1.05" fill="#0000e6" stroke="#111" stroke-width="0.4"/>
<circle cx="598.3" cy="289.7" r="1.05" fill="#0000e6" stroke="#111" stroke-width="0.4"/>
<circle cx="596.9" cy="287.6" r="1.05" fill="#0000e6" stroke="#111" stroke-width="0.4"/>
<circle cx="613.6" cy="294.8" r="1.05" fill="#0000e6" stroke="#111" stroke-width="0.4"/>
<circle cx="591.2" cy="290.3" r="1.05" fill="#8fe070" stroke="#111" stroke-width="0.4"/>
<circle cx="592.7" cy="290.1" r="1.05" fill="#8fe070" stroke="#111" stroke-width="0.4"/>
<circle cx="594.0" cy="291.2" r="1.05" fill="#8fe070" stroke="#111" stroke-width="0.4"/>
<circle cx="591.5" cy="289.1" r="1.05" fill="#8fe070" stroke="#111" stroke-width="0.4"/>
<circle cx="603.9" cy="290.6" r="1.05" fill="#8fe070" stroke="#111" stroke-width="0.4"/>
<circle cx="603.4" cy="293.6" r="1.05" fill="#8fe070" stroke="#111" stroke-width="0.4"/>
<circle cx="604.7" cy="291.1" r="1.05" fill="#8fe070" stroke="#111" stroke-width="0.4"/>
<circle cx="605.6" cy="292.6" r="1.05" fill="#8fe070" stroke="#111" stroke-width="0.4"/>
<circle cx="603.5" cy="291.9" r="1.05" fill="#8fe070" stroke="#111" stroke-width="0.4"/>
<circle cx="596.8" cy="294.0" r="1.05" fill="#000028" stroke="#111" stroke-width="0.4"/>
<circle cx="597.8" cy="292.4" r="1.05" fill="#000028" stroke="#111" stroke-width="0.4"/>
<circle cx="597.2" cy="292.5" r="1.05" fill="#000028" stroke="#111" stroke-width="0.4"/>
<circle cx="597.0" cy="291.8" r="1.05" fill="#000028" stroke="#111" stroke-width="0.4"/>
<circle cx="596.1" cy="293.5" r="1.05" fill="#000028" stroke="#111" stroke-width="0.4"/>
<circle cx="613.8" cy="289.5" r="1.05" fill="#000028" stroke="#111" stroke-width="0.4"/>
<circle cx="612.1" cy="291.9" r="1.05" fill="#000028" stroke="#111" stroke-width="0.4"/>
<circle cx="615.4" cy="292.2" r="1.05" fill="#000028" stroke="#111" stroke-width="0.4"/>
<circle cx="613.2" cy="293.5" r="1.05" fill="#000028" stroke="#111" stroke-width="0.4"/>
<circle cx="614.6" cy="291.3" r="1.05" fill="#000028" stroke="#111" stroke-width="0.4"/>
<circle cx="613.1" cy="293.7" r="1.05" fill="#000028" stroke="#111" stroke-width="0.4"/>
<circle cx="620.8" cy="292.1" r="1.05" fill="#6fc0e0" stroke="#111" stroke-width="0.4"/>
<circle cx="620.8" cy="288.4" r="1.05" fill="#6fc0e0" stroke="#111" stroke-width="0.4"/>
<circle cx="623.9" cy="291.3" r="1.05" fill="#6fc0e0" stroke="#111" stroke-width="0.4"/>
<circle cx="621.0" cy="292.1" r="1.05" fill="#6fc0e0" stroke="#111" stroke-width="0.4"/>
<circle cx="623.2" cy="291.1" r="1.05" fill="#6fc0e0" stroke="#111" stroke-width="0.4"/>
<circle cx="621.9" cy="288.6" r="1.05" fill="#6fc0e0" stroke="#111" stroke-width="0.4"/>
<circle cx="628.4" cy="251.1" r="1.05" fill="#0000e6" stroke="#111" stroke-width="0.4"/>
<circle cx="629.4" cy="259.0" r="1.05" fill="#0000e6" stroke="#111" stroke-width="0.4"/>
<circle cx="628.6" cy="250.6" r="1.05" fill="#0000e6" stroke="#111" stroke-width="0.4"/>
<circle cx="626.9" cy="259.2" r="1.05" fill="#0000e6" stroke="#111" stroke-width="0.4"/>
<circle cx="627.0" cy="259.3" r="1.05" fill="#0000e6" stroke="#111" stroke-width="0.4"/>
<circle cx="627.8" cy="257.7" r="1.05" fill="#0000e6" stroke="#111" stroke-width="0.4"/>
<circle cx="626.2" cy="258.4" r="1.05" fill="#0000e6" stroke="#111" stroke-width="0.4"/>
<circle cx="629.1" cy="250.1" r="1.05" fill="#0000e6" stroke="#111" stroke-width="0.4"/>
<circle cx="632.4" cy="273.8" r="1.05" fill="#0000e6" stroke="#111" stroke-width="0.4"/>
<circle cx="631.8" cy="271.9" r="1.05" fill="#0000e6" stroke="#111" stroke-width="0.4"/>
<circle cx="633.1" cy="281.6" r="1.05" fill="#0000e6" stroke="#111" stroke-width="0.4"/>
<circle cx="636.4" cy="277.5" r="1.05" fill="#0000e6" stroke="#111" stroke-width="0.4"/>
<circle cx="633.8" cy="274.2" r="1.05" fill="#0000e6" stroke="#111" stroke-width="0.4"/>
<circle cx="632.7" cy="269.8" r="1.05" fill="#0000e6" stroke="#111" stroke-width="0.4"/>
<circle cx="634.4" cy="279.7" r="1.05" fill="#0000e6" stroke="#111" stroke-width="0.4"/>
<circle cx="637.9" cy="282.4" r="1.05" fill="#0000e6" stroke="#111" stroke-width="0.4"/>
<circle cx="634.2" cy="269.0" r="1.05" fill="#0000e6" stroke="#111" stroke-width="0.4"/>
<circle cx="631.4" cy="276.1" r="1.05" fill="#0000e6" stroke="#111" stroke-width="0.4"/>
<circle cx="632.0" cy="274.1" r="1.05" fill="#0000e6" stroke="#111" stroke-width="0.4"/>
<circle cx="632.4" cy="275.3" r="1.05" fill="#0000e6" stroke="#111" stroke-width="0.4"/>
<circle cx="634.6" cy="268.0" r="1.05" fill="#0000e6" stroke="#111" stroke-width="0.4"/>
<circle cx="631.3" cy="269.7" r="1.05" fill="#0000e6" stroke="#111" stroke-width="0.4"/>
<circle cx="634.6" cy="278.6" r="1.05" fill="#0000e6" stroke="#111" stroke-width="0.4"/>
<circle cx="629.0" cy="281.8" r="1.05" fill="#0000e6" stroke="#111" stroke-width="0.4"/>
<circle cx="631.9" cy="271.2" r="1.05" fill="#0000e6" stroke="#111" stroke-width="0.4"/>
<circle cx="636.0" cy="282.3" r="1.05" fill="#0000e6" stroke="#111" stroke-width="0.4"/>
<circle cx="637.5" cy="267.7" r="1.05" fill="#0000e6" stroke="#111" stroke-width="0.4"/>
<circle cx="636.7" cy="272.3" r="1.05" fill="#0000e6" stroke="#111" stroke-width="0.4"/>
<circle cx="631.4" cy="275.4" r="1.05" fill="#0000e6" stroke="#111" stroke-width="0.4"/>
<circle cx="635.5" cy="269.0" r="1.05" fill="#0000e6" stroke="#111" stroke-width="0.4"/>
<circle cx="637.2" cy="269.6" r="1.05" fill="#0000e6" stroke="#111" stroke-width="0.4"/>
<circle cx="638.2" cy="274.6" r="1.05" fill="#0000e6" stroke="#111" stroke-width="0.4"/>
<circle cx="636.8" cy="271.8" r="1.05" fill="#0000e6" stroke="#111" stroke-width="0.4"/>
<circle cx="632.7" cy="277.9" r="1.05" fill="#0000e6" stroke="#111" stroke-width="0.4"/>
<circle cx="630.5" cy="270.8" r="1.05" fill="#0000e6" stroke="#111" stroke-width="0.4"/>
<circle cx="636.8" cy="279.4" r="1.05" fill="#0000e6" stroke="#111" stroke-width="0.4"/>
<circle cx="635.3" cy="279.5" r="1.05" fill="#000028" stroke="#111" stroke-width="0.4"/>
<circle cx="635.7" cy="275.7" r="1.05" fill="#000028" stroke="#111" stroke-width="0.4"/>
<circle cx="631.1" cy="273.4" r="1.05" fill="#000028" stroke="#111" stroke-width="0.4"/>
<circle cx="633.5" cy="271.5" r="1.05" fill="#000028" stroke="#111" stroke-width="0.4"/>
<circle cx="636.0" cy="279.7" r="1.05" fill="#000028" stroke="#111" stroke-width="0.4"/>
<circle cx="630.2" cy="272.1" r="1.05" fill="#000028" stroke="#111" stroke-width="0.4"/>
<circle cx="635.8" cy="279.2" r="1.05" fill="#000028" stroke="#111" stroke-width="0.4"/>
<circle cx="631.7" cy="275.0" r="1.05" fill="#000028" stroke="#111" stroke-width="0.4"/>
<circle cx="636.4" cy="277.8" r="1.05" fill="#000028" stroke="#111" stroke-width="0.4"/>
<circle cx="631.9" cy="279.1" r="1.05" fill="#000028" stroke="#111" stroke-width="0.4"/>
<circle cx="637.2" cy="266.4" r="1.05" fill="#0000e6" stroke="#111" stroke-width="0.4"/>
<circle cx="635.5" cy="258.8" r="1.05" fill="#0000e6" stroke="#111" stroke-width="0.4"/>
<circle cx="636.6" cy="265.9" r="1.05" fill="#0000e6" stroke="#111" stroke-width="0.4"/>
<circle cx="635.7" cy="269.4" r="1.05" fill="#0000e6" stroke="#111" stroke-width="0.4"/>
<circle cx="637.5" cy="262.8" r="1.05" fill="#0000e6" stroke="#111" stroke-width="0.4"/>
<circle cx="635.6" cy="269.7" r="1.05" fill="#0000e6" stroke="#111" stroke-width="0.4"/>
<circle cx="638.3" cy="267.1" r="1.05" fill="#0000e6" stroke="#111" stroke-width="0.4"/>
<circle cx="636.2" cy="263.3" r="1.05" fill="#0000e6" stroke="#111" stroke-width="0.4"/>
<circle cx="635.6" cy="265.6" r="1.05" fill="#0000e6" stroke="#111" stroke-width="0.4"/>
<circle cx="639.2" cy="269.2" r="1.05" fill="#0000e6" stroke="#111" stroke-width="0.4"/>
<circle cx="647.3" cy="277.1" r="1.05" fill="#0000e6" stroke="#111" stroke-width="0.4"/>
<circle cx="644.3" cy="274.7" r="1.05" fill="#0000e6" stroke="#111" stroke-width="0.4"/>
<circle cx="642.3" cy="278.0" r="1.05" fill="#0000e6" stroke="#111" stroke-width="0.4"/>
<circle cx="648.3" cy="271.1" r="1.05" fill="#0000e6" stroke="#111" stroke-width="0.4"/>
<circle cx="649.5" cy="276.8" r="1.05" fill="#0000e6" stroke="#111" stroke-width="0.4"/>
<circle cx="647.0" cy="271.1" r="1.05" fill="#0000e6" stroke="#111" stroke-width="0.4"/>
<circle cx="644.1" cy="278.2" r="1.05" fill="#0000e6" stroke="#111" stroke-width="0.4"/>
<circle cx="644.6" cy="279.7" r="1.05" fill="#0000e6" stroke="#111" stroke-width="0.4"/>
<circle cx="647.3" cy="274.8" r="1.05" fill="#0000e6" stroke="#111" stroke-width="0.4"/>
<circle cx="645.1" cy="274.1" r="1.05" fill="#0000e6" stroke="#111" stroke-width="0.4"/>
<circle cx="644.4" cy="285.2" r="1.05" fill="#0000e6" stroke="#111" stroke-width="0.4"/>
<circle cx="646.7" cy="287.7" r="1.05" fill="#0000e6" stroke="#111" stroke-width="0.4"/>
<circle cx="645.1" cy="282.5" r="1.05" fill="#0000e6" stroke="#111" stroke-width="0.4"/>
<circle cx="645.8" cy="286.6" r="1.05" fill="#0000e6" stroke="#111" stroke-width="0.4"/>
<circle cx="647.6" cy="284.5" r="1.05" fill="#0000e6" stroke="#111" stroke-width="0.4"/>
<circle cx="646.5" cy="286.2" r="1.05" fill="#0000e6" stroke="#111" stroke-width="0.4"/>
<circle cx="644.6" cy="282.6" r="1.05" fill="#0000e6" stroke="#111" stroke-width="0.4"/>
<circle cx="650.2" cy="283.6" r="1.05" fill="#0000e6" stroke="#111" stroke-width="0.4"/>
<circle cx="658.8" cy="287.1" r="1.05" fill="#0000e6" stroke="#111" stroke-width="0.4"/>
<circle cx="659.2" cy="286.1" r="1.05" fill="#0000e6" stroke="#111" stroke-width="0.4"/>
<circle cx="658.8" cy="286.9" r="1.05" fill="#0000e6" stroke="#111" stroke-width="0.4"/>
<circle cx="658.7" cy="286.8" r="1.05" fill="#0000e6" stroke="#111" stroke-width="0.4"/>
<circle cx="657.4" cy="286.2" r="1.05" fill="#0000e6" stroke="#111" stroke-width="0.4"/>
<circle cx="660.5" cy="287.1" r="1.05" fill="#0000e6" stroke="#111" stroke-width="0.4"/>
<circle cx="652.4" cy="285.1" r="1.05" fill="#0000e6" stroke="#111" stroke-width="0.4"/>
<circle cx="655.0" cy="285.9" r="1.05" fill="#0000e6" stroke="#111" stroke-width="0.4"/>
<circle cx="651.3" cy="284.5" r="1.05" fill="#0000e6" stroke="#111" stroke-width="0.4"/>
<circle cx="660.2" cy="286.9" r="1.05" fill="#0000e6" stroke="#111" stroke-width="0.4"/>
<circle cx="659.7" cy="287.4" r="1.05" fill="#0000e6" stroke="#111" stroke-width="0.4"/>
<circle cx="663.3" cy="282.3" r="1.05" fill="#0000e6" stroke="#111" stroke-width="0.4"/>
<circle cx="662.6" cy="284.5" r="1.05" fill="#0000e6" stroke="#111" stroke-width="0.4"/>
<circle cx="671.2" cy="291.3" r="1.05" fill="#0000e6" stroke="#111" stroke-width="0.4"/>
<circle cx="663.3" cy="290.2" r="1.05" fill="#0000e6" stroke="#111" stroke-width="0.4"/>
<circle cx="665.2" cy="282.2" r="1.05" fill="#0000e6" stroke="#111" stroke-width="0.4"/>
<circle cx="665.5" cy="291.0" r="1.05" fill="#0000e6" stroke="#111" stroke-width="0.4"/>
<circle cx="664.9" cy="291.6" r="1.05" fill="#0000e6" stroke="#111" stroke-width="0.4"/>
<circle cx="665.2" cy="284.5" r="1.05" fill="#0000e6" stroke="#111" stroke-width="0.4"/>
<circle cx="664.7" cy="292.5" r="1.05" fill="#0000e6" stroke="#111" stroke-width="0.4"/>
<circle cx="666.9" cy="292.7" r="1.05" fill="#0000e6" stroke="#111" stroke-width="0.4"/>
<circle cx="668.4" cy="293.7" r="1.05" fill="#0000e6" stroke="#111" stroke-width="0.4"/>
<circle cx="661.9" cy="293.0" r="1.05" fill="#0000e6" stroke="#111" stroke-width="0.4"/>
<circle cx="667.3" cy="292.7" r="1.05" fill="#0000e6" stroke="#111" stroke-width="0.4"/>
<circle cx="665.8" cy="285.0" r="1.05" fill="#0000e6" stroke="#111" stroke-width="0.4"/>
<circle cx="661.7" cy="292.5" r="1.05" fill="#0000e6" stroke="#111" stroke-width="0.4"/>
<circle cx="662.7" cy="283.7" r="1.05" fill="#0000e6" stroke="#111" stroke-width="0.4"/>
<circle cx="670.0" cy="283.4" r="1.05" fill="#0000e6" stroke="#111" stroke-width="0.4"/>
<circle cx="672.3" cy="282.4" r="1.05" fill="#0000e6" stroke="#111" stroke-width="0.4"/>
<circle cx="669.6" cy="284.7" r="1.05" fill="#0000e6" stroke="#111" stroke-width="0.4"/>
<circle cx="671.7" cy="282.6" r="1.05" fill="#0000e6" stroke="#111" stroke-width="0.4"/>
<circle cx="671.0" cy="279.8" r="1.05" fill="#0000e6" stroke="#111" stroke-width="0.4"/>
<circle cx="671.1" cy="278.2" r="1.05" fill="#0000e6" stroke="#111" stroke-width="0.4"/>
<circle cx="669.4" cy="285.1" r="1.05" fill="#0000e6" stroke="#111" stroke-width="0.4"/>
<circle cx="669.0" cy="285.2" r="1.05" fill="#0000e6" stroke="#111" stroke-width="0.4"/>
<circle cx="669.1" cy="278.2" r="1.05" fill="#6fc0e0" stroke="#111" stroke-width="0.4"/>
<circle cx="629.4" cy="291.5" r="1.05" fill="#6fc0e0" stroke="#111" stroke-width="0.4"/>
<circle cx="625.8" cy="290.8" r="1.05" fill="#6fc0e0" stroke="#111" stroke-width="0.4"/>
<circle cx="630.7" cy="289.9" r="1.05" fill="#6fc0e0" stroke="#111" stroke-width="0.4"/>
<circle cx="633.7" cy="289.8" r="1.05" fill="#6fc0e0" stroke="#111" stroke-width="0.4"/>
<circle cx="625.3" cy="288.9" r="1.05" fill="#6fc0e0" stroke="#111" stroke-width="0.4"/>
<circle cx="628.4" cy="288.1" r="1.05" fill="#6fc0e0" stroke="#111" stroke-width="0.4"/>
<circle cx="639.9" cy="293.6" r="1.05" fill="#6fc0e0" stroke="#111" stroke-width="0.4"/>
<circle cx="638.2" cy="292.7" r="1.05" fill="#6fc0e0" stroke="#111" stroke-width="0.4"/>
<circle cx="643.7" cy="290.4" r="1.05" fill="#6fc0e0" stroke="#111" stroke-width="0.4"/>
<circle cx="644.5" cy="290.9" r="1.05" fill="#6fc0e0" stroke="#111" stroke-width="0.4"/>
<circle cx="637.4" cy="291.1" r="1.05" fill="#6fc0e0" stroke="#111" stroke-width="0.4"/>
<circle cx="643.2" cy="289.9" r="1.05" fill="#6fc0e0" stroke="#111" stroke-width="0.4"/>
<circle cx="646.2" cy="290.6" r="1.05" fill="#6fc0e0" stroke="#111" stroke-width="0.4"/>
<circle cx="639.5" cy="293.0" r="1.05" fill="#6fc0e0" stroke="#111" stroke-width="0.4"/>
<circle cx="643.3" cy="290.9" r="1.05" fill="#6fc0e0" stroke="#111" stroke-width="0.4"/>
<circle cx="647.0" cy="294.5" r="1.05" fill="#6fc0e0" stroke="#111" stroke-width="0.4"/>
<circle cx="640.1" cy="294.0" r="1.05" fill="#6fc0e0" stroke="#111" stroke-width="0.4"/>
<circle cx="640.3" cy="290.0" r="1.05" fill="#6fc0e0" stroke="#111" stroke-width="0.4"/>
<circle cx="661.0" cy="293.8" r="1.05" fill="#000028" stroke="#111" stroke-width="0.4"/>
<circle cx="651.6" cy="293.4" r="1.05" fill="#000028" stroke="#111" stroke-width="0.4"/>
<circle cx="657.8" cy="293.5" r="1.05" fill="#000028" stroke="#111" stroke-width="0.4"/>
<circle cx="653.3" cy="293.3" r="1.05" fill="#000028" stroke="#111" stroke-width="0.4"/>
<circle cx="659.1" cy="294.1" r="1.05" fill="#000028" stroke="#111" stroke-width="0.4"/>
<circle cx="649.8" cy="294.3" r="1.05" fill="#000028" stroke="#111" stroke-width="0.4"/>
<circle cx="655.9" cy="294.3" r="1.05" fill="#000028" stroke="#111" stroke-width="0.4"/>
<circle cx="653.5" cy="294.1" r="1.05" fill="#000028" stroke="#111" stroke-width="0.4"/>
<circle cx="653.8" cy="294.3" r="1.05" fill="#000028" stroke="#111" stroke-width="0.4"/>
<circle cx="656.0" cy="294.3" r="1.05" fill="#000028" stroke="#111" stroke-width="0.4"/>
<circle cx="656.4" cy="294.2" r="1.05" fill="#000028" stroke="#111" stroke-width="0.4"/>
<circle cx="650.7" cy="293.4" r="1.05" fill="#000028" stroke="#111" stroke-width="0.4"/>
<circle cx="661.6" cy="290.7" r="1.05" fill="#0000e6" stroke="#111" stroke-width="0.4"/>
<circle cx="639.2" cy="290.6" r="1.05" fill="#0000e6" stroke="#111" stroke-width="0.4"/>
<circle cx="642.3" cy="291.2" r="1.05" fill="#0000e6" stroke="#111" stroke-width="0.4"/>
<circle cx="644.7" cy="293.1" r="1.05" fill="#0000e6" stroke="#111" stroke-width="0.4"/>
<circle cx="642.5" cy="294.2" r="1.05" fill="#0000e6" stroke="#111" stroke-width="0.4"/>
<circle cx="645.9" cy="290.2" r="1.05" fill="#0000e6" stroke="#111" stroke-width="0.4"/>
<circle cx="653.4" cy="291.2" r="1.05" fill="#0000e6" stroke="#111" stroke-width="0.4"/>
<circle cx="669.5" cy="292.0" r="1.05" fill="#0000e6" stroke="#111" stroke-width="0.4"/>
<circle cx="635.1" cy="294.0" r="1.05" fill="#0000e6" stroke="#111" stroke-width="0.4"/>
<circle cx="668.6" cy="295.0" r="1.05" fill="#0000e6" stroke="#111" stroke-width="0.4"/>
<circle cx="659.8" cy="290.9" r="1.05" fill="#0000e6" stroke="#111" stroke-width="0.4"/>
<circle cx="638.3" cy="293.1" r="1.05" fill="#0000e6" stroke="#111" stroke-width="0.4"/>
<circle cx="661.8" cy="290.6" r="1.05" fill="#0000e6" stroke="#111" stroke-width="0.4"/>
<circle cx="644.5" cy="291.4" r="1.05" fill="#0000e6" stroke="#111" stroke-width="0.4"/>
<circle cx="535.9" cy="214.3" r="1.05" fill="#cc0a14" stroke="#111" stroke-width="0.4"/>
<circle cx="538.9" cy="205.0" r="1.05" fill="#cc0a14" stroke="#111" stroke-width="0.4"/>
<circle cx="540.5" cy="207.7" r="1.05" fill="#cc0a14" stroke="#111" stroke-width="0.4"/>
<circle cx="536.2" cy="213.2" r="1.05" fill="#cc0a14" stroke="#111" stroke-width="0.4"/>
<circle cx="541.6" cy="206.8" r="1.05" fill="#cc0a14" stroke="#111" stroke-width="0.4"/>
<circle cx="539.3" cy="207.1" r="1.05" fill="#cc0a14" stroke="#111" stroke-width="0.4"/>
<circle cx="539.4" cy="209.7" r="1.05" fill="#cc0a14" stroke="#111" stroke-width="0.4"/>
<circle cx="536.2" cy="212.5" r="1.05" fill="#cc0a14" stroke="#111" stroke-width="0.4"/>
<circle cx="535.9" cy="213.8" r="1.05" fill="#cc0a14" stroke="#111" stroke-width="0.4"/>
<circle cx="538.3" cy="213.7" r="1.05" fill="#cc0a14" stroke="#111" stroke-width="0.4"/>
<circle cx="536.0" cy="213.4" r="1.05" fill="#cc0a14" stroke="#111" stroke-width="0.4"/>
<circle cx="541.9" cy="205.1" r="1.05" fill="#cc0a14" stroke="#111" stroke-width="0.4"/>
<circle cx="539.2" cy="210.5" r="1.05" fill="#cc0a14" stroke="#111" stroke-width="0.4"/>
<circle cx="536.7" cy="211.3" r="1.05" fill="#cc0a14" stroke="#111" stroke-width="0.4"/>
<circle cx="537.4" cy="209.6" r="1.05" fill="#cc0a14" stroke="#111" stroke-width="0.4"/>
<circle cx="538.9" cy="211.8" r="1.05" fill="#cc0a14" stroke="#111" stroke-width="0.4"/>
<circle cx="535.5" cy="213.5" r="1.05" fill="#cc0a14" stroke="#111" stroke-width="0.4"/>
<circle cx="539.5" cy="205.5" r="1.05" fill="#cc0a14" stroke="#111" stroke-width="0.4"/>
<circle cx="546.5" cy="226.6" r="1.05" fill="#cc0a14" stroke="#111" stroke-width="0.4"/>
<circle cx="544.6" cy="226.2" r="1.05" fill="#cc0a14" stroke="#111" stroke-width="0.4"/>
<circle cx="544.1" cy="224.7" r="1.05" fill="#cc0a14" stroke="#111" stroke-width="0.4"/>
<circle cx="543.0" cy="225.9" r="1.05" fill="#cc0a14" stroke="#111" stroke-width="0.4"/>
<circle cx="540.1" cy="219.9" r="1.05" fill="#cc0a14" stroke="#111" stroke-width="0.4"/>
<circle cx="544.4" cy="221.0" r="1.05" fill="#cc0a14" stroke="#111" stroke-width="0.4"/>
<circle cx="545.5" cy="229.7" r="1.05" fill="#cc0a14" stroke="#111" stroke-width="0.4"/>
<circle cx="542.2" cy="219.7" r="1.05" fill="#cc0a14" stroke="#111" stroke-width="0.4"/>
<circle cx="544.5" cy="227.2" r="1.05" fill="#cc0a14" stroke="#111" stroke-width="0.4"/>
<circle cx="543.8" cy="216.1" r="1.05" fill="#cc0a14" stroke="#111" stroke-width="0.4"/>
<circle cx="541.6" cy="217.9" r="1.05" fill="#cc0a14" stroke="#111" stroke-width="0.4"/>
<circle cx="540.6" cy="220.5" r="1.05" fill="#cc0a14" stroke="#111" stroke-width="0.4"/>
<circle cx="545.1" cy="221.2" r="1.05" fill="#cc0a14" stroke="#111" stroke-width="0.4"/>
<circle cx="539.7" cy="218.0" r="1.05" fill="#cc0a14" stroke="#111" stroke-width="0.4"/>
<circle cx="539.1" cy="217.2" r="1.05" fill="#cc0a14" stroke="#111" stroke-width="0.4"/>
<circle cx="536.1" cy="216.1" r="1.05" fill="#cc0a14" stroke="#111" stroke-width="0.4"/>
<circle cx="543.4" cy="223.9" r="1.05" fill="#cc0a14" stroke="#111" stroke-width="0.4"/>
<circle cx="541.6" cy="221.0" r="1.05" fill="#cc0a14" stroke="#111" stroke-width="0.4"/>
<circle cx="539.5" cy="218.7" r="1.05" fill="#cc0a14" stroke="#111" stroke-width="0.4"/>
<circle cx="543.4" cy="222.4" r="1.05" fill="#cc0a14" stroke="#111" stroke-width="0.4"/>
<circle cx="544.1" cy="223.2" r="1.05" fill="#cc0a14" stroke="#111" stroke-width="0.4"/>
<circle cx="541.3" cy="215.4" r="1.05" fill="#cc0a14" stroke="#111" stroke-width="0.4"/>
<circle cx="543.9" cy="222.9" r="1.05" fill="#cc0a14" stroke="#111" stroke-width="0.4"/>
<circle cx="541.6" cy="220.7" r="1.05" fill="#cc0a14" stroke="#111" stroke-width="0.4"/>
<circle cx="537.0" cy="214.0" r="1.05" fill="#cc0a14" stroke="#111" stroke-width="0.4"/>
<circle cx="546.9" cy="222.8" r="1.05" fill="#cc0a14" stroke="#111" stroke-width="0.4"/>
<circle cx="542.7" cy="226.3" r="1.05" fill="#cc0a14" stroke="#111" stroke-width="0.4"/>
<circle cx="542.2" cy="222.5" r="1.05" fill="#cc0a14" stroke="#111" stroke-width="0.4"/>
<circle cx="543.2" cy="224.7" r="1.05" fill="#cc0a14" stroke="#111" stroke-width="0.4"/>
<circle cx="549.6" cy="228.5" r="1.05" fill="#cc0a14" stroke="#111" stroke-width="0.4"/>
<circle cx="545.8" cy="226.9" r="1.05" fill="#cc0a14" stroke="#111" stroke-width="0.4"/>
<circle cx="545.7" cy="228.4" r="1.05" fill="#cc0a14" stroke="#111" stroke-width="0.4"/>
<circle cx="541.0" cy="225.3" r="1.05" fill="#cc0a14" stroke="#111" stroke-width="0.4"/>
<circle cx="546.6" cy="226.9" r="1.05" fill="#cc0a14" stroke="#111" stroke-width="0.4"/>
<circle cx="545.6" cy="228.4" r="1.05" fill="#cc0a14" stroke="#111" stroke-width="0.4"/>
<circle cx="543.5" cy="224.7" r="1.05" fill="#cc0a14" stroke="#111" stroke-width="0.4"/>
<circle cx="546.7" cy="223.6" r="1.05" fill="#cc0a14" stroke="#111" stroke-width="0.4"/>
<circle cx="545.2" cy="223.2" r="1.05" fill="#cc0a14" stroke="#111" stroke-width="0.4"/>
<circle cx="544.6" cy="228.6" r="1.05" fill="#cc0a14" stroke="#111" stroke-width="0.4"/>
<circle cx="547.7" cy="226.4" r="1.05" fill="#cc0a14" stroke="#111" stroke-width="0.4"/>
<circle cx="548.4" cy="231.8" r="1.05" fill="#cc0a14" stroke="#111" stroke-width="0.4"/>
<circle cx="547.5" cy="230.7" r="1.05" fill="#cc0a14" stroke="#111" stroke-width="0.4"/>
<circle cx="551.6" cy="235.4" r="1.05" fill="#cc0a14" stroke="#111" stroke-width="0.4"/>
<circle cx="546.4" cy="227.1" r="1.05" fill="#cc0a14" stroke="#111" stroke-width="0.4"/>
<circle cx="547.7" cy="231.8" r="1.05" fill="#cc0a14" stroke="#111" stroke-width="0.4"/>
<circle cx="551.2" cy="234.1" r="1.05" fill="#cc0a14" stroke="#111" stroke-width="0.4"/>
<circle cx="549.0" cy="233.1" r="1.05" fill="#cc0a14" stroke="#111" stroke-width="0.4"/>
<circle cx="547.0" cy="230.3" r="1.05" fill="#cc0a14" stroke="#111" stroke-width="0.4"/>
<circle cx="549.2" cy="235.3" r="1.05" fill="#cc0a14" stroke="#111" stroke-width="0.4"/>
<circle cx="550.0" cy="238.0" r="1.05" fill="#cc0a14" stroke="#111" stroke-width="0.4"/>
<circle cx="550.7" cy="234.3" r="1.05" fill="#cc0a14" stroke="#111" stroke-width="0.4"/>
<circle cx="546.2" cy="226.0" r="1.05" fill="#cc0a14" stroke="#111" stroke-width="0.4"/>
<circle cx="548.8" cy="234.5" r="1.05" fill="#cc0a14" stroke="#111" stroke-width="0.4"/>
<circle cx="547.7" cy="229.4" r="1.05" fill="#cc0a14" stroke="#111" stroke-width="0.4"/>
<circle cx="547.7" cy="227.3" r="1.05" fill="#cc0a14" stroke="#111" stroke-width="0.4"/>
<circle cx="549.1" cy="237.7" r="1.05" fill="#cc0a14" stroke="#111" stroke-width="0.4"/>
<circle cx="551.6" cy="236.2" r="1.05" fill="#cc0a14" stroke="#111" stroke-width="0.4"/>
<circle cx="547.7" cy="234.0" r="1.05" fill="#cc0a14" stroke="#111" stroke-width="0.4"/>
<circle cx="549.7" cy="236.7" r="1.05" fill="#cc0a14" stroke="#111" stroke-width="0.4"/>
<circle cx="551.1" cy="239.6" r="1.05" fill="#cc0a14" stroke="#111" stroke-width="0.4"/>
<circle cx="551.2" cy="238.7" r="1.05" fill="#cc0a14" stroke="#111" stroke-width="0.4"/>
<circle cx="543.5" cy="225.9" r="1.05" fill="#cc0a14" stroke="#111" stroke-width="0.4"/>
<circle cx="537.0" cy="233.4" r="1.05" fill="#cc0a14" stroke="#111" stroke-width="0.4"/>
<circle cx="537.1" cy="233.9" r="1.05" fill="#cc0a14" stroke="#111" stroke-width="0.4"/>
<circle cx="536.7" cy="230.8" r="1.05" fill="#cc0a14" stroke="#111" stroke-width="0.4"/>
<circle cx="536.9" cy="229.6" r="1.05" fill="#cc0a14" stroke="#111" stroke-width="0.4"/>
<circle cx="536.4" cy="232.3" r="1.05" fill="#cc0a14" stroke="#111" stroke-width="0.4"/>
<circle cx="536.6" cy="240.7" r="1.05" fill="#cc0a14" stroke="#111" stroke-width="0.4"/>
<circle cx="562.6" cy="260.1" r="1.05" fill="#cc0a14" stroke="#111" stroke-width="0.4"/>
<circle cx="559.6" cy="256.2" r="1.05" fill="#cc0a14" stroke="#111" stroke-width="0.4"/>
<circle cx="559.0" cy="255.1" r="1.05" fill="#cc0a14" stroke="#111" stroke-width="0.4"/>
<circle cx="558.3" cy="256.3" r="1.05" fill="#cc0a14" stroke="#111" stroke-width="0.4"/>
<circle cx="556.5" cy="252.8" r="1.05" fill="#cc0a14" stroke="#111" stroke-width="0.4"/>
<circle cx="554.8" cy="249.7" r="1.05" fill="#cc0a14" stroke="#111" stroke-width="0.4"/>
<circle cx="557.4" cy="249.6" r="1.05" fill="#cc0a14" stroke="#111" stroke-width="0.4"/>
<circle cx="560.8" cy="257.7" r="1.05" fill="#cc0a14" stroke="#111" stroke-width="0.4"/>
<circle cx="559.4" cy="252.5" r="1.05" fill="#cc0a14" stroke="#111" stroke-width="0.4"/>
<circle cx="555.5" cy="249.5" r="1.05" fill="#cc0a14" stroke="#111" stroke-width="0.4"/>
<circle cx="559.1" cy="255.4" r="1.05" fill="#cc0a14" stroke="#111" stroke-width="0.4"/>
<circle cx="554.6" cy="248.4" r="1.05" fill="#cc0a14" stroke="#111" stroke-width="0.4"/>
<circle cx="557.3" cy="251.7" r="1.05" fill="#cc0a14" stroke="#111" stroke-width="0.4"/>
<circle cx="561.8" cy="260.8" r="1.05" fill="#cc0a14" stroke="#111" stroke-width="0.4"/>
<circle cx="564.4" cy="257.4" r="1.05" fill="#cc0a14" stroke="#111" stroke-width="0.4"/>
<circle cx="560.6" cy="259.3" r="1.05" fill="#cc0a14" stroke="#111" stroke-width="0.4"/>
<circle cx="560.9" cy="258.8" r="1.05" fill="#cc0a14" stroke="#111" stroke-width="0.4"/>
<circle cx="560.2" cy="259.5" r="1.05" fill="#cc0a14" stroke="#111" stroke-width="0.4"/>
<circle cx="562.8" cy="261.4" r="1.05" fill="#cc0a14" stroke="#111" stroke-width="0.4"/>
<circle cx="559.3" cy="253.7" r="1.05" fill="#cc0a14" stroke="#111" stroke-width="0.4"/>
<circle cx="559.6" cy="253.3" r="1.05" fill="#cc0a14" stroke="#111" stroke-width="0.4"/>
<circle cx="557.1" cy="247.6" r="1.05" fill="#cc0a14" stroke="#111" stroke-width="0.4"/>
<circle cx="561.5" cy="253.9" r="1.05" fill="#cc0a14" stroke="#111" stroke-width="0.4"/>
<circle cx="563.6" cy="259.2" r="1.05" fill="#cc0a14" stroke="#111" stroke-width="0.4"/>
<circle cx="556.3" cy="250.5" r="1.05" fill="#cc0a14" stroke="#111" stroke-width="0.4"/>
<circle cx="562.3" cy="258.4" r="1.05" fill="#cc0a14" stroke="#111" stroke-width="0.4"/>
<circle cx="560.6" cy="257.8" r="1.05" fill="#cc0a14" stroke="#111" stroke-width="0.4"/>
<circle cx="562.5" cy="260.9" r="1.05" fill="#cc0a14" stroke="#111" stroke-width="0.4"/>
<circle cx="560.0" cy="258.4" r="1.05" fill="#cc0a14" stroke="#111" stroke-width="0.4"/>
<circle cx="556.1" cy="251.0" r="1.05" fill="#cc0a14" stroke="#111" stroke-width="0.4"/>
<circle cx="551.5" cy="251.1" r="1.05" fill="#cc0a14" stroke="#111" stroke-width="0.4"/>
<circle cx="550.9" cy="241.5" r="1.05" fill="#cc0a14" stroke="#111" stroke-width="0.4"/>
<circle cx="550.0" cy="246.2" r="1.05" fill="#cc0a14" stroke="#111" stroke-width="0.4"/>
<circle cx="551.0" cy="247.5" r="1.05" fill="#cc0a14" stroke="#111" stroke-width="0.4"/>
<circle cx="549.2" cy="254.5" r="1.05" fill="#cc0a14" stroke="#111" stroke-width="0.4"/>
<circle cx="550.8" cy="253.6" r="1.05" fill="#cc0a14" stroke="#111" stroke-width="0.4"/>
<circle cx="551.0" cy="256.9" r="1.05" fill="#cc0a14" stroke="#111" stroke-width="0.4"/>
<circle cx="550.9" cy="255.3" r="1.05" fill="#cc0a14" stroke="#111" stroke-width="0.4"/>
<circle cx="539.5" cy="225.2" r="1.05" fill="#8fe070" stroke="#111" stroke-width="0.4"/>
<circle cx="541.5" cy="225.5" r="1.05" fill="#8fe070" stroke="#111" stroke-width="0.4"/>
<circle cx="540.5" cy="235.0" r="1.05" fill="#8fe070" stroke="#111" stroke-width="0.4"/>
<circle cx="544.4" cy="234.0" r="1.05" fill="#8fe070" stroke="#111" stroke-width="0.4"/>
<circle cx="537.6" cy="258.1" r="1.05" fill="#8fe070" stroke="#111" stroke-width="0.4"/>
<circle cx="543.4" cy="254.3" r="1.05" fill="#8fe070" stroke="#111" stroke-width="0.4"/>
<circle cx="545.3" cy="254.3" r="1.05" fill="#8fe070" stroke="#111" stroke-width="0.4"/>
<circle cx="552.2" cy="243.8" r="1.05" fill="#8fe070" stroke="#111" stroke-width="0.4"/>
<circle cx="552.3" cy="242.3" r="1.05" fill="#8fe070" stroke="#111" stroke-width="0.4"/>
<circle cx="552.9" cy="234.9" r="1.05" fill="#8fe070" stroke="#111" stroke-width="0.4"/>
<circle cx="554.3" cy="238.6" r="1.05" fill="#8fe070" stroke="#111" stroke-width="0.4"/>
<circle cx="553.2" cy="241.0" r="1.05" fill="#8fe070" stroke="#111" stroke-width="0.4"/>
<circle cx="546.1" cy="251.7" r="1.05" fill="#8fe070" stroke="#111" stroke-width="0.4"/>
<circle cx="543.5" cy="250.3" r="1.05" fill="#8fe070" stroke="#111" stroke-width="0.4"/>
<circle cx="548.6" cy="251.8" r="1.05" fill="#8fe070" stroke="#111" stroke-width="0.4"/>
<circle cx="549.9" cy="247.9" r="1.05" fill="#8fe070" stroke="#111" stroke-width="0.4"/>
<circle cx="547.7" cy="255.4" r="1.05" fill="#8fe070" stroke="#111" stroke-width="0.4"/>
<circle cx="548.6" cy="253.6" r="1.05" fill="#8fe070" stroke="#111" stroke-width="0.4"/>
<circle cx="545.3" cy="255.7" r="1.05" fill="#8fe070" stroke="#111" stroke-width="0.4"/>
<circle cx="546.7" cy="251.9" r="1.05" fill="#8fe070" stroke="#111" stroke-width="0.4"/>
<circle cx="543.4" cy="246.5" r="1.05" fill="#8fe070" stroke="#111" stroke-width="0.4"/>
<circle cx="547.1" cy="251.7" r="1.05" fill="#8fe070" stroke="#111" stroke-width="0.4"/>
<circle cx="535.7" cy="267.8" r="1.05" fill="#f5a04f" stroke="#111" stroke-width="0.4"/>
<circle cx="550.2" cy="266.9" r="1.05" fill="#f5a04f" stroke="#111" stroke-width="0.4"/>
<circle cx="563.8" cy="268.8" r="1.05" fill="#f5a04f" stroke="#111" stroke-width="0.4"/>
<path d="M542.4,202.4 L543.9,203.9 L542.4,205.4 L540.9,203.9 Z" fill="#6a00c8" stroke="#222" stroke-width="0.4"/>
<circle cx="467.3" cy="282.1" r="1.05" fill="#0000e6" stroke="#111" stroke-width="0.4"/>
<circle cx="464.9" cy="294.1" r="1.05" fill="#0000e6" stroke="#111" stroke-width="0.4"/>
<circle cx="459.8" cy="284.3" r="1.05" fill="#0000e6" stroke="#111" stroke-width="0.4"/>
<circle cx="463.6" cy="286.3" r="1.05" fill="#0000e6" stroke="#111" stroke-width="0.4"/>
<circle cx="457.5" cy="280.4" r="1.05" fill="#0000e6" stroke="#111" stroke-width="0.4"/>
<circle cx="465.9" cy="279.9" r="1.05" fill="#0000e6" stroke="#111" stroke-width="0.4"/>
<circle cx="457.8" cy="292.0" r="1.05" fill="#0000e6" stroke="#111" stroke-width="0.4"/>
<circle cx="466.2" cy="293.0" r="1.05" fill="#0000e6" stroke="#111" stroke-width="0.4"/>
<circle cx="467.2" cy="295.9" r="1.05" fill="#0000e6" stroke="#111" stroke-width="0.4"/>
<circle cx="461.3" cy="287.0" r="1.05" fill="#0000e6" stroke="#111" stroke-width="0.4"/>
<circle cx="459.1" cy="277.3" r="1.05" fill="#0000e6" stroke="#111" stroke-width="0.4"/>
<circle cx="456.7" cy="290.5" r="1.05" fill="#0000e6" stroke="#111" stroke-width="0.4"/>
<circle cx="461.6" cy="282.6" r="1.05" fill="#0000e6" stroke="#111" stroke-width="0.4"/>
<circle cx="457.1" cy="289.1" r="1.05" fill="#0000e6" stroke="#111" stroke-width="0.4"/>
<circle cx="456.8" cy="288.4" r="1.05" fill="#0000e6" stroke="#111" stroke-width="0.4"/>
<circle cx="466.8" cy="282.4" r="1.05" fill="#0000e6" stroke="#111" stroke-width="0.4"/>
<circle cx="461.1" cy="288.3" r="1.05" fill="#0000e6" stroke="#111" stroke-width="0.4"/>
<circle cx="459.3" cy="287.7" r="1.05" fill="#0000e6" stroke="#111" stroke-width="0.4"/>
<circle cx="462.6" cy="283.3" r="1.05" fill="#0000e6" stroke="#111" stroke-width="0.4"/>
<circle cx="459.5" cy="284.6" r="1.05" fill="#0000e6" stroke="#111" stroke-width="0.4"/>
<circle cx="455.6" cy="280.9" r="1.05" fill="#0000e6" stroke="#111" stroke-width="0.4"/>
<circle cx="458.3" cy="290.8" r="1.05" fill="#0000e6" stroke="#111" stroke-width="0.4"/>
<circle cx="461.0" cy="292.8" r="1.05" fill="#0000e6" stroke="#111" stroke-width="0.4"/>
<circle cx="457.2" cy="290.7" r="1.05" fill="#0000e6" stroke="#111" stroke-width="0.4"/>
<circle cx="466.5" cy="285.3" r="1.05" fill="#0000e6" stroke="#111" stroke-width="0.4"/>
<circle cx="460.0" cy="282.1" r="1.05" fill="#0000e6" stroke="#111" stroke-width="0.4"/>
<circle cx="462.4" cy="279.5" r="1.05" fill="#0000e6" stroke="#111" stroke-width="0.4"/>
<circle cx="463.1" cy="292.8" r="1.05" fill="#0000e6" stroke="#111" stroke-width="0.4"/>
<circle cx="466.2" cy="278.8" r="1.05" fill="#0000e6" stroke="#111" stroke-width="0.4"/>
<circle cx="462.2" cy="281.3" r="1.05" fill="#0000e6" stroke="#111" stroke-width="0.4"/>
<circle cx="486.8" cy="287.5" r="1.05" fill="#0000e6" stroke="#111" stroke-width="0.4"/>
<circle cx="464.1" cy="287.1" r="1.05" fill="#0000e6" stroke="#111" stroke-width="0.4"/>
<circle cx="476.2" cy="287.2" r="1.05" fill="#0000e6" stroke="#111" stroke-width="0.4"/>
<circle cx="478.3" cy="289.4" r="1.05" fill="#0000e6" stroke="#111" stroke-width="0.4"/>
<circle cx="478.5" cy="292.4" r="1.05" fill="#0000e6" stroke="#111" stroke-width="0.4"/>
<circle cx="477.4" cy="290.3" r="1.05" fill="#0000e6" stroke="#111" stroke-width="0.4"/>
<circle cx="490.0" cy="289.8" r="1.05" fill="#0000e6" stroke="#111" stroke-width="0.4"/>
<circle cx="483.7" cy="289.2" r="1.05" fill="#0000e6" stroke="#111" stroke-width="0.4"/>
<circle cx="468.3" cy="291.6" r="1.05" fill="#0000e6" stroke="#111" stroke-width="0.4"/>
<circle cx="482.5" cy="288.7" r="1.05" fill="#0000e6" stroke="#111" stroke-width="0.4"/>
<circle cx="475.0" cy="290.1" r="1.05" fill="#0000e6" stroke="#111" stroke-width="0.4"/>
<circle cx="473.1" cy="290.0" r="1.05" fill="#0000e6" stroke="#111" stroke-width="0.4"/>
<circle cx="480.6" cy="292.1" r="1.05" fill="#0000e6" stroke="#111" stroke-width="0.4"/>
<circle cx="484.6" cy="290.7" r="1.05" fill="#0000e6" stroke="#111" stroke-width="0.4"/>
<circle cx="466.6" cy="290.1" r="1.05" fill="#0000e6" stroke="#111" stroke-width="0.4"/>
<circle cx="474.5" cy="288.1" r="1.05" fill="#0000e6" stroke="#111" stroke-width="0.4"/>
<circle cx="488.6" cy="291.0" r="1.05" fill="#0000e6" stroke="#111" stroke-width="0.4"/>
<circle cx="489.1" cy="291.4" r="1.05" fill="#0000e6" stroke="#111" stroke-width="0.4"/>
<circle cx="481.0" cy="294.9" r="1.05" fill="#000028" stroke="#111" stroke-width="0.4"/>
<circle cx="480.8" cy="295.1" r="1.05" fill="#000028" stroke="#111" stroke-width="0.4"/>
<circle cx="461.4" cy="296.0" r="1.05" fill="#000028" stroke="#111" stroke-width="0.4"/>
<circle cx="475.8" cy="295.2" r="1.05" fill="#000028" stroke="#111" stroke-width="0.4"/>
<circle cx="462.8" cy="295.0" r="1.05" fill="#000028" stroke="#111" stroke-width="0.4"/>
<circle cx="491.0" cy="295.8" r="1.05" fill="#000028" stroke="#111" stroke-width="0.4"/>
<circle cx="496.4" cy="295.4" r="1.05" fill="#000028" stroke="#111" stroke-width="0.4"/>
<circle cx="467.9" cy="295.1" r="1.05" fill="#000028" stroke="#111" stroke-width="0.4"/>
<circle cx="489.3" cy="295.3" r="1.05" fill="#000028" stroke="#111" stroke-width="0.4"/>
<circle cx="477.2" cy="295.3" r="1.05" fill="#000028" stroke="#111" stroke-width="0.4"/>
<circle cx="476.1" cy="295.3" r="1.05" fill="#000028" stroke="#111" stroke-width="0.4"/>
<circle cx="481.4" cy="295.3" r="1.05" fill="#000028" stroke="#111" stroke-width="0.4"/>
<circle cx="465.6" cy="294.6" r="1.05" fill="#000028" stroke="#111" stroke-width="0.4"/>
<circle cx="487.9" cy="294.8" r="1.05" fill="#000028" stroke="#111" stroke-width="0.4"/>
<circle cx="476.3" cy="294.7" r="1.05" fill="#000028" stroke="#111" stroke-width="0.4"/>
<circle cx="470.6" cy="295.7" r="1.05" fill="#000028" stroke="#111" stroke-width="0.4"/>
<circle cx="481.2" cy="294.8" r="1.05" fill="#000028" stroke="#111" stroke-width="0.4"/>
<circle cx="467.6" cy="294.5" r="1.05" fill="#000028" stroke="#111" stroke-width="0.4"/>
<circle cx="462.0" cy="294.8" r="1.05" fill="#000028" stroke="#111" stroke-width="0.4"/>
<circle cx="487.0" cy="295.4" r="1.05" fill="#000028" stroke="#111" stroke-width="0.4"/>
<text transform="translate(430.60,249.50) rotate(-90)" font-size="9.2" text-anchor="middle" fill="#222">-log<tspan font-size="5.70" dy="2.30">10</tspan><tspan dy="-2.30">(</tspan><tspan font-style="italic">P</tspan>)</text>
<text x="657.80" y="208.80" font-size="7.2" text-anchor="start" fill="#222" >r<tspan font-size="4" dy="-2.5">2</tspan></text>
<rect x="645.50" y="211.80" width="11.60" height="4.10" fill="#dd0000" stroke="#222" stroke-width="0.6" />
<text x="659.60" y="216.40" font-size="6.9" text-anchor="start" fill="#222" >&gt;0.8</text>
<rect x="645.50" y="219.55" width="11.60" height="4.10" fill="#f7a24f" stroke="#222" stroke-width="0.6" />
<text x="659.60" y="224.15" font-size="6.9" text-anchor="start" fill="#222" >0.6-0.8</text>
<rect x="645.50" y="227.30" width="11.60" height="4.10" fill="#9ff07c" stroke="#222" stroke-width="0.6" />
<text x="659.60" y="231.90" font-size="6.9" text-anchor="start" fill="#222" >0.4-0.6</text>
<rect x="645.50" y="235.05" width="11.60" height="4.10" fill="#85cdea" stroke="#222" stroke-width="0.6" />
<text x="659.60" y="239.65" font-size="6.9" text-anchor="start" fill="#222" >0.2-0.4</text>
<rect x="645.50" y="242.80" width="11.60" height="4.10" fill="#0000dd" stroke="#222" stroke-width="0.6" />
<text x="659.60" y="247.40" font-size="6.9" text-anchor="start" fill="#222" >&lt;0.2</text>
<rect x="449.40" y="306.00" width="234.00" height="33.20" fill="#fff" stroke="#8a8a8a" stroke-width="0.9" />
<line x1="503.70" y1="315.02" x2="542.10" y2="315.02" stroke="#555" stroke-width="0.6" />
<line x1="503.70" y1="313.82" x2="503.70" y2="316.22" stroke="#333" stroke-width="0.6" />
<line x1="542.10" y1="313.82" x2="542.10" y2="316.22" stroke="#333" stroke-width="0.6" />
<line x1="515.30" y1="313.82" x2="515.30" y2="316.22" stroke="#333" stroke-width="0.6" />
<line x1="521.30" y1="313.82" x2="521.30" y2="316.22" stroke="#333" stroke-width="0.6" />
<line x1="540.50" y1="313.82" x2="540.50" y2="316.22" stroke="#333" stroke-width="0.6" />
<text x="523.90" y="313.38" font-size="7.0" text-anchor="middle" fill="#333" >MSRB3</text>
<line x1="459.30" y1="324.85" x2="475.60" y2="324.85" stroke="#555" stroke-width="0.6" />
<line x1="459.30" y1="323.65" x2="459.30" y2="326.05" stroke="#333" stroke-width="0.6" />
<line x1="475.60" y1="323.65" x2="475.60" y2="326.05" stroke="#333" stroke-width="0.6" />
<line x1="460.50" y1="323.65" x2="460.50" y2="326.05" stroke="#333" stroke-width="0.6" />
<line x1="461.60" y1="323.65" x2="461.60" y2="326.05" stroke="#333" stroke-width="0.6" />
<text x="467.60" y="322.40" font-size="7.0" text-anchor="middle" fill="#333" >WIF1</text>
<line x1="485.30" y1="324.85" x2="501.80" y2="324.85" stroke="#555" stroke-width="0.6" />
<line x1="485.30" y1="323.65" x2="485.30" y2="326.05" stroke="#333" stroke-width="0.6" />
<line x1="501.80" y1="323.65" x2="501.80" y2="326.05" stroke="#333" stroke-width="0.6" />
<line x1="490.30" y1="323.65" x2="490.30" y2="326.05" stroke="#333" stroke-width="0.6" />
<line x1="492.30" y1="323.65" x2="492.30" y2="326.05" stroke="#333" stroke-width="0.6" />
<line x1="494.30" y1="323.65" x2="494.30" y2="326.05" stroke="#333" stroke-width="0.6" />
<line x1="496.30" y1="323.65" x2="496.30" y2="326.05" stroke="#333" stroke-width="0.6" />
<line x1="498.30" y1="323.65" x2="498.30" y2="326.05" stroke="#333" stroke-width="0.6" />
<text x="493.70" y="322.40" font-size="7.0" text-anchor="middle" fill="#333" >LEMD3</text>
<line x1="528.90" y1="324.03" x2="528.90" y2="325.67" stroke="#666" stroke-width="0.5" />
<rect x="550.60" y="323.83" width="1.30" height="2.00" fill="#333" stroke="none" stroke-width="1" />
<line x1="458.20" y1="334.38" x2="459.90" y2="334.38" stroke="#555" stroke-width="0.6" />
<line x1="458.20" y1="333.18" x2="458.20" y2="335.58" stroke="#333" stroke-width="0.6" />
<line x1="459.90" y1="333.18" x2="459.90" y2="335.58" stroke="#333" stroke-width="0.6" />
<rect x="481.80" y="333.46" width="1.10" height="1.80" fill="#333" stroke="none" stroke-width="1" />
<line x1="594.30" y1="315.63" x2="596.50" y2="315.63" stroke="#555" stroke-width="0.6" />
<line x1="594.30" y1="314.43" x2="594.30" y2="316.83" stroke="#333" stroke-width="0.6" />
<line x1="596.50" y1="314.43" x2="596.50" y2="316.83" stroke="#333" stroke-width="0.6" />
<text x="670.70" y="313.69" font-size="7.0" text-anchor="middle" fill="#333" >LLPH</text>
<rect x="670.10" y="314.81" width="1.40" height="1.60" fill="#555" stroke="none" stroke-width="1" />
<line x1="608.80" y1="334.38" x2="639.80" y2="334.38" stroke="#555" stroke-width="0.6" />
<line x1="608.80" y1="333.18" x2="608.80" y2="335.58" stroke="#333" stroke-width="0.6" />
<line x1="639.80" y1="333.18" x2="639.80" y2="335.58" stroke="#333" stroke-width="0.6" />
<text x="624.90" y="331.00" font-size="7.0" text-anchor="middle" fill="#333" >HMGA2</text>
<text x="672.80" y="331.00" font-size="7.0" text-anchor="middle" fill="#333" >TBIM4</text>
<line x1="672.70" y1="333.26" x2="672.70" y2="335.51" stroke="#555" stroke-width="0.6" />
<text x="456.50" y="348.30" font-size="9.0" text-anchor="middle" fill="#222" >8.0</text>
<text x="499.76" y="348.30" font-size="9.0" text-anchor="middle" fill="#222" >8.2</text>
<text x="543.02" y="348.30" font-size="9.0" text-anchor="middle" fill="#222" >8.4</text>
<text x="586.28" y="348.30" font-size="9.0" text-anchor="middle" fill="#222" >8.6</text>
<text x="629.54" y="348.30" font-size="9.0" text-anchor="middle" fill="#222" >8.8</text>
<text x="672.80" y="348.30" font-size="9.0" text-anchor="middle" fill="#222" >9.0</text>
<text x="564.00" y="360.00" font-size="9.0" text-anchor="middle" fill="#222" >Chromosome 10 (Mb)</text>
</svg></body></html>
